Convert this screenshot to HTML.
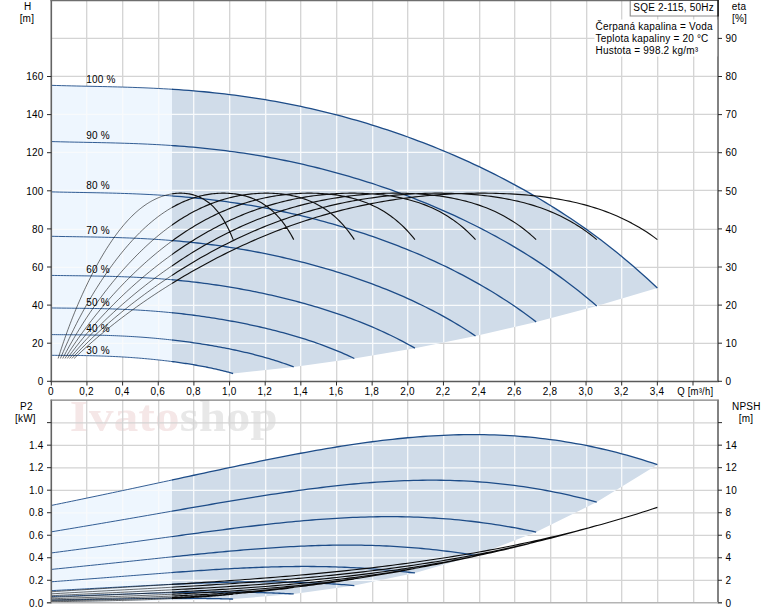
<!DOCTYPE html>
<html><head><meta charset="utf-8"><title>SQE 2-115</title>
<style>html,body{margin:0;padding:0;background:#fff;}body{width:774px;height:611px;overflow:hidden;}svg{display:block;}text{font-family:"Liberation Sans",sans-serif;font-size:10px;letter-spacing:0.2px;fill:#000;}</style>
</head><body>
<svg width="774" height="611" viewBox="0 0 774 611">
<rect x="0" y="0" width="774" height="611" fill="#fff"/>
<defs>
<clipPath id="cl"><rect x="0" y="0" width="172.00" height="611"/></clipPath>
<clipPath id="cr"><rect x="172.00" y="0" width="774" height="611"/></clipPath>
<clipPath id="rh"><path d="M51.30 85.34 L56.39 85.49 L61.49 85.63 L66.58 85.76 L71.67 85.89 L76.76 86.00 L81.86 86.11 L86.95 86.22 L92.04 86.33 L97.14 86.44 L102.23 86.55 L107.32 86.67 L112.41 86.80 L117.51 86.93 L122.60 87.07 L127.69 87.23 L132.79 87.40 L137.88 87.58 L142.97 87.78 L148.06 87.99 L153.16 88.23 L158.25 88.48 L163.34 88.75 L168.44 89.04 L173.53 89.36 L178.62 89.70 L183.71 90.06 L188.81 90.45 L193.90 90.86 L198.99 91.30 L204.09 91.77 L209.18 92.26 L214.27 92.78 L219.36 93.34 L224.46 93.92 L229.55 94.53 L234.64 95.17 L239.74 95.84 L244.83 96.54 L249.92 97.28 L255.01 98.04 L260.11 98.84 L265.20 99.67 L270.29 100.54 L275.39 101.43 L280.48 102.36 L285.57 103.33 L290.66 104.33 L295.76 105.36 L300.85 106.42 L305.94 107.53 L311.04 108.66 L316.13 109.83 L321.22 111.04 L326.31 112.28 L331.41 113.55 L336.50 114.86 L341.59 116.21 L346.69 117.59 L351.78 119.01 L356.87 120.46 L361.96 121.95 L367.06 123.47 L372.15 125.04 L377.24 126.64 L382.34 128.27 L387.43 129.94 L392.52 131.65 L397.61 133.40 L402.71 135.18 L407.80 137.01 L412.89 138.87 L417.99 140.77 L423.08 142.70 L428.17 144.68 L433.26 146.70 L438.36 148.75 L443.45 150.85 L448.54 152.99 L453.64 155.17 L458.73 157.39 L463.82 159.66 L468.91 161.96 L474.01 164.32 L479.10 166.71 L484.19 169.15 L489.29 171.64 L494.38 174.18 L499.47 176.76 L504.56 179.39 L509.66 182.07 L514.75 184.81 L519.84 187.59 L524.94 190.43 L530.03 193.32 L535.12 196.27 L540.21 199.27 L545.31 202.33 L550.40 205.46 L555.49 208.64 L560.59 211.89 L565.68 215.20 L570.77 218.57 L575.86 222.02 L580.96 225.53 L586.05 229.12 L591.14 232.78 L596.24 236.51 L601.33 240.32 L606.42 244.22 L611.51 248.19 L616.61 252.25 L621.70 256.40 L626.79 260.63 L631.89 264.96 L636.98 269.39 L642.07 273.91 L647.16 278.53 L652.26 283.26 L657.35 288.09 L596.75 305.92 L536.14 321.88 L475.53 335.96 L414.93 348.16 L354.32 358.49 L293.72 366.93 L233.12 373.50 L233.12 373.50 L231.59 373.07 L230.06 372.64 L228.53 372.23 L227.00 371.82 L225.48 371.42 L223.95 371.03 L222.42 370.65 L220.89 370.28 L219.36 369.92 L217.84 369.56 L216.31 369.21 L214.78 368.87 L213.25 368.53 L211.73 368.20 L210.20 367.88 L208.67 367.56 L207.14 367.25 L205.61 366.95 L204.09 366.65 L202.56 366.36 L201.03 366.08 L199.50 365.80 L197.97 365.52 L196.45 365.25 L194.92 364.99 L193.39 364.73 L191.86 364.47 L190.33 364.22 L188.81 363.98 L187.28 363.73 L185.75 363.50 L184.22 363.27 L182.70 363.04 L181.17 362.82 L179.64 362.60 L178.11 362.38 L176.58 362.17 L175.06 361.96 L173.53 361.76 L172.00 361.56 L170.47 361.36 L168.94 361.17 L167.42 360.98 L165.89 360.80 L164.36 360.62 L162.83 360.44 L161.31 360.27 L159.78 360.10 L158.25 359.93 L156.72 359.77 L155.19 359.61 L153.67 359.45 L152.14 359.30 L150.61 359.15 L149.08 359.00 L147.56 358.86 L146.03 358.72 L144.50 358.58 L142.97 358.44 L141.44 358.31 L139.92 358.19 L138.39 358.06 L136.86 357.94 L135.33 357.83 L133.80 357.71 L132.28 357.60 L130.75 357.49 L129.22 357.39 L127.69 357.29 L126.17 357.19 L124.64 357.09 L123.11 357.00 L121.58 356.91 L120.05 356.82 L118.53 356.74 L117.00 356.66 L115.47 356.58 L113.94 356.51 L112.41 356.44 L110.89 356.37 L109.36 356.30 L107.83 356.24 L106.30 356.18 L104.78 356.12 L103.25 356.07 L101.72 356.02 L100.19 355.97 L98.66 355.92 L97.14 355.88 L95.61 355.84 L94.08 355.80 L92.55 355.76 L91.02 355.73 L89.50 355.69 L87.97 355.66 L86.44 355.64 L84.91 355.61 L83.38 355.59 L81.86 355.56 L80.33 355.54 L78.80 355.52 L77.27 355.51 L75.75 355.49 L74.22 355.48 L72.69 355.46 L71.16 355.45 L69.63 355.44 L68.11 355.43 L66.58 355.42 L65.05 355.41 L63.52 355.40 L61.99 355.39 L60.47 355.38 L58.94 355.37 L57.41 355.36 L55.88 355.35 L54.36 355.34 L52.83 355.33 L51.30 355.31Z"/></clipPath>
<clipPath id="rp"><path d="M51.30 505.45 L56.39 504.40 L61.49 503.35 L66.58 502.30 L71.67 501.25 L76.76 500.19 L81.86 499.13 L86.95 498.07 L92.04 497.01 L97.14 495.95 L102.23 494.88 L107.32 493.81 L112.41 492.73 L117.51 491.66 L122.60 490.58 L127.69 489.50 L132.79 488.41 L137.88 487.32 L142.97 486.23 L148.06 485.14 L153.16 484.04 L158.25 482.95 L163.34 481.85 L168.44 480.75 L173.53 479.65 L178.62 478.55 L183.71 477.45 L188.81 476.35 L193.90 475.25 L198.99 474.15 L204.09 473.05 L209.18 471.95 L214.27 470.86 L219.36 469.77 L224.46 468.68 L229.55 467.60 L234.64 466.52 L239.74 465.45 L244.83 464.38 L249.92 463.32 L255.01 462.27 L260.11 461.23 L265.20 460.19 L270.29 459.17 L275.39 458.15 L280.48 457.14 L285.57 456.15 L290.66 455.17 L295.76 454.20 L300.85 453.24 L305.94 452.30 L311.04 451.37 L316.13 450.47 L321.22 449.57 L326.31 448.70 L331.41 447.84 L336.50 447.00 L341.59 446.18 L346.69 445.39 L351.78 444.61 L356.87 443.86 L361.96 443.13 L367.06 442.43 L372.15 441.74 L377.24 441.09 L382.34 440.46 L387.43 439.86 L392.52 439.29 L397.61 438.74 L402.71 438.23 L407.80 437.75 L412.89 437.29 L417.99 436.87 L423.08 436.49 L428.17 436.13 L433.26 435.82 L438.36 435.53 L443.45 435.28 L448.54 435.07 L453.64 434.90 L458.73 434.76 L463.82 434.66 L468.91 434.61 L474.01 434.59 L479.10 434.61 L484.19 434.68 L489.29 434.78 L494.38 434.93 L499.47 435.12 L504.56 435.36 L509.66 435.64 L514.75 435.96 L519.84 436.33 L524.94 436.75 L530.03 437.21 L535.12 437.72 L540.21 438.28 L545.31 438.88 L550.40 439.53 L555.49 440.23 L560.59 440.98 L565.68 441.78 L570.77 442.62 L575.86 443.52 L580.96 444.47 L586.05 445.46 L591.14 446.51 L596.24 447.60 L601.33 448.75 L606.42 449.94 L611.51 451.19 L616.61 452.48 L621.70 453.83 L626.79 455.23 L631.89 456.67 L636.98 458.17 L642.07 459.72 L647.16 461.31 L652.26 462.96 L657.35 464.65 L596.75 502.09 L536.14 532.07 L475.53 555.41 L414.93 572.96 L354.32 585.53 L293.72 593.96 L233.12 599.07 L51.30 602.80Z"/></clipPath>
<clipPath id="c0"><rect x="51.30" y="0.50" width="666.70" height="380.90"/></clipPath>
<clipPath id="c1"><rect x="51.30" y="400.30" width="666.70" height="202.50"/></clipPath>
<filter id="bl" x="-5%" y="-20%" width="110%" height="140%"><feGaussianBlur stdDeviation="0.5"/></filter>
</defs>
<g font-family="Liberation Serif,serif" font-weight="bold" opacity="1" filter="url(#bl)"><text x="69.8" y="430.8" textLength="110" lengthAdjust="spacingAndGlyphs" style="font-family:'Liberation Serif',serif;font-weight:bold;font-size:45px;fill:#f5e7e7">Ivato</text><text x="179.8" y="430.8" textLength="98" lengthAdjust="spacingAndGlyphs" style="font-family:'Liberation Serif',serif;font-weight:bold;font-size:45px;fill:#e8e8e8">shop</text></g>
<path d="M86.70 0.50 V381.40 M86.70 400.30 V602.80 M122.70 0.50 V381.40 M122.70 400.30 V602.80 M158.70 0.50 V381.40 M158.70 400.30 V602.80 M193.70 0.50 V381.40 M193.70 400.30 V602.80 M229.70 0.50 V381.40 M229.70 400.30 V602.80 M265.70 0.50 V381.40 M265.70 400.30 V602.80 M300.70 0.50 V381.40 M300.70 400.30 V602.80 M336.70 0.50 V381.40 M336.70 400.30 V602.80 M372.70 0.50 V381.40 M372.70 400.30 V602.80 M407.70 0.50 V381.40 M407.70 400.30 V602.80 M443.70 0.50 V381.40 M443.70 400.30 V602.80 M479.70 0.50 V381.40 M479.70 400.30 V602.80 M514.70 0.50 V381.40 M514.70 400.30 V602.80 M550.70 0.50 V381.40 M550.70 400.30 V602.80 M586.70 0.50 V381.40 M586.70 400.30 V602.80 M621.70 0.50 V381.40 M621.70 400.30 V602.80 M657.70 0.50 V381.40 M657.70 400.30 V602.80 M693.70 0.50 V381.40 M693.70 400.30 V602.80 M51.30 343.30 H718.00 M51.30 305.30 H718.00 M51.30 267.30 H718.00 M51.30 229.30 H718.00 M51.30 190.30 H718.00 M51.30 152.30 H718.00 M51.30 114.30 H718.00 M51.30 76.30 H718.00 M51.30 38.30 H718.00 M51.30 580.30 H718.00 M51.30 557.80 H718.00 M51.30 535.30 H718.00 M51.30 512.80 H718.00 M51.30 490.30 H718.00 M51.30 467.80 H718.00 M51.30 445.30 H718.00 M51.30 422.80 H718.00" fill="none" stroke="#d4d4d4" stroke-width="1.3" />
<g clip-path="url(#cl)"><path d="M51.30 85.34 L56.39 85.49 L61.49 85.63 L66.58 85.76 L71.67 85.89 L76.76 86.00 L81.86 86.11 L86.95 86.22 L92.04 86.33 L97.14 86.44 L102.23 86.55 L107.32 86.67 L112.41 86.80 L117.51 86.93 L122.60 87.07 L127.69 87.23 L132.79 87.40 L137.88 87.58 L142.97 87.78 L148.06 87.99 L153.16 88.23 L158.25 88.48 L163.34 88.75 L168.44 89.04 L173.53 89.36 L178.62 89.70 L183.71 90.06 L188.81 90.45 L193.90 90.86 L198.99 91.30 L204.09 91.77 L209.18 92.26 L214.27 92.78 L219.36 93.34 L224.46 93.92 L229.55 94.53 L234.64 95.17 L239.74 95.84 L244.83 96.54 L249.92 97.28 L255.01 98.04 L260.11 98.84 L265.20 99.67 L270.29 100.54 L275.39 101.43 L280.48 102.36 L285.57 103.33 L290.66 104.33 L295.76 105.36 L300.85 106.42 L305.94 107.53 L311.04 108.66 L316.13 109.83 L321.22 111.04 L326.31 112.28 L331.41 113.55 L336.50 114.86 L341.59 116.21 L346.69 117.59 L351.78 119.01 L356.87 120.46 L361.96 121.95 L367.06 123.47 L372.15 125.04 L377.24 126.64 L382.34 128.27 L387.43 129.94 L392.52 131.65 L397.61 133.40 L402.71 135.18 L407.80 137.01 L412.89 138.87 L417.99 140.77 L423.08 142.70 L428.17 144.68 L433.26 146.70 L438.36 148.75 L443.45 150.85 L448.54 152.99 L453.64 155.17 L458.73 157.39 L463.82 159.66 L468.91 161.96 L474.01 164.32 L479.10 166.71 L484.19 169.15 L489.29 171.64 L494.38 174.18 L499.47 176.76 L504.56 179.39 L509.66 182.07 L514.75 184.81 L519.84 187.59 L524.94 190.43 L530.03 193.32 L535.12 196.27 L540.21 199.27 L545.31 202.33 L550.40 205.46 L555.49 208.64 L560.59 211.89 L565.68 215.20 L570.77 218.57 L575.86 222.02 L580.96 225.53 L586.05 229.12 L591.14 232.78 L596.24 236.51 L601.33 240.32 L606.42 244.22 L611.51 248.19 L616.61 252.25 L621.70 256.40 L626.79 260.63 L631.89 264.96 L636.98 269.39 L642.07 273.91 L647.16 278.53 L652.26 283.26 L657.35 288.09 L596.75 305.92 L536.14 321.88 L475.53 335.96 L414.93 348.16 L354.32 358.49 L293.72 366.93 L233.12 373.50 L233.12 373.50 L231.59 373.07 L230.06 372.64 L228.53 372.23 L227.00 371.82 L225.48 371.42 L223.95 371.03 L222.42 370.65 L220.89 370.28 L219.36 369.92 L217.84 369.56 L216.31 369.21 L214.78 368.87 L213.25 368.53 L211.73 368.20 L210.20 367.88 L208.67 367.56 L207.14 367.25 L205.61 366.95 L204.09 366.65 L202.56 366.36 L201.03 366.08 L199.50 365.80 L197.97 365.52 L196.45 365.25 L194.92 364.99 L193.39 364.73 L191.86 364.47 L190.33 364.22 L188.81 363.98 L187.28 363.73 L185.75 363.50 L184.22 363.27 L182.70 363.04 L181.17 362.82 L179.64 362.60 L178.11 362.38 L176.58 362.17 L175.06 361.96 L173.53 361.76 L172.00 361.56 L170.47 361.36 L168.94 361.17 L167.42 360.98 L165.89 360.80 L164.36 360.62 L162.83 360.44 L161.31 360.27 L159.78 360.10 L158.25 359.93 L156.72 359.77 L155.19 359.61 L153.67 359.45 L152.14 359.30 L150.61 359.15 L149.08 359.00 L147.56 358.86 L146.03 358.72 L144.50 358.58 L142.97 358.44 L141.44 358.31 L139.92 358.19 L138.39 358.06 L136.86 357.94 L135.33 357.83 L133.80 357.71 L132.28 357.60 L130.75 357.49 L129.22 357.39 L127.69 357.29 L126.17 357.19 L124.64 357.09 L123.11 357.00 L121.58 356.91 L120.05 356.82 L118.53 356.74 L117.00 356.66 L115.47 356.58 L113.94 356.51 L112.41 356.44 L110.89 356.37 L109.36 356.30 L107.83 356.24 L106.30 356.18 L104.78 356.12 L103.25 356.07 L101.72 356.02 L100.19 355.97 L98.66 355.92 L97.14 355.88 L95.61 355.84 L94.08 355.80 L92.55 355.76 L91.02 355.73 L89.50 355.69 L87.97 355.66 L86.44 355.64 L84.91 355.61 L83.38 355.59 L81.86 355.56 L80.33 355.54 L78.80 355.52 L77.27 355.51 L75.75 355.49 L74.22 355.48 L72.69 355.46 L71.16 355.45 L69.63 355.44 L68.11 355.43 L66.58 355.42 L65.05 355.41 L63.52 355.40 L61.99 355.39 L60.47 355.38 L58.94 355.37 L57.41 355.36 L55.88 355.35 L54.36 355.34 L52.83 355.33 L51.30 355.31Z" fill="#eef6fe"/><path d="M51.30 505.45 L56.39 504.40 L61.49 503.35 L66.58 502.30 L71.67 501.25 L76.76 500.19 L81.86 499.13 L86.95 498.07 L92.04 497.01 L97.14 495.95 L102.23 494.88 L107.32 493.81 L112.41 492.73 L117.51 491.66 L122.60 490.58 L127.69 489.50 L132.79 488.41 L137.88 487.32 L142.97 486.23 L148.06 485.14 L153.16 484.04 L158.25 482.95 L163.34 481.85 L168.44 480.75 L173.53 479.65 L178.62 478.55 L183.71 477.45 L188.81 476.35 L193.90 475.25 L198.99 474.15 L204.09 473.05 L209.18 471.95 L214.27 470.86 L219.36 469.77 L224.46 468.68 L229.55 467.60 L234.64 466.52 L239.74 465.45 L244.83 464.38 L249.92 463.32 L255.01 462.27 L260.11 461.23 L265.20 460.19 L270.29 459.17 L275.39 458.15 L280.48 457.14 L285.57 456.15 L290.66 455.17 L295.76 454.20 L300.85 453.24 L305.94 452.30 L311.04 451.37 L316.13 450.47 L321.22 449.57 L326.31 448.70 L331.41 447.84 L336.50 447.00 L341.59 446.18 L346.69 445.39 L351.78 444.61 L356.87 443.86 L361.96 443.13 L367.06 442.43 L372.15 441.74 L377.24 441.09 L382.34 440.46 L387.43 439.86 L392.52 439.29 L397.61 438.74 L402.71 438.23 L407.80 437.75 L412.89 437.29 L417.99 436.87 L423.08 436.49 L428.17 436.13 L433.26 435.82 L438.36 435.53 L443.45 435.28 L448.54 435.07 L453.64 434.90 L458.73 434.76 L463.82 434.66 L468.91 434.61 L474.01 434.59 L479.10 434.61 L484.19 434.68 L489.29 434.78 L494.38 434.93 L499.47 435.12 L504.56 435.36 L509.66 435.64 L514.75 435.96 L519.84 436.33 L524.94 436.75 L530.03 437.21 L535.12 437.72 L540.21 438.28 L545.31 438.88 L550.40 439.53 L555.49 440.23 L560.59 440.98 L565.68 441.78 L570.77 442.62 L575.86 443.52 L580.96 444.47 L586.05 445.46 L591.14 446.51 L596.24 447.60 L601.33 448.75 L606.42 449.94 L611.51 451.19 L616.61 452.48 L621.70 453.83 L626.79 455.23 L631.89 456.67 L636.98 458.17 L642.07 459.72 L647.16 461.31 L652.26 462.96 L657.35 464.65 L596.75 502.09 L536.14 532.07 L475.53 555.41 L414.93 572.96 L354.32 585.53 L293.72 593.96 L233.12 599.07 L51.30 602.80Z" fill="#eef6fe"/></g>
<g clip-path="url(#cr)"><path d="M51.30 85.34 L56.39 85.49 L61.49 85.63 L66.58 85.76 L71.67 85.89 L76.76 86.00 L81.86 86.11 L86.95 86.22 L92.04 86.33 L97.14 86.44 L102.23 86.55 L107.32 86.67 L112.41 86.80 L117.51 86.93 L122.60 87.07 L127.69 87.23 L132.79 87.40 L137.88 87.58 L142.97 87.78 L148.06 87.99 L153.16 88.23 L158.25 88.48 L163.34 88.75 L168.44 89.04 L173.53 89.36 L178.62 89.70 L183.71 90.06 L188.81 90.45 L193.90 90.86 L198.99 91.30 L204.09 91.77 L209.18 92.26 L214.27 92.78 L219.36 93.34 L224.46 93.92 L229.55 94.53 L234.64 95.17 L239.74 95.84 L244.83 96.54 L249.92 97.28 L255.01 98.04 L260.11 98.84 L265.20 99.67 L270.29 100.54 L275.39 101.43 L280.48 102.36 L285.57 103.33 L290.66 104.33 L295.76 105.36 L300.85 106.42 L305.94 107.53 L311.04 108.66 L316.13 109.83 L321.22 111.04 L326.31 112.28 L331.41 113.55 L336.50 114.86 L341.59 116.21 L346.69 117.59 L351.78 119.01 L356.87 120.46 L361.96 121.95 L367.06 123.47 L372.15 125.04 L377.24 126.64 L382.34 128.27 L387.43 129.94 L392.52 131.65 L397.61 133.40 L402.71 135.18 L407.80 137.01 L412.89 138.87 L417.99 140.77 L423.08 142.70 L428.17 144.68 L433.26 146.70 L438.36 148.75 L443.45 150.85 L448.54 152.99 L453.64 155.17 L458.73 157.39 L463.82 159.66 L468.91 161.96 L474.01 164.32 L479.10 166.71 L484.19 169.15 L489.29 171.64 L494.38 174.18 L499.47 176.76 L504.56 179.39 L509.66 182.07 L514.75 184.81 L519.84 187.59 L524.94 190.43 L530.03 193.32 L535.12 196.27 L540.21 199.27 L545.31 202.33 L550.40 205.46 L555.49 208.64 L560.59 211.89 L565.68 215.20 L570.77 218.57 L575.86 222.02 L580.96 225.53 L586.05 229.12 L591.14 232.78 L596.24 236.51 L601.33 240.32 L606.42 244.22 L611.51 248.19 L616.61 252.25 L621.70 256.40 L626.79 260.63 L631.89 264.96 L636.98 269.39 L642.07 273.91 L647.16 278.53 L652.26 283.26 L657.35 288.09 L596.75 305.92 L536.14 321.88 L475.53 335.96 L414.93 348.16 L354.32 358.49 L293.72 366.93 L233.12 373.50 L233.12 373.50 L231.59 373.07 L230.06 372.64 L228.53 372.23 L227.00 371.82 L225.48 371.42 L223.95 371.03 L222.42 370.65 L220.89 370.28 L219.36 369.92 L217.84 369.56 L216.31 369.21 L214.78 368.87 L213.25 368.53 L211.73 368.20 L210.20 367.88 L208.67 367.56 L207.14 367.25 L205.61 366.95 L204.09 366.65 L202.56 366.36 L201.03 366.08 L199.50 365.80 L197.97 365.52 L196.45 365.25 L194.92 364.99 L193.39 364.73 L191.86 364.47 L190.33 364.22 L188.81 363.98 L187.28 363.73 L185.75 363.50 L184.22 363.27 L182.70 363.04 L181.17 362.82 L179.64 362.60 L178.11 362.38 L176.58 362.17 L175.06 361.96 L173.53 361.76 L172.00 361.56 L170.47 361.36 L168.94 361.17 L167.42 360.98 L165.89 360.80 L164.36 360.62 L162.83 360.44 L161.31 360.27 L159.78 360.10 L158.25 359.93 L156.72 359.77 L155.19 359.61 L153.67 359.45 L152.14 359.30 L150.61 359.15 L149.08 359.00 L147.56 358.86 L146.03 358.72 L144.50 358.58 L142.97 358.44 L141.44 358.31 L139.92 358.19 L138.39 358.06 L136.86 357.94 L135.33 357.83 L133.80 357.71 L132.28 357.60 L130.75 357.49 L129.22 357.39 L127.69 357.29 L126.17 357.19 L124.64 357.09 L123.11 357.00 L121.58 356.91 L120.05 356.82 L118.53 356.74 L117.00 356.66 L115.47 356.58 L113.94 356.51 L112.41 356.44 L110.89 356.37 L109.36 356.30 L107.83 356.24 L106.30 356.18 L104.78 356.12 L103.25 356.07 L101.72 356.02 L100.19 355.97 L98.66 355.92 L97.14 355.88 L95.61 355.84 L94.08 355.80 L92.55 355.76 L91.02 355.73 L89.50 355.69 L87.97 355.66 L86.44 355.64 L84.91 355.61 L83.38 355.59 L81.86 355.56 L80.33 355.54 L78.80 355.52 L77.27 355.51 L75.75 355.49 L74.22 355.48 L72.69 355.46 L71.16 355.45 L69.63 355.44 L68.11 355.43 L66.58 355.42 L65.05 355.41 L63.52 355.40 L61.99 355.39 L60.47 355.38 L58.94 355.37 L57.41 355.36 L55.88 355.35 L54.36 355.34 L52.83 355.33 L51.30 355.31Z" fill="#d0dce9"/><path d="M51.30 505.45 L56.39 504.40 L61.49 503.35 L66.58 502.30 L71.67 501.25 L76.76 500.19 L81.86 499.13 L86.95 498.07 L92.04 497.01 L97.14 495.95 L102.23 494.88 L107.32 493.81 L112.41 492.73 L117.51 491.66 L122.60 490.58 L127.69 489.50 L132.79 488.41 L137.88 487.32 L142.97 486.23 L148.06 485.14 L153.16 484.04 L158.25 482.95 L163.34 481.85 L168.44 480.75 L173.53 479.65 L178.62 478.55 L183.71 477.45 L188.81 476.35 L193.90 475.25 L198.99 474.15 L204.09 473.05 L209.18 471.95 L214.27 470.86 L219.36 469.77 L224.46 468.68 L229.55 467.60 L234.64 466.52 L239.74 465.45 L244.83 464.38 L249.92 463.32 L255.01 462.27 L260.11 461.23 L265.20 460.19 L270.29 459.17 L275.39 458.15 L280.48 457.14 L285.57 456.15 L290.66 455.17 L295.76 454.20 L300.85 453.24 L305.94 452.30 L311.04 451.37 L316.13 450.47 L321.22 449.57 L326.31 448.70 L331.41 447.84 L336.50 447.00 L341.59 446.18 L346.69 445.39 L351.78 444.61 L356.87 443.86 L361.96 443.13 L367.06 442.43 L372.15 441.74 L377.24 441.09 L382.34 440.46 L387.43 439.86 L392.52 439.29 L397.61 438.74 L402.71 438.23 L407.80 437.75 L412.89 437.29 L417.99 436.87 L423.08 436.49 L428.17 436.13 L433.26 435.82 L438.36 435.53 L443.45 435.28 L448.54 435.07 L453.64 434.90 L458.73 434.76 L463.82 434.66 L468.91 434.61 L474.01 434.59 L479.10 434.61 L484.19 434.68 L489.29 434.78 L494.38 434.93 L499.47 435.12 L504.56 435.36 L509.66 435.64 L514.75 435.96 L519.84 436.33 L524.94 436.75 L530.03 437.21 L535.12 437.72 L540.21 438.28 L545.31 438.88 L550.40 439.53 L555.49 440.23 L560.59 440.98 L565.68 441.78 L570.77 442.62 L575.86 443.52 L580.96 444.47 L586.05 445.46 L591.14 446.51 L596.24 447.60 L601.33 448.75 L606.42 449.94 L611.51 451.19 L616.61 452.48 L621.70 453.83 L626.79 455.23 L631.89 456.67 L636.98 458.17 L642.07 459.72 L647.16 461.31 L652.26 462.96 L657.35 464.65 L596.75 502.09 L536.14 532.07 L475.53 555.41 L414.93 572.96 L354.32 585.53 L293.72 593.96 L233.12 599.07 L51.30 602.80Z" fill="#d0dce9"/></g>
<g clip-path="url(#rh)"><path d="M86.70 0.50 V381.40 M86.70 400.30 V602.80 M122.70 0.50 V381.40 M122.70 400.30 V602.80 M158.70 0.50 V381.40 M158.70 400.30 V602.80 M193.70 0.50 V381.40 M193.70 400.30 V602.80 M229.70 0.50 V381.40 M229.70 400.30 V602.80 M265.70 0.50 V381.40 M265.70 400.30 V602.80 M300.70 0.50 V381.40 M300.70 400.30 V602.80 M336.70 0.50 V381.40 M336.70 400.30 V602.80 M372.70 0.50 V381.40 M372.70 400.30 V602.80 M407.70 0.50 V381.40 M407.70 400.30 V602.80 M443.70 0.50 V381.40 M443.70 400.30 V602.80 M479.70 0.50 V381.40 M479.70 400.30 V602.80 M514.70 0.50 V381.40 M514.70 400.30 V602.80 M550.70 0.50 V381.40 M550.70 400.30 V602.80 M586.70 0.50 V381.40 M586.70 400.30 V602.80 M621.70 0.50 V381.40 M621.70 400.30 V602.80 M657.70 0.50 V381.40 M657.70 400.30 V602.80 M693.70 0.50 V381.40 M693.70 400.30 V602.80 M51.30 343.30 H718.00 M51.30 305.30 H718.00 M51.30 267.30 H718.00 M51.30 229.30 H718.00 M51.30 190.30 H718.00 M51.30 152.30 H718.00 M51.30 114.30 H718.00 M51.30 76.30 H718.00 M51.30 38.30 H718.00 M51.30 580.30 H718.00 M51.30 557.80 H718.00 M51.30 535.30 H718.00 M51.30 512.80 H718.00 M51.30 490.30 H718.00 M51.30 467.80 H718.00 M51.30 445.30 H718.00 M51.30 422.80 H718.00" fill="none" stroke="#f8fafc" stroke-width="1.3" /></g>
<g clip-path="url(#rp)"><path d="M86.70 0.50 V381.40 M86.70 400.30 V602.80 M122.70 0.50 V381.40 M122.70 400.30 V602.80 M158.70 0.50 V381.40 M158.70 400.30 V602.80 M193.70 0.50 V381.40 M193.70 400.30 V602.80 M229.70 0.50 V381.40 M229.70 400.30 V602.80 M265.70 0.50 V381.40 M265.70 400.30 V602.80 M300.70 0.50 V381.40 M300.70 400.30 V602.80 M336.70 0.50 V381.40 M336.70 400.30 V602.80 M372.70 0.50 V381.40 M372.70 400.30 V602.80 M407.70 0.50 V381.40 M407.70 400.30 V602.80 M443.70 0.50 V381.40 M443.70 400.30 V602.80 M479.70 0.50 V381.40 M479.70 400.30 V602.80 M514.70 0.50 V381.40 M514.70 400.30 V602.80 M550.70 0.50 V381.40 M550.70 400.30 V602.80 M586.70 0.50 V381.40 M586.70 400.30 V602.80 M621.70 0.50 V381.40 M621.70 400.30 V602.80 M657.70 0.50 V381.40 M657.70 400.30 V602.80 M693.70 0.50 V381.40 M693.70 400.30 V602.80 M51.30 343.30 H718.00 M51.30 305.30 H718.00 M51.30 267.30 H718.00 M51.30 229.30 H718.00 M51.30 190.30 H718.00 M51.30 152.30 H718.00 M51.30 114.30 H718.00 M51.30 76.30 H718.00 M51.30 38.30 H718.00 M51.30 580.30 H718.00 M51.30 557.80 H718.00 M51.30 535.30 H718.00 M51.30 512.80 H718.00 M51.30 490.30 H718.00 M51.30 467.80 H718.00 M51.30 445.30 H718.00 M51.30 422.80 H718.00" fill="none" stroke="#f8fafc" stroke-width="1.3" /></g>
<g fill="none" stroke="#1d4c88" stroke-linejoin="round">
<path clip-path="url(#cl)" d="M51.30 85.34 L56.39 85.49 L61.49 85.63 L66.58 85.76 L71.67 85.89 L76.76 86.00 L81.86 86.11 L86.95 86.22 L92.04 86.33 L97.14 86.44 L102.23 86.55 L107.32 86.67 L112.41 86.80 L117.51 86.93 L122.60 87.07 L127.69 87.23 L132.79 87.40 L137.88 87.58 L142.97 87.78 L148.06 87.99 L153.16 88.23 L158.25 88.48 L163.34 88.75 L168.44 89.04 L173.53 89.36 L178.62 89.70 L183.71 90.06 L188.81 90.45 L193.90 90.86 L198.99 91.30 L204.09 91.77 L209.18 92.26 L214.27 92.78 L219.36 93.34 L224.46 93.92 L229.55 94.53 L234.64 95.17 L239.74 95.84 L244.83 96.54 L249.92 97.28 L255.01 98.04 L260.11 98.84 L265.20 99.67 L270.29 100.54 L275.39 101.43 L280.48 102.36 L285.57 103.33 L290.66 104.33 L295.76 105.36 L300.85 106.42 L305.94 107.53 L311.04 108.66 L316.13 109.83 L321.22 111.04 L326.31 112.28 L331.41 113.55 L336.50 114.86 L341.59 116.21 L346.69 117.59 L351.78 119.01 L356.87 120.46 L361.96 121.95 L367.06 123.47 L372.15 125.04 L377.24 126.64 L382.34 128.27 L387.43 129.94 L392.52 131.65 L397.61 133.40 L402.71 135.18 L407.80 137.01 L412.89 138.87 L417.99 140.77 L423.08 142.70 L428.17 144.68 L433.26 146.70 L438.36 148.75 L443.45 150.85 L448.54 152.99 L453.64 155.17 L458.73 157.39 L463.82 159.66 L468.91 161.96 L474.01 164.32 L479.10 166.71 L484.19 169.15 L489.29 171.64 L494.38 174.18 L499.47 176.76 L504.56 179.39 L509.66 182.07 L514.75 184.81 L519.84 187.59 L524.94 190.43 L530.03 193.32 L535.12 196.27 L540.21 199.27 L545.31 202.33 L550.40 205.46 L555.49 208.64 L560.59 211.89 L565.68 215.20 L570.77 218.57 L575.86 222.02 L580.96 225.53 L586.05 229.12 L591.14 232.78 L596.24 236.51 L601.33 240.32 L606.42 244.22 L611.51 248.19 L616.61 252.25 L621.70 256.40 L626.79 260.63 L631.89 264.96 L636.98 269.39 L642.07 273.91 L647.16 278.53 L652.26 283.26 L657.35 288.09 M51.30 141.57 L55.88 141.70 L60.47 141.81 L65.05 141.92 L69.63 142.02 L74.22 142.11 L78.80 142.20 L83.38 142.29 L87.97 142.38 L92.55 142.47 L97.14 142.56 L101.72 142.66 L106.30 142.76 L110.89 142.87 L115.47 142.99 L120.05 143.12 L124.64 143.26 L129.22 143.40 L133.80 143.57 L138.39 143.74 L142.97 143.93 L147.56 144.14 L152.14 144.36 L156.72 144.60 L161.31 144.85 L165.89 145.13 L170.47 145.42 L175.06 145.74 L179.64 146.07 L184.22 146.43 L188.81 146.81 L193.39 147.21 L197.97 147.64 L202.56 148.08 L207.14 148.55 L211.73 149.05 L216.31 149.57 L220.89 150.11 L225.48 150.68 L230.06 151.28 L234.64 151.90 L239.23 152.55 L243.81 153.22 L248.39 153.93 L252.98 154.65 L257.56 155.41 L262.14 156.19 L266.73 157.00 L271.31 157.84 L275.89 158.70 L280.48 159.59 L285.06 160.51 L289.65 161.46 L294.23 162.44 L298.81 163.45 L303.40 164.48 L307.98 165.54 L312.56 166.63 L317.15 167.75 L321.73 168.90 L326.31 170.08 L330.90 171.29 L335.48 172.53 L340.06 173.79 L344.65 175.09 L349.23 176.41 L353.82 177.77 L358.40 179.15 L362.98 180.57 L367.57 182.02 L372.15 183.49 L376.73 185.00 L381.32 186.54 L385.90 188.11 L390.48 189.71 L395.07 191.35 L399.65 193.02 L404.24 194.72 L408.82 196.45 L413.40 198.22 L417.99 200.02 L422.57 201.85 L427.15 203.72 L431.74 205.63 L436.32 207.57 L440.90 209.55 L445.49 211.57 L450.07 213.62 L454.65 215.71 L459.24 217.85 L463.82 220.02 L468.40 222.24 L472.99 224.49 L477.57 226.79 L482.16 229.13 L486.74 231.52 L491.32 233.96 L495.91 236.44 L500.49 238.97 L505.07 241.55 L509.66 244.18 L514.24 246.86 L518.82 249.60 L523.41 252.39 L527.99 255.24 L532.57 258.14 L537.16 261.11 L541.74 264.13 L546.33 267.22 L550.91 270.37 L555.49 273.60 L560.08 276.88 L564.66 280.24 L569.24 283.68 L573.83 287.18 L578.41 290.77 L582.99 294.43 L587.58 298.18 L592.16 302.01 L596.75 305.92 M51.30 191.88 L55.37 191.98 L59.45 192.08 L63.52 192.16 L67.60 192.24 L71.67 192.32 L75.75 192.39 L79.82 192.46 L83.89 192.53 L87.97 192.61 L92.04 192.68 L96.12 192.76 L100.19 192.84 L104.27 192.93 L108.34 193.02 L112.41 193.12 L116.49 193.23 L120.56 193.35 L124.64 193.48 L128.71 193.62 L132.79 193.77 L136.86 193.94 L140.93 194.11 L145.01 194.30 L149.08 194.51 L153.16 194.72 L157.23 194.96 L161.31 195.21 L165.38 195.47 L169.45 195.76 L173.53 196.06 L177.60 196.38 L181.68 196.71 L185.75 197.07 L189.83 197.44 L193.90 197.83 L197.97 198.25 L202.05 198.68 L206.12 199.13 L210.20 199.60 L214.27 200.09 L218.35 200.61 L222.42 201.14 L226.49 201.70 L230.57 202.27 L234.64 202.87 L238.72 203.49 L242.79 204.13 L246.87 204.79 L250.94 205.48 L255.01 206.18 L259.09 206.91 L263.16 207.66 L267.24 208.44 L271.31 209.23 L275.39 210.05 L279.46 210.89 L283.53 211.75 L287.61 212.64 L291.68 213.55 L295.76 214.48 L299.83 215.44 L303.91 216.41 L307.98 217.42 L312.05 218.44 L316.13 219.49 L320.20 220.56 L324.28 221.66 L328.35 222.78 L332.43 223.92 L336.50 225.09 L340.57 226.28 L344.65 227.50 L348.72 228.74 L352.80 230.01 L356.87 231.30 L360.95 232.62 L365.02 233.96 L369.09 235.34 L373.17 236.73 L377.24 238.16 L381.32 239.61 L385.39 241.09 L389.47 242.59 L393.54 244.13 L397.61 245.69 L401.69 247.29 L405.76 248.91 L409.84 250.57 L413.91 252.25 L417.99 253.97 L422.06 255.72 L426.13 257.51 L430.21 259.33 L434.28 261.18 L438.36 263.07 L442.43 264.99 L446.51 266.95 L450.58 268.95 L454.65 270.99 L458.73 273.07 L462.80 275.19 L466.88 277.36 L470.95 279.56 L475.03 281.81 L479.10 284.11 L483.17 286.45 L487.25 288.85 L491.32 291.29 L495.40 293.78 L499.47 296.33 L503.55 298.93 L507.62 301.58 L511.69 304.30 L515.77 307.07 L519.84 309.90 L523.92 312.80 L527.99 315.76 L532.07 318.79 L536.14 321.88 M51.30 236.28 L54.86 236.36 L58.43 236.43 L61.99 236.50 L65.56 236.56 L69.12 236.62 L72.69 236.67 L76.25 236.73 L79.82 236.79 L83.38 236.84 L86.95 236.90 L90.52 236.96 L94.08 237.03 L97.64 237.10 L101.21 237.17 L104.78 237.25 L108.34 237.33 L111.91 237.42 L115.47 237.52 L119.03 237.63 L122.60 237.75 L126.16 237.88 L129.73 238.01 L133.30 238.16 L136.86 238.32 L140.43 238.49 L143.99 238.67 L147.56 238.86 L151.12 239.06 L154.69 239.28 L158.25 239.51 L161.81 239.76 L165.38 240.02 L168.94 240.29 L172.51 240.58 L176.07 240.88 L179.64 241.19 L183.20 241.53 L186.77 241.87 L190.33 242.24 L193.90 242.61 L197.47 243.01 L201.03 243.42 L204.59 243.85 L208.16 244.29 L211.73 244.75 L215.29 245.22 L218.86 245.71 L222.42 246.22 L225.99 246.75 L229.55 247.29 L233.12 247.85 L236.68 248.42 L240.25 249.02 L243.81 249.63 L247.38 250.26 L250.94 250.90 L254.50 251.56 L258.07 252.24 L261.63 252.94 L265.20 253.66 L268.76 254.39 L272.33 255.14 L275.89 255.91 L279.46 256.69 L283.02 257.50 L286.59 258.32 L290.16 259.16 L293.72 260.02 L297.29 260.89 L300.85 261.79 L304.41 262.71 L307.98 263.64 L311.55 264.59 L315.11 265.56 L318.68 266.55 L322.24 267.56 L325.81 268.59 L329.37 269.65 L332.94 270.72 L336.50 271.81 L340.07 272.92 L343.63 274.05 L347.20 275.21 L350.76 276.39 L354.32 277.59 L357.89 278.81 L361.45 280.05 L365.02 281.32 L368.59 282.61 L372.15 283.93 L375.72 285.27 L379.28 286.64 L382.85 288.03 L386.41 289.45 L389.98 290.90 L393.54 292.37 L397.11 293.88 L400.67 295.41 L404.24 296.97 L407.80 298.57 L411.37 300.19 L414.93 301.85 L418.50 303.54 L422.06 305.26 L425.62 307.02 L429.19 308.82 L432.76 310.65 L436.32 312.52 L439.89 314.43 L443.45 316.38 L447.02 318.37 L450.58 320.41 L454.15 322.49 L457.71 324.61 L461.28 326.78 L464.84 329.00 L468.40 331.27 L471.97 333.59 L475.53 335.96 M51.30 275.40 L54.36 275.46 L57.41 275.51 L60.47 275.55 L63.52 275.59 L66.58 275.63 L69.63 275.67 L72.69 275.71 L75.75 275.74 L78.80 275.78 L81.86 275.82 L84.91 275.86 L87.97 275.91 L91.02 275.95 L94.08 276.00 L97.14 276.06 L100.19 276.11 L103.25 276.18 L106.30 276.25 L109.36 276.32 L112.41 276.40 L115.47 276.49 L118.53 276.59 L121.58 276.69 L124.64 276.80 L127.69 276.92 L130.75 277.05 L133.80 277.19 L136.86 277.34 L139.92 277.49 L142.97 277.66 L146.03 277.84 L149.08 278.02 L152.14 278.22 L155.19 278.42 L158.25 278.64 L161.31 278.87 L164.36 279.11 L167.42 279.36 L170.47 279.62 L173.53 279.90 L176.58 280.18 L179.64 280.48 L182.70 280.79 L185.75 281.11 L188.81 281.44 L191.86 281.79 L194.92 282.15 L197.97 282.52 L201.03 282.90 L204.09 283.29 L207.14 283.70 L210.20 284.12 L213.25 284.55 L216.31 285.00 L219.36 285.45 L222.42 285.92 L225.48 286.40 L228.53 286.90 L231.59 287.41 L234.64 287.93 L237.70 288.46 L240.75 289.01 L243.81 289.57 L246.87 290.14 L249.92 290.73 L252.98 291.33 L256.03 291.94 L259.09 292.57 L262.14 293.21 L265.20 293.87 L268.26 294.53 L271.31 295.22 L274.37 295.91 L277.42 296.62 L280.48 297.35 L283.53 298.08 L286.59 298.84 L289.65 299.61 L292.70 300.39 L295.76 301.19 L298.81 302.00 L301.87 302.83 L304.92 303.67 L307.98 304.53 L311.04 305.41 L314.09 306.30 L317.15 307.22 L320.20 308.14 L323.26 309.09 L326.31 310.05 L329.37 311.03 L332.43 312.03 L335.48 313.05 L338.54 314.09 L341.59 315.15 L344.65 316.23 L347.70 317.33 L350.76 318.45 L353.82 319.60 L356.87 320.76 L359.93 321.95 L362.98 323.17 L366.04 324.41 L369.09 325.67 L372.15 326.96 L375.21 328.27 L378.26 329.62 L381.32 330.99 L384.37 332.39 L387.43 333.81 L390.48 335.27 L393.54 336.76 L396.60 338.29 L399.65 339.84 L402.71 341.43 L405.76 343.06 L408.82 344.72 L411.87 346.42 L414.93 348.16 M51.30 307.96 L53.85 308.00 L56.39 308.03 L58.94 308.06 L61.49 308.09 L64.03 308.12 L66.58 308.14 L69.12 308.17 L71.67 308.20 L74.22 308.22 L76.76 308.25 L79.31 308.28 L81.86 308.31 L84.40 308.34 L86.95 308.37 L89.50 308.41 L92.04 308.45 L94.59 308.50 L97.14 308.55 L99.68 308.60 L102.23 308.65 L104.78 308.72 L107.32 308.78 L109.87 308.85 L112.41 308.93 L114.96 309.02 L117.51 309.10 L120.05 309.20 L122.60 309.30 L125.15 309.41 L127.69 309.53 L130.24 309.65 L132.79 309.78 L135.33 309.91 L137.88 310.06 L140.43 310.21 L142.97 310.37 L145.52 310.53 L148.06 310.71 L150.61 310.89 L153.16 311.08 L155.70 311.28 L158.25 311.49 L160.80 311.70 L163.34 311.92 L165.89 312.15 L168.44 312.39 L170.98 312.64 L173.53 312.90 L176.07 313.16 L178.62 313.44 L181.17 313.72 L183.71 314.01 L186.26 314.31 L188.81 314.62 L191.35 314.94 L193.90 315.26 L196.45 315.60 L198.99 315.94 L201.54 316.30 L204.09 316.66 L206.63 317.03 L209.18 317.41 L211.73 317.80 L214.27 318.20 L216.82 318.60 L219.36 319.02 L221.91 319.45 L224.46 319.88 L227.00 320.33 L229.55 320.78 L232.10 321.24 L234.64 321.72 L237.19 322.20 L239.74 322.69 L242.28 323.20 L244.83 323.71 L247.38 324.23 L249.92 324.77 L252.47 325.31 L255.01 325.86 L257.56 326.43 L260.11 327.00 L262.65 327.59 L265.20 328.19 L267.75 328.80 L270.29 329.42 L272.84 330.05 L275.39 330.70 L277.93 331.35 L280.48 332.02 L283.02 332.70 L285.57 333.40 L288.12 334.11 L290.66 334.83 L293.21 335.56 L295.76 336.31 L298.30 337.08 L300.85 337.86 L303.40 338.65 L305.94 339.46 L308.49 340.29 L311.04 341.13 L313.58 341.99 L316.13 342.87 L318.68 343.76 L321.22 344.67 L323.77 345.61 L326.31 346.56 L328.86 347.53 L331.41 348.52 L333.95 349.54 L336.50 350.57 L339.05 351.63 L341.59 352.71 L344.14 353.81 L346.69 354.94 L349.23 356.10 L351.78 357.28 L354.32 358.49 M51.30 334.60 L53.34 334.62 L55.37 334.64 L57.41 334.66 L59.45 334.68 L61.49 334.70 L63.52 334.71 L65.56 334.73 L67.60 334.75 L69.63 334.76 L71.67 334.78 L73.71 334.80 L75.75 334.82 L77.78 334.84 L79.82 334.86 L81.86 334.89 L83.89 334.91 L85.93 334.94 L87.97 334.97 L90.01 335.00 L92.04 335.04 L94.08 335.08 L96.12 335.12 L98.15 335.17 L100.19 335.22 L102.23 335.27 L104.27 335.33 L106.30 335.39 L108.34 335.46 L110.38 335.52 L112.41 335.60 L114.45 335.68 L116.49 335.76 L118.53 335.85 L120.56 335.94 L122.60 336.04 L124.64 336.14 L126.67 336.24 L128.71 336.36 L130.75 336.47 L132.79 336.59 L134.82 336.72 L136.86 336.85 L138.90 336.99 L140.93 337.13 L142.97 337.28 L145.01 337.43 L147.05 337.59 L149.08 337.76 L151.12 337.93 L153.16 338.10 L155.19 338.28 L157.23 338.47 L159.27 338.66 L161.31 338.86 L163.34 339.06 L165.38 339.27 L167.42 339.49 L169.45 339.71 L171.49 339.93 L173.53 340.16 L175.57 340.40 L177.60 340.64 L179.64 340.89 L181.68 341.15 L183.71 341.41 L185.75 341.68 L187.79 341.95 L189.83 342.23 L191.86 342.51 L193.90 342.80 L195.94 343.10 L197.97 343.40 L200.01 343.71 L202.05 344.03 L204.09 344.35 L206.12 344.68 L208.16 345.01 L210.20 345.35 L212.23 345.70 L214.27 346.05 L216.31 346.42 L218.35 346.78 L220.38 347.16 L222.42 347.54 L224.46 347.93 L226.49 348.33 L228.53 348.73 L230.57 349.15 L232.61 349.57 L234.64 350.00 L236.68 350.43 L238.72 350.88 L240.75 351.33 L242.79 351.79 L244.83 352.26 L246.87 352.74 L248.90 353.23 L250.94 353.73 L252.98 354.24 L255.01 354.76 L257.05 355.29 L259.09 355.82 L261.13 356.37 L263.16 356.94 L265.20 357.51 L267.24 358.09 L269.27 358.69 L271.31 359.30 L273.35 359.92 L275.39 360.56 L277.42 361.20 L279.46 361.87 L281.50 362.54 L283.53 363.24 L285.57 363.94 L287.61 364.67 L289.65 365.40 L291.68 366.16 L293.72 366.93 M51.30 355.31 L52.83 355.33 L54.36 355.34 L55.88 355.35 L57.41 355.36 L58.94 355.37 L60.47 355.38 L61.99 355.39 L63.52 355.40 L65.05 355.41 L66.58 355.42 L68.11 355.43 L69.63 355.44 L71.16 355.45 L72.69 355.46 L74.22 355.48 L75.75 355.49 L77.27 355.51 L78.80 355.52 L80.33 355.54 L81.86 355.56 L83.38 355.59 L84.91 355.61 L86.44 355.64 L87.97 355.66 L89.50 355.69 L91.02 355.73 L92.55 355.76 L94.08 355.80 L95.61 355.84 L97.14 355.88 L98.66 355.92 L100.19 355.97 L101.72 356.02 L103.25 356.07 L104.78 356.12 L106.30 356.18 L107.83 356.24 L109.36 356.30 L110.89 356.37 L112.41 356.44 L113.94 356.51 L115.47 356.58 L117.00 356.66 L118.53 356.74 L120.05 356.82 L121.58 356.91 L123.11 357.00 L124.64 357.09 L126.17 357.19 L127.69 357.29 L129.22 357.39 L130.75 357.49 L132.28 357.60 L133.80 357.71 L135.33 357.83 L136.86 357.94 L138.39 358.06 L139.92 358.19 L141.44 358.31 L142.97 358.44 L144.50 358.58 L146.03 358.72 L147.56 358.86 L149.08 359.00 L150.61 359.15 L152.14 359.30 L153.67 359.45 L155.19 359.61 L156.72 359.77 L158.25 359.93 L159.78 360.10 L161.31 360.27 L162.83 360.44 L164.36 360.62 L165.89 360.80 L167.42 360.98 L168.94 361.17 L170.47 361.36 L172.00 361.56 L173.53 361.76 L175.06 361.96 L176.58 362.17 L178.11 362.38 L179.64 362.60 L181.17 362.82 L182.70 363.04 L184.22 363.27 L185.75 363.50 L187.28 363.73 L188.81 363.98 L190.33 364.22 L191.86 364.47 L193.39 364.73 L194.92 364.99 L196.45 365.25 L197.97 365.52 L199.50 365.80 L201.03 366.08 L202.56 366.36 L204.09 366.65 L205.61 366.95 L207.14 367.25 L208.67 367.56 L210.20 367.88 L211.73 368.20 L213.25 368.53 L214.78 368.87 L216.31 369.21 L217.84 369.56 L219.36 369.92 L220.89 370.28 L222.42 370.65 L223.95 371.03 L225.48 371.42 L227.00 371.82 L228.53 372.23 L230.06 372.64 L231.59 373.07 L233.12 373.50" stroke-width="0.9"/>
<path clip-path="url(#cr)" d="M51.30 85.34 L56.39 85.49 L61.49 85.63 L66.58 85.76 L71.67 85.89 L76.76 86.00 L81.86 86.11 L86.95 86.22 L92.04 86.33 L97.14 86.44 L102.23 86.55 L107.32 86.67 L112.41 86.80 L117.51 86.93 L122.60 87.07 L127.69 87.23 L132.79 87.40 L137.88 87.58 L142.97 87.78 L148.06 87.99 L153.16 88.23 L158.25 88.48 L163.34 88.75 L168.44 89.04 L173.53 89.36 L178.62 89.70 L183.71 90.06 L188.81 90.45 L193.90 90.86 L198.99 91.30 L204.09 91.77 L209.18 92.26 L214.27 92.78 L219.36 93.34 L224.46 93.92 L229.55 94.53 L234.64 95.17 L239.74 95.84 L244.83 96.54 L249.92 97.28 L255.01 98.04 L260.11 98.84 L265.20 99.67 L270.29 100.54 L275.39 101.43 L280.48 102.36 L285.57 103.33 L290.66 104.33 L295.76 105.36 L300.85 106.42 L305.94 107.53 L311.04 108.66 L316.13 109.83 L321.22 111.04 L326.31 112.28 L331.41 113.55 L336.50 114.86 L341.59 116.21 L346.69 117.59 L351.78 119.01 L356.87 120.46 L361.96 121.95 L367.06 123.47 L372.15 125.04 L377.24 126.64 L382.34 128.27 L387.43 129.94 L392.52 131.65 L397.61 133.40 L402.71 135.18 L407.80 137.01 L412.89 138.87 L417.99 140.77 L423.08 142.70 L428.17 144.68 L433.26 146.70 L438.36 148.75 L443.45 150.85 L448.54 152.99 L453.64 155.17 L458.73 157.39 L463.82 159.66 L468.91 161.96 L474.01 164.32 L479.10 166.71 L484.19 169.15 L489.29 171.64 L494.38 174.18 L499.47 176.76 L504.56 179.39 L509.66 182.07 L514.75 184.81 L519.84 187.59 L524.94 190.43 L530.03 193.32 L535.12 196.27 L540.21 199.27 L545.31 202.33 L550.40 205.46 L555.49 208.64 L560.59 211.89 L565.68 215.20 L570.77 218.57 L575.86 222.02 L580.96 225.53 L586.05 229.12 L591.14 232.78 L596.24 236.51 L601.33 240.32 L606.42 244.22 L611.51 248.19 L616.61 252.25 L621.70 256.40 L626.79 260.63 L631.89 264.96 L636.98 269.39 L642.07 273.91 L647.16 278.53 L652.26 283.26 L657.35 288.09 M51.30 141.57 L55.88 141.70 L60.47 141.81 L65.05 141.92 L69.63 142.02 L74.22 142.11 L78.80 142.20 L83.38 142.29 L87.97 142.38 L92.55 142.47 L97.14 142.56 L101.72 142.66 L106.30 142.76 L110.89 142.87 L115.47 142.99 L120.05 143.12 L124.64 143.26 L129.22 143.40 L133.80 143.57 L138.39 143.74 L142.97 143.93 L147.56 144.14 L152.14 144.36 L156.72 144.60 L161.31 144.85 L165.89 145.13 L170.47 145.42 L175.06 145.74 L179.64 146.07 L184.22 146.43 L188.81 146.81 L193.39 147.21 L197.97 147.64 L202.56 148.08 L207.14 148.55 L211.73 149.05 L216.31 149.57 L220.89 150.11 L225.48 150.68 L230.06 151.28 L234.64 151.90 L239.23 152.55 L243.81 153.22 L248.39 153.93 L252.98 154.65 L257.56 155.41 L262.14 156.19 L266.73 157.00 L271.31 157.84 L275.89 158.70 L280.48 159.59 L285.06 160.51 L289.65 161.46 L294.23 162.44 L298.81 163.45 L303.40 164.48 L307.98 165.54 L312.56 166.63 L317.15 167.75 L321.73 168.90 L326.31 170.08 L330.90 171.29 L335.48 172.53 L340.06 173.79 L344.65 175.09 L349.23 176.41 L353.82 177.77 L358.40 179.15 L362.98 180.57 L367.57 182.02 L372.15 183.49 L376.73 185.00 L381.32 186.54 L385.90 188.11 L390.48 189.71 L395.07 191.35 L399.65 193.02 L404.24 194.72 L408.82 196.45 L413.40 198.22 L417.99 200.02 L422.57 201.85 L427.15 203.72 L431.74 205.63 L436.32 207.57 L440.90 209.55 L445.49 211.57 L450.07 213.62 L454.65 215.71 L459.24 217.85 L463.82 220.02 L468.40 222.24 L472.99 224.49 L477.57 226.79 L482.16 229.13 L486.74 231.52 L491.32 233.96 L495.91 236.44 L500.49 238.97 L505.07 241.55 L509.66 244.18 L514.24 246.86 L518.82 249.60 L523.41 252.39 L527.99 255.24 L532.57 258.14 L537.16 261.11 L541.74 264.13 L546.33 267.22 L550.91 270.37 L555.49 273.60 L560.08 276.88 L564.66 280.24 L569.24 283.68 L573.83 287.18 L578.41 290.77 L582.99 294.43 L587.58 298.18 L592.16 302.01 L596.75 305.92 M51.30 191.88 L55.37 191.98 L59.45 192.08 L63.52 192.16 L67.60 192.24 L71.67 192.32 L75.75 192.39 L79.82 192.46 L83.89 192.53 L87.97 192.61 L92.04 192.68 L96.12 192.76 L100.19 192.84 L104.27 192.93 L108.34 193.02 L112.41 193.12 L116.49 193.23 L120.56 193.35 L124.64 193.48 L128.71 193.62 L132.79 193.77 L136.86 193.94 L140.93 194.11 L145.01 194.30 L149.08 194.51 L153.16 194.72 L157.23 194.96 L161.31 195.21 L165.38 195.47 L169.45 195.76 L173.53 196.06 L177.60 196.38 L181.68 196.71 L185.75 197.07 L189.83 197.44 L193.90 197.83 L197.97 198.25 L202.05 198.68 L206.12 199.13 L210.20 199.60 L214.27 200.09 L218.35 200.61 L222.42 201.14 L226.49 201.70 L230.57 202.27 L234.64 202.87 L238.72 203.49 L242.79 204.13 L246.87 204.79 L250.94 205.48 L255.01 206.18 L259.09 206.91 L263.16 207.66 L267.24 208.44 L271.31 209.23 L275.39 210.05 L279.46 210.89 L283.53 211.75 L287.61 212.64 L291.68 213.55 L295.76 214.48 L299.83 215.44 L303.91 216.41 L307.98 217.42 L312.05 218.44 L316.13 219.49 L320.20 220.56 L324.28 221.66 L328.35 222.78 L332.43 223.92 L336.50 225.09 L340.57 226.28 L344.65 227.50 L348.72 228.74 L352.80 230.01 L356.87 231.30 L360.95 232.62 L365.02 233.96 L369.09 235.34 L373.17 236.73 L377.24 238.16 L381.32 239.61 L385.39 241.09 L389.47 242.59 L393.54 244.13 L397.61 245.69 L401.69 247.29 L405.76 248.91 L409.84 250.57 L413.91 252.25 L417.99 253.97 L422.06 255.72 L426.13 257.51 L430.21 259.33 L434.28 261.18 L438.36 263.07 L442.43 264.99 L446.51 266.95 L450.58 268.95 L454.65 270.99 L458.73 273.07 L462.80 275.19 L466.88 277.36 L470.95 279.56 L475.03 281.81 L479.10 284.11 L483.17 286.45 L487.25 288.85 L491.32 291.29 L495.40 293.78 L499.47 296.33 L503.55 298.93 L507.62 301.58 L511.69 304.30 L515.77 307.07 L519.84 309.90 L523.92 312.80 L527.99 315.76 L532.07 318.79 L536.14 321.88 M51.30 236.28 L54.86 236.36 L58.43 236.43 L61.99 236.50 L65.56 236.56 L69.12 236.62 L72.69 236.67 L76.25 236.73 L79.82 236.79 L83.38 236.84 L86.95 236.90 L90.52 236.96 L94.08 237.03 L97.64 237.10 L101.21 237.17 L104.78 237.25 L108.34 237.33 L111.91 237.42 L115.47 237.52 L119.03 237.63 L122.60 237.75 L126.16 237.88 L129.73 238.01 L133.30 238.16 L136.86 238.32 L140.43 238.49 L143.99 238.67 L147.56 238.86 L151.12 239.06 L154.69 239.28 L158.25 239.51 L161.81 239.76 L165.38 240.02 L168.94 240.29 L172.51 240.58 L176.07 240.88 L179.64 241.19 L183.20 241.53 L186.77 241.87 L190.33 242.24 L193.90 242.61 L197.47 243.01 L201.03 243.42 L204.59 243.85 L208.16 244.29 L211.73 244.75 L215.29 245.22 L218.86 245.71 L222.42 246.22 L225.99 246.75 L229.55 247.29 L233.12 247.85 L236.68 248.42 L240.25 249.02 L243.81 249.63 L247.38 250.26 L250.94 250.90 L254.50 251.56 L258.07 252.24 L261.63 252.94 L265.20 253.66 L268.76 254.39 L272.33 255.14 L275.89 255.91 L279.46 256.69 L283.02 257.50 L286.59 258.32 L290.16 259.16 L293.72 260.02 L297.29 260.89 L300.85 261.79 L304.41 262.71 L307.98 263.64 L311.55 264.59 L315.11 265.56 L318.68 266.55 L322.24 267.56 L325.81 268.59 L329.37 269.65 L332.94 270.72 L336.50 271.81 L340.07 272.92 L343.63 274.05 L347.20 275.21 L350.76 276.39 L354.32 277.59 L357.89 278.81 L361.45 280.05 L365.02 281.32 L368.59 282.61 L372.15 283.93 L375.72 285.27 L379.28 286.64 L382.85 288.03 L386.41 289.45 L389.98 290.90 L393.54 292.37 L397.11 293.88 L400.67 295.41 L404.24 296.97 L407.80 298.57 L411.37 300.19 L414.93 301.85 L418.50 303.54 L422.06 305.26 L425.62 307.02 L429.19 308.82 L432.76 310.65 L436.32 312.52 L439.89 314.43 L443.45 316.38 L447.02 318.37 L450.58 320.41 L454.15 322.49 L457.71 324.61 L461.28 326.78 L464.84 329.00 L468.40 331.27 L471.97 333.59 L475.53 335.96 M51.30 275.40 L54.36 275.46 L57.41 275.51 L60.47 275.55 L63.52 275.59 L66.58 275.63 L69.63 275.67 L72.69 275.71 L75.75 275.74 L78.80 275.78 L81.86 275.82 L84.91 275.86 L87.97 275.91 L91.02 275.95 L94.08 276.00 L97.14 276.06 L100.19 276.11 L103.25 276.18 L106.30 276.25 L109.36 276.32 L112.41 276.40 L115.47 276.49 L118.53 276.59 L121.58 276.69 L124.64 276.80 L127.69 276.92 L130.75 277.05 L133.80 277.19 L136.86 277.34 L139.92 277.49 L142.97 277.66 L146.03 277.84 L149.08 278.02 L152.14 278.22 L155.19 278.42 L158.25 278.64 L161.31 278.87 L164.36 279.11 L167.42 279.36 L170.47 279.62 L173.53 279.90 L176.58 280.18 L179.64 280.48 L182.70 280.79 L185.75 281.11 L188.81 281.44 L191.86 281.79 L194.92 282.15 L197.97 282.52 L201.03 282.90 L204.09 283.29 L207.14 283.70 L210.20 284.12 L213.25 284.55 L216.31 285.00 L219.36 285.45 L222.42 285.92 L225.48 286.40 L228.53 286.90 L231.59 287.41 L234.64 287.93 L237.70 288.46 L240.75 289.01 L243.81 289.57 L246.87 290.14 L249.92 290.73 L252.98 291.33 L256.03 291.94 L259.09 292.57 L262.14 293.21 L265.20 293.87 L268.26 294.53 L271.31 295.22 L274.37 295.91 L277.42 296.62 L280.48 297.35 L283.53 298.08 L286.59 298.84 L289.65 299.61 L292.70 300.39 L295.76 301.19 L298.81 302.00 L301.87 302.83 L304.92 303.67 L307.98 304.53 L311.04 305.41 L314.09 306.30 L317.15 307.22 L320.20 308.14 L323.26 309.09 L326.31 310.05 L329.37 311.03 L332.43 312.03 L335.48 313.05 L338.54 314.09 L341.59 315.15 L344.65 316.23 L347.70 317.33 L350.76 318.45 L353.82 319.60 L356.87 320.76 L359.93 321.95 L362.98 323.17 L366.04 324.41 L369.09 325.67 L372.15 326.96 L375.21 328.27 L378.26 329.62 L381.32 330.99 L384.37 332.39 L387.43 333.81 L390.48 335.27 L393.54 336.76 L396.60 338.29 L399.65 339.84 L402.71 341.43 L405.76 343.06 L408.82 344.72 L411.87 346.42 L414.93 348.16 M51.30 307.96 L53.85 308.00 L56.39 308.03 L58.94 308.06 L61.49 308.09 L64.03 308.12 L66.58 308.14 L69.12 308.17 L71.67 308.20 L74.22 308.22 L76.76 308.25 L79.31 308.28 L81.86 308.31 L84.40 308.34 L86.95 308.37 L89.50 308.41 L92.04 308.45 L94.59 308.50 L97.14 308.55 L99.68 308.60 L102.23 308.65 L104.78 308.72 L107.32 308.78 L109.87 308.85 L112.41 308.93 L114.96 309.02 L117.51 309.10 L120.05 309.20 L122.60 309.30 L125.15 309.41 L127.69 309.53 L130.24 309.65 L132.79 309.78 L135.33 309.91 L137.88 310.06 L140.43 310.21 L142.97 310.37 L145.52 310.53 L148.06 310.71 L150.61 310.89 L153.16 311.08 L155.70 311.28 L158.25 311.49 L160.80 311.70 L163.34 311.92 L165.89 312.15 L168.44 312.39 L170.98 312.64 L173.53 312.90 L176.07 313.16 L178.62 313.44 L181.17 313.72 L183.71 314.01 L186.26 314.31 L188.81 314.62 L191.35 314.94 L193.90 315.26 L196.45 315.60 L198.99 315.94 L201.54 316.30 L204.09 316.66 L206.63 317.03 L209.18 317.41 L211.73 317.80 L214.27 318.20 L216.82 318.60 L219.36 319.02 L221.91 319.45 L224.46 319.88 L227.00 320.33 L229.55 320.78 L232.10 321.24 L234.64 321.72 L237.19 322.20 L239.74 322.69 L242.28 323.20 L244.83 323.71 L247.38 324.23 L249.92 324.77 L252.47 325.31 L255.01 325.86 L257.56 326.43 L260.11 327.00 L262.65 327.59 L265.20 328.19 L267.75 328.80 L270.29 329.42 L272.84 330.05 L275.39 330.70 L277.93 331.35 L280.48 332.02 L283.02 332.70 L285.57 333.40 L288.12 334.11 L290.66 334.83 L293.21 335.56 L295.76 336.31 L298.30 337.08 L300.85 337.86 L303.40 338.65 L305.94 339.46 L308.49 340.29 L311.04 341.13 L313.58 341.99 L316.13 342.87 L318.68 343.76 L321.22 344.67 L323.77 345.61 L326.31 346.56 L328.86 347.53 L331.41 348.52 L333.95 349.54 L336.50 350.57 L339.05 351.63 L341.59 352.71 L344.14 353.81 L346.69 354.94 L349.23 356.10 L351.78 357.28 L354.32 358.49 M51.30 334.60 L53.34 334.62 L55.37 334.64 L57.41 334.66 L59.45 334.68 L61.49 334.70 L63.52 334.71 L65.56 334.73 L67.60 334.75 L69.63 334.76 L71.67 334.78 L73.71 334.80 L75.75 334.82 L77.78 334.84 L79.82 334.86 L81.86 334.89 L83.89 334.91 L85.93 334.94 L87.97 334.97 L90.01 335.00 L92.04 335.04 L94.08 335.08 L96.12 335.12 L98.15 335.17 L100.19 335.22 L102.23 335.27 L104.27 335.33 L106.30 335.39 L108.34 335.46 L110.38 335.52 L112.41 335.60 L114.45 335.68 L116.49 335.76 L118.53 335.85 L120.56 335.94 L122.60 336.04 L124.64 336.14 L126.67 336.24 L128.71 336.36 L130.75 336.47 L132.79 336.59 L134.82 336.72 L136.86 336.85 L138.90 336.99 L140.93 337.13 L142.97 337.28 L145.01 337.43 L147.05 337.59 L149.08 337.76 L151.12 337.93 L153.16 338.10 L155.19 338.28 L157.23 338.47 L159.27 338.66 L161.31 338.86 L163.34 339.06 L165.38 339.27 L167.42 339.49 L169.45 339.71 L171.49 339.93 L173.53 340.16 L175.57 340.40 L177.60 340.64 L179.64 340.89 L181.68 341.15 L183.71 341.41 L185.75 341.68 L187.79 341.95 L189.83 342.23 L191.86 342.51 L193.90 342.80 L195.94 343.10 L197.97 343.40 L200.01 343.71 L202.05 344.03 L204.09 344.35 L206.12 344.68 L208.16 345.01 L210.20 345.35 L212.23 345.70 L214.27 346.05 L216.31 346.42 L218.35 346.78 L220.38 347.16 L222.42 347.54 L224.46 347.93 L226.49 348.33 L228.53 348.73 L230.57 349.15 L232.61 349.57 L234.64 350.00 L236.68 350.43 L238.72 350.88 L240.75 351.33 L242.79 351.79 L244.83 352.26 L246.87 352.74 L248.90 353.23 L250.94 353.73 L252.98 354.24 L255.01 354.76 L257.05 355.29 L259.09 355.82 L261.13 356.37 L263.16 356.94 L265.20 357.51 L267.24 358.09 L269.27 358.69 L271.31 359.30 L273.35 359.92 L275.39 360.56 L277.42 361.20 L279.46 361.87 L281.50 362.54 L283.53 363.24 L285.57 363.94 L287.61 364.67 L289.65 365.40 L291.68 366.16 L293.72 366.93 M51.30 355.31 L52.83 355.33 L54.36 355.34 L55.88 355.35 L57.41 355.36 L58.94 355.37 L60.47 355.38 L61.99 355.39 L63.52 355.40 L65.05 355.41 L66.58 355.42 L68.11 355.43 L69.63 355.44 L71.16 355.45 L72.69 355.46 L74.22 355.48 L75.75 355.49 L77.27 355.51 L78.80 355.52 L80.33 355.54 L81.86 355.56 L83.38 355.59 L84.91 355.61 L86.44 355.64 L87.97 355.66 L89.50 355.69 L91.02 355.73 L92.55 355.76 L94.08 355.80 L95.61 355.84 L97.14 355.88 L98.66 355.92 L100.19 355.97 L101.72 356.02 L103.25 356.07 L104.78 356.12 L106.30 356.18 L107.83 356.24 L109.36 356.30 L110.89 356.37 L112.41 356.44 L113.94 356.51 L115.47 356.58 L117.00 356.66 L118.53 356.74 L120.05 356.82 L121.58 356.91 L123.11 357.00 L124.64 357.09 L126.17 357.19 L127.69 357.29 L129.22 357.39 L130.75 357.49 L132.28 357.60 L133.80 357.71 L135.33 357.83 L136.86 357.94 L138.39 358.06 L139.92 358.19 L141.44 358.31 L142.97 358.44 L144.50 358.58 L146.03 358.72 L147.56 358.86 L149.08 359.00 L150.61 359.15 L152.14 359.30 L153.67 359.45 L155.19 359.61 L156.72 359.77 L158.25 359.93 L159.78 360.10 L161.31 360.27 L162.83 360.44 L164.36 360.62 L165.89 360.80 L167.42 360.98 L168.94 361.17 L170.47 361.36 L172.00 361.56 L173.53 361.76 L175.06 361.96 L176.58 362.17 L178.11 362.38 L179.64 362.60 L181.17 362.82 L182.70 363.04 L184.22 363.27 L185.75 363.50 L187.28 363.73 L188.81 363.98 L190.33 364.22 L191.86 364.47 L193.39 364.73 L194.92 364.99 L196.45 365.25 L197.97 365.52 L199.50 365.80 L201.03 366.08 L202.56 366.36 L204.09 366.65 L205.61 366.95 L207.14 367.25 L208.67 367.56 L210.20 367.88 L211.73 368.20 L213.25 368.53 L214.78 368.87 L216.31 369.21 L217.84 369.56 L219.36 369.92 L220.89 370.28 L222.42 370.65 L223.95 371.03 L225.48 371.42 L227.00 371.82 L228.53 372.23 L230.06 372.64 L231.59 373.07 L233.12 373.50" stroke-width="1.3"/>
</g>
<g fill="none" stroke="#1d4c88" stroke-linejoin="round">
<path clip-path="url(#cl)" d="M51.30 505.45 L56.39 504.40 L61.49 503.35 L66.58 502.30 L71.67 501.25 L76.76 500.19 L81.86 499.13 L86.95 498.07 L92.04 497.01 L97.14 495.95 L102.23 494.88 L107.32 493.81 L112.41 492.73 L117.51 491.66 L122.60 490.58 L127.69 489.50 L132.79 488.41 L137.88 487.32 L142.97 486.23 L148.06 485.14 L153.16 484.04 L158.25 482.95 L163.34 481.85 L168.44 480.75 L173.53 479.65 L178.62 478.55 L183.71 477.45 L188.81 476.35 L193.90 475.25 L198.99 474.15 L204.09 473.05 L209.18 471.95 L214.27 470.86 L219.36 469.77 L224.46 468.68 L229.55 467.60 L234.64 466.52 L239.74 465.45 L244.83 464.38 L249.92 463.32 L255.01 462.27 L260.11 461.23 L265.20 460.19 L270.29 459.17 L275.39 458.15 L280.48 457.14 L285.57 456.15 L290.66 455.17 L295.76 454.20 L300.85 453.24 L305.94 452.30 L311.04 451.37 L316.13 450.47 L321.22 449.57 L326.31 448.70 L331.41 447.84 L336.50 447.00 L341.59 446.18 L346.69 445.39 L351.78 444.61 L356.87 443.86 L361.96 443.13 L367.06 442.43 L372.15 441.74 L377.24 441.09 L382.34 440.46 L387.43 439.86 L392.52 439.29 L397.61 438.74 L402.71 438.23 L407.80 437.75 L412.89 437.29 L417.99 436.87 L423.08 436.49 L428.17 436.13 L433.26 435.82 L438.36 435.53 L443.45 435.28 L448.54 435.07 L453.64 434.90 L458.73 434.76 L463.82 434.66 L468.91 434.61 L474.01 434.59 L479.10 434.61 L484.19 434.68 L489.29 434.78 L494.38 434.93 L499.47 435.12 L504.56 435.36 L509.66 435.64 L514.75 435.96 L519.84 436.33 L524.94 436.75 L530.03 437.21 L535.12 437.72 L540.21 438.28 L545.31 438.88 L550.40 439.53 L555.49 440.23 L560.59 440.98 L565.68 441.78 L570.77 442.62 L575.86 443.52 L580.96 444.47 L586.05 445.46 L591.14 446.51 L596.24 447.60 L601.33 448.75 L606.42 449.94 L611.51 451.19 L616.61 452.48 L621.70 453.83 L626.79 455.23 L631.89 456.67 L636.98 458.17 L642.07 459.72 L647.16 461.31 L652.26 462.96 L657.35 464.65 M51.30 531.83 L55.88 531.07 L60.47 530.30 L65.05 529.53 L69.63 528.77 L74.22 528.00 L78.80 527.23 L83.38 526.45 L87.97 525.68 L92.55 524.90 L97.14 524.13 L101.72 523.35 L106.30 522.56 L110.89 521.78 L115.47 520.99 L120.05 520.20 L124.64 519.41 L129.22 518.62 L133.80 517.82 L138.39 517.03 L142.97 516.23 L147.56 515.43 L152.14 514.63 L156.72 513.83 L161.31 513.02 L165.89 512.22 L170.47 511.42 L175.06 510.62 L179.64 509.81 L184.22 509.01 L188.81 508.21 L193.39 507.41 L197.97 506.62 L202.56 505.82 L207.14 505.03 L211.73 504.24 L216.31 503.45 L220.89 502.67 L225.48 501.90 L230.06 501.12 L234.64 500.36 L239.23 499.59 L243.81 498.84 L248.39 498.09 L252.98 497.35 L257.56 496.62 L262.14 495.89 L266.73 495.18 L271.31 494.47 L275.89 493.77 L280.48 493.09 L285.06 492.41 L289.65 491.75 L294.23 491.10 L298.81 490.46 L303.40 489.83 L307.98 489.22 L312.56 488.63 L317.15 488.05 L321.73 487.48 L326.31 486.93 L330.90 486.40 L335.48 485.89 L340.06 485.39 L344.65 484.91 L349.23 484.46 L353.82 484.02 L358.40 483.60 L362.98 483.20 L367.57 482.83 L372.15 482.48 L376.73 482.15 L381.32 481.84 L385.90 481.56 L390.48 481.30 L395.07 481.07 L399.65 480.86 L404.24 480.68 L408.82 480.53 L413.40 480.40 L417.99 480.30 L422.57 480.23 L427.15 480.19 L431.74 480.17 L436.32 480.19 L440.90 480.24 L445.49 480.32 L450.07 480.42 L454.65 480.56 L459.24 480.74 L463.82 480.94 L468.40 481.18 L472.99 481.45 L477.57 481.75 L482.16 482.09 L486.74 482.46 L491.32 482.86 L495.91 483.30 L500.49 483.78 L505.07 484.29 L509.66 484.83 L514.24 485.42 L518.82 486.03 L523.41 486.69 L527.99 487.37 L532.57 488.10 L537.16 488.86 L541.74 489.66 L546.33 490.50 L550.91 491.37 L555.49 492.28 L560.08 493.22 L564.66 494.20 L569.24 495.22 L573.83 496.27 L578.41 497.36 L582.99 498.49 L587.58 499.65 L592.16 500.85 L596.75 502.09 M51.30 552.96 L55.37 552.42 L59.45 551.88 L63.52 551.34 L67.60 550.80 L71.67 550.26 L75.75 549.72 L79.82 549.18 L83.89 548.64 L87.97 548.09 L92.04 547.54 L96.12 547.00 L100.19 546.45 L104.27 545.90 L108.34 545.34 L112.41 544.79 L116.49 544.23 L120.56 543.68 L124.64 543.12 L128.71 542.56 L132.79 542.00 L136.86 541.44 L140.93 540.87 L145.01 540.31 L149.08 539.75 L153.16 539.18 L157.23 538.62 L161.31 538.06 L165.38 537.49 L169.45 536.93 L173.53 536.37 L177.60 535.81 L181.68 535.25 L185.75 534.69 L189.83 534.13 L193.90 533.58 L197.97 533.03 L202.05 532.48 L206.12 531.93 L210.20 531.39 L214.27 530.85 L218.35 530.32 L222.42 529.78 L226.49 529.26 L230.57 528.74 L234.64 528.22 L238.72 527.71 L242.79 527.21 L246.87 526.72 L250.94 526.23 L255.01 525.74 L259.09 525.27 L263.16 524.80 L267.24 524.35 L271.31 523.90 L275.39 523.46 L279.46 523.03 L283.53 522.61 L287.61 522.20 L291.68 521.81 L295.76 521.42 L299.83 521.05 L303.91 520.69 L307.98 520.34 L312.05 520.00 L316.13 519.68 L320.20 519.38 L324.28 519.08 L328.35 518.80 L332.43 518.54 L336.50 518.29 L340.57 518.06 L344.65 517.85 L348.72 517.65 L352.80 517.47 L356.87 517.30 L360.95 517.16 L365.02 517.03 L369.09 516.92 L373.17 516.83 L377.24 516.76 L381.32 516.71 L385.39 516.68 L389.47 516.68 L393.54 516.69 L397.61 516.72 L401.69 516.77 L405.76 516.85 L409.84 516.95 L413.91 517.07 L417.99 517.21 L422.06 517.38 L426.13 517.57 L430.21 517.78 L434.28 518.02 L438.36 518.28 L442.43 518.56 L446.51 518.87 L450.58 519.21 L454.65 519.57 L458.73 519.95 L462.80 520.36 L466.88 520.79 L470.95 521.25 L475.03 521.73 L479.10 522.24 L483.17 522.78 L487.25 523.34 L491.32 523.92 L495.40 524.54 L499.47 525.17 L503.55 525.84 L507.62 526.53 L511.69 527.24 L515.77 527.98 L519.84 528.75 L523.92 529.54 L527.99 530.36 L532.07 531.20 L536.14 532.07 M51.30 569.41 L54.86 569.05 L58.43 568.69 L61.99 568.33 L65.56 567.97 L69.12 567.61 L72.69 567.24 L76.25 566.88 L79.82 566.51 L83.38 566.15 L86.95 565.78 L90.52 565.42 L94.08 565.05 L97.64 564.68 L101.21 564.31 L104.78 563.94 L108.34 563.56 L111.91 563.19 L115.47 562.82 L119.03 562.44 L122.60 562.07 L126.16 561.69 L129.73 561.31 L133.30 560.94 L136.86 560.56 L140.43 560.18 L143.99 559.80 L147.56 559.43 L151.12 559.05 L154.69 558.67 L158.25 558.30 L161.81 557.92 L165.38 557.54 L168.94 557.17 L172.51 556.80 L176.07 556.43 L179.64 556.06 L183.20 555.69 L186.77 555.32 L190.33 554.96 L193.90 554.60 L197.47 554.24 L201.03 553.89 L204.59 553.53 L208.16 553.18 L211.73 552.84 L215.29 552.50 L218.86 552.16 L222.42 551.83 L225.99 551.50 L229.55 551.18 L233.12 550.86 L236.68 550.55 L240.25 550.24 L243.81 549.94 L247.38 549.65 L250.94 549.36 L254.50 549.08 L258.07 548.81 L261.63 548.54 L265.20 548.28 L268.76 548.03 L272.33 547.79 L275.89 547.56 L279.46 547.33 L283.02 547.12 L286.59 546.91 L290.16 546.72 L293.72 546.53 L297.29 546.35 L300.85 546.19 L304.41 546.03 L307.98 545.89 L311.55 545.75 L315.11 545.63 L318.68 545.52 L322.24 545.43 L325.81 545.34 L329.37 545.27 L332.94 545.21 L336.50 545.16 L340.07 545.13 L343.63 545.11 L347.20 545.10 L350.76 545.11 L354.32 545.13 L357.89 545.17 L361.45 545.22 L365.02 545.29 L368.59 545.37 L372.15 545.46 L375.72 545.58 L379.28 545.70 L382.85 545.84 L386.41 546.00 L389.98 546.18 L393.54 546.37 L397.11 546.58 L400.67 546.80 L404.24 547.04 L407.80 547.30 L411.37 547.57 L414.93 547.86 L418.50 548.17 L422.06 548.49 L425.62 548.83 L429.19 549.19 L432.76 549.57 L436.32 549.96 L439.89 550.37 L443.45 550.80 L447.02 551.24 L450.58 551.70 L454.15 552.18 L457.71 552.68 L461.28 553.19 L464.84 553.72 L468.40 554.27 L471.97 554.83 L475.53 555.41 M51.30 581.77 L54.36 581.55 L57.41 581.32 L60.47 581.09 L63.52 580.86 L66.58 580.64 L69.63 580.41 L72.69 580.18 L75.75 579.95 L78.80 579.72 L81.86 579.49 L84.91 579.26 L87.97 579.03 L91.02 578.79 L94.08 578.56 L97.14 578.33 L100.19 578.09 L103.25 577.86 L106.30 577.62 L109.36 577.39 L112.41 577.15 L115.47 576.91 L118.53 576.67 L121.58 576.44 L124.64 576.20 L127.69 575.96 L130.75 575.72 L133.80 575.49 L136.86 575.25 L139.92 575.01 L142.97 574.77 L146.03 574.54 L149.08 574.30 L152.14 574.07 L155.19 573.83 L158.25 573.60 L161.31 573.36 L164.36 573.13 L167.42 572.90 L170.47 572.67 L173.53 572.45 L176.58 572.22 L179.64 572.00 L182.70 571.77 L185.75 571.56 L188.81 571.34 L191.86 571.12 L194.92 570.91 L197.97 570.70 L201.03 570.50 L204.09 570.29 L207.14 570.09 L210.20 569.90 L213.25 569.70 L216.31 569.51 L219.36 569.33 L222.42 569.15 L225.48 568.97 L228.53 568.80 L231.59 568.63 L234.64 568.47 L237.70 568.31 L240.75 568.16 L243.81 568.01 L246.87 567.87 L249.92 567.73 L252.98 567.61 L256.03 567.48 L259.09 567.36 L262.14 567.25 L265.20 567.15 L268.26 567.05 L271.31 566.96 L274.37 566.88 L277.42 566.80 L280.48 566.73 L283.53 566.67 L286.59 566.62 L289.65 566.57 L292.70 566.53 L295.76 566.50 L298.81 566.48 L301.87 566.47 L304.92 566.47 L307.98 566.47 L311.04 566.49 L314.09 566.51 L317.15 566.54 L320.20 566.58 L323.26 566.63 L326.31 566.69 L329.37 566.76 L332.43 566.84 L335.48 566.93 L338.54 567.03 L341.59 567.14 L344.65 567.26 L347.70 567.39 L350.76 567.53 L353.82 567.69 L356.87 567.85 L359.93 568.02 L362.98 568.20 L366.04 568.40 L369.09 568.60 L372.15 568.81 L375.21 569.04 L378.26 569.28 L381.32 569.52 L384.37 569.78 L387.43 570.05 L390.48 570.33 L393.54 570.62 L396.60 570.92 L399.65 571.24 L402.71 571.56 L405.76 571.89 L408.82 572.24 L411.87 572.59 L414.93 572.96 M51.30 590.63 L53.85 590.50 L56.39 590.37 L58.94 590.24 L61.49 590.11 L64.03 589.97 L66.58 589.84 L69.12 589.71 L71.67 589.58 L74.22 589.44 L76.76 589.31 L79.31 589.18 L81.86 589.04 L84.40 588.91 L86.95 588.77 L89.50 588.64 L92.04 588.50 L94.59 588.37 L97.14 588.23 L99.68 588.09 L102.23 587.96 L104.78 587.82 L107.32 587.68 L109.87 587.54 L112.41 587.41 L114.96 587.27 L117.51 587.13 L120.05 586.99 L122.60 586.86 L125.15 586.72 L127.69 586.58 L130.24 586.44 L132.79 586.31 L135.33 586.17 L137.88 586.04 L140.43 585.90 L142.97 585.77 L145.52 585.63 L148.06 585.50 L150.61 585.37 L153.16 585.23 L155.70 585.10 L158.25 584.97 L160.80 584.85 L163.34 584.72 L165.89 584.59 L168.44 584.47 L170.98 584.35 L173.53 584.22 L176.07 584.11 L178.62 583.99 L181.17 583.87 L183.71 583.76 L186.26 583.65 L188.81 583.54 L191.35 583.43 L193.90 583.33 L196.45 583.22 L198.99 583.12 L201.54 583.03 L204.09 582.93 L206.63 582.84 L209.18 582.75 L211.73 582.67 L214.27 582.59 L216.82 582.51 L219.36 582.43 L221.91 582.36 L224.46 582.29 L227.00 582.23 L229.55 582.17 L232.10 582.11 L234.64 582.06 L237.19 582.01 L239.74 581.97 L242.28 581.93 L244.83 581.89 L247.38 581.86 L249.92 581.83 L252.47 581.81 L255.01 581.80 L257.56 581.78 L260.11 581.78 L262.65 581.77 L265.20 581.78 L267.75 581.78 L270.29 581.80 L272.84 581.82 L275.39 581.84 L277.93 581.87 L280.48 581.90 L283.02 581.95 L285.57 581.99 L288.12 582.04 L290.66 582.10 L293.21 582.17 L295.76 582.23 L298.30 582.31 L300.85 582.39 L303.40 582.48 L305.94 582.57 L308.49 582.67 L311.04 582.78 L313.58 582.89 L316.13 583.01 L318.68 583.13 L321.22 583.26 L323.77 583.40 L326.31 583.54 L328.86 583.69 L331.41 583.85 L333.95 584.01 L336.50 584.18 L339.05 584.35 L341.59 584.53 L344.14 584.72 L346.69 584.91 L349.23 585.11 L351.78 585.32 L354.32 585.53 M51.30 596.57 L53.34 596.50 L55.37 596.44 L57.41 596.37 L59.45 596.30 L61.49 596.23 L63.52 596.17 L65.56 596.10 L67.60 596.03 L69.63 595.96 L71.67 595.89 L73.71 595.82 L75.75 595.76 L77.78 595.69 L79.82 595.62 L81.86 595.55 L83.89 595.48 L85.93 595.41 L87.97 595.34 L90.01 595.27 L92.04 595.20 L94.08 595.13 L96.12 595.06 L98.15 594.99 L100.19 594.92 L102.23 594.85 L104.27 594.78 L106.30 594.71 L108.34 594.64 L110.38 594.57 L112.41 594.50 L114.45 594.43 L116.49 594.36 L118.53 594.29 L120.56 594.22 L122.60 594.15 L124.64 594.08 L126.67 594.01 L128.71 593.94 L130.75 593.87 L132.79 593.81 L134.82 593.74 L136.86 593.67 L138.90 593.61 L140.93 593.54 L142.97 593.48 L145.01 593.41 L147.05 593.35 L149.08 593.29 L151.12 593.23 L153.16 593.17 L155.19 593.11 L157.23 593.05 L159.27 592.99 L161.31 592.94 L163.34 592.88 L165.38 592.83 L167.42 592.78 L169.45 592.73 L171.49 592.68 L173.53 592.63 L175.57 592.58 L177.60 592.54 L179.64 592.49 L181.68 592.45 L183.71 592.41 L185.75 592.37 L187.79 592.34 L189.83 592.30 L191.86 592.27 L193.90 592.24 L195.94 592.21 L197.97 592.18 L200.01 592.16 L202.05 592.13 L204.09 592.11 L206.12 592.09 L208.16 592.08 L210.20 592.07 L212.23 592.05 L214.27 592.05 L216.31 592.04 L218.35 592.04 L220.38 592.03 L222.42 592.04 L224.46 592.04 L226.49 592.05 L228.53 592.06 L230.57 592.07 L232.61 592.08 L234.64 592.10 L236.68 592.12 L238.72 592.15 L240.75 592.17 L242.79 592.20 L244.83 592.23 L246.87 592.27 L248.90 592.31 L250.94 592.35 L252.98 592.40 L255.01 592.44 L257.05 592.49 L259.09 592.55 L261.13 592.61 L263.16 592.67 L265.20 592.73 L267.24 592.80 L269.27 592.87 L271.31 592.94 L273.35 593.02 L275.39 593.10 L277.42 593.18 L279.46 593.27 L281.50 593.36 L283.53 593.45 L285.57 593.54 L287.61 593.64 L289.65 593.74 L291.68 593.85 L293.72 593.96 M51.30 600.17 L52.83 600.14 L54.36 600.11 L55.88 600.09 L57.41 600.06 L58.94 600.03 L60.47 600.00 L61.99 599.97 L63.52 599.94 L65.05 599.91 L66.58 599.89 L68.11 599.86 L69.63 599.83 L71.16 599.80 L72.69 599.77 L74.22 599.74 L75.75 599.71 L77.27 599.68 L78.80 599.65 L80.33 599.62 L81.86 599.59 L83.38 599.56 L84.91 599.53 L86.44 599.50 L87.97 599.47 L89.50 599.45 L91.02 599.42 L92.55 599.39 L94.08 599.36 L95.61 599.33 L97.14 599.30 L98.66 599.27 L100.19 599.24 L101.72 599.21 L103.25 599.18 L104.78 599.15 L106.30 599.12 L107.83 599.09 L109.36 599.06 L110.89 599.03 L112.41 599.01 L113.94 598.98 L115.47 598.95 L117.00 598.92 L118.53 598.89 L120.05 598.87 L121.58 598.84 L123.11 598.81 L124.64 598.79 L126.17 598.76 L127.69 598.74 L129.22 598.71 L130.75 598.69 L132.28 598.66 L133.80 598.64 L135.33 598.62 L136.86 598.59 L138.39 598.57 L139.92 598.55 L141.44 598.53 L142.97 598.51 L144.50 598.49 L146.03 598.47 L147.56 598.45 L149.08 598.43 L150.61 598.42 L152.14 598.40 L153.67 598.39 L155.19 598.37 L156.72 598.36 L158.25 598.34 L159.78 598.33 L161.31 598.32 L162.83 598.31 L164.36 598.30 L165.89 598.29 L167.42 598.28 L168.94 598.28 L170.47 598.27 L172.00 598.27 L173.53 598.26 L175.06 598.26 L176.58 598.26 L178.11 598.26 L179.64 598.26 L181.17 598.26 L182.70 598.26 L184.22 598.27 L185.75 598.27 L187.28 598.28 L188.81 598.29 L190.33 598.30 L191.86 598.31 L193.39 598.32 L194.92 598.33 L196.45 598.34 L197.97 598.36 L199.50 598.37 L201.03 598.39 L202.56 598.41 L204.09 598.43 L205.61 598.45 L207.14 598.48 L208.67 598.50 L210.20 598.52 L211.73 598.55 L213.25 598.58 L214.78 598.61 L216.31 598.64 L217.84 598.67 L219.36 598.71 L220.89 598.74 L222.42 598.78 L223.95 598.82 L225.48 598.85 L227.00 598.89 L228.53 598.94 L230.06 598.98 L231.59 599.02 L233.12 599.07" stroke-width="0.9"/>
<path clip-path="url(#cr)" d="M51.30 505.45 L56.39 504.40 L61.49 503.35 L66.58 502.30 L71.67 501.25 L76.76 500.19 L81.86 499.13 L86.95 498.07 L92.04 497.01 L97.14 495.95 L102.23 494.88 L107.32 493.81 L112.41 492.73 L117.51 491.66 L122.60 490.58 L127.69 489.50 L132.79 488.41 L137.88 487.32 L142.97 486.23 L148.06 485.14 L153.16 484.04 L158.25 482.95 L163.34 481.85 L168.44 480.75 L173.53 479.65 L178.62 478.55 L183.71 477.45 L188.81 476.35 L193.90 475.25 L198.99 474.15 L204.09 473.05 L209.18 471.95 L214.27 470.86 L219.36 469.77 L224.46 468.68 L229.55 467.60 L234.64 466.52 L239.74 465.45 L244.83 464.38 L249.92 463.32 L255.01 462.27 L260.11 461.23 L265.20 460.19 L270.29 459.17 L275.39 458.15 L280.48 457.14 L285.57 456.15 L290.66 455.17 L295.76 454.20 L300.85 453.24 L305.94 452.30 L311.04 451.37 L316.13 450.47 L321.22 449.57 L326.31 448.70 L331.41 447.84 L336.50 447.00 L341.59 446.18 L346.69 445.39 L351.78 444.61 L356.87 443.86 L361.96 443.13 L367.06 442.43 L372.15 441.74 L377.24 441.09 L382.34 440.46 L387.43 439.86 L392.52 439.29 L397.61 438.74 L402.71 438.23 L407.80 437.75 L412.89 437.29 L417.99 436.87 L423.08 436.49 L428.17 436.13 L433.26 435.82 L438.36 435.53 L443.45 435.28 L448.54 435.07 L453.64 434.90 L458.73 434.76 L463.82 434.66 L468.91 434.61 L474.01 434.59 L479.10 434.61 L484.19 434.68 L489.29 434.78 L494.38 434.93 L499.47 435.12 L504.56 435.36 L509.66 435.64 L514.75 435.96 L519.84 436.33 L524.94 436.75 L530.03 437.21 L535.12 437.72 L540.21 438.28 L545.31 438.88 L550.40 439.53 L555.49 440.23 L560.59 440.98 L565.68 441.78 L570.77 442.62 L575.86 443.52 L580.96 444.47 L586.05 445.46 L591.14 446.51 L596.24 447.60 L601.33 448.75 L606.42 449.94 L611.51 451.19 L616.61 452.48 L621.70 453.83 L626.79 455.23 L631.89 456.67 L636.98 458.17 L642.07 459.72 L647.16 461.31 L652.26 462.96 L657.35 464.65 M51.30 531.83 L55.88 531.07 L60.47 530.30 L65.05 529.53 L69.63 528.77 L74.22 528.00 L78.80 527.23 L83.38 526.45 L87.97 525.68 L92.55 524.90 L97.14 524.13 L101.72 523.35 L106.30 522.56 L110.89 521.78 L115.47 520.99 L120.05 520.20 L124.64 519.41 L129.22 518.62 L133.80 517.82 L138.39 517.03 L142.97 516.23 L147.56 515.43 L152.14 514.63 L156.72 513.83 L161.31 513.02 L165.89 512.22 L170.47 511.42 L175.06 510.62 L179.64 509.81 L184.22 509.01 L188.81 508.21 L193.39 507.41 L197.97 506.62 L202.56 505.82 L207.14 505.03 L211.73 504.24 L216.31 503.45 L220.89 502.67 L225.48 501.90 L230.06 501.12 L234.64 500.36 L239.23 499.59 L243.81 498.84 L248.39 498.09 L252.98 497.35 L257.56 496.62 L262.14 495.89 L266.73 495.18 L271.31 494.47 L275.89 493.77 L280.48 493.09 L285.06 492.41 L289.65 491.75 L294.23 491.10 L298.81 490.46 L303.40 489.83 L307.98 489.22 L312.56 488.63 L317.15 488.05 L321.73 487.48 L326.31 486.93 L330.90 486.40 L335.48 485.89 L340.06 485.39 L344.65 484.91 L349.23 484.46 L353.82 484.02 L358.40 483.60 L362.98 483.20 L367.57 482.83 L372.15 482.48 L376.73 482.15 L381.32 481.84 L385.90 481.56 L390.48 481.30 L395.07 481.07 L399.65 480.86 L404.24 480.68 L408.82 480.53 L413.40 480.40 L417.99 480.30 L422.57 480.23 L427.15 480.19 L431.74 480.17 L436.32 480.19 L440.90 480.24 L445.49 480.32 L450.07 480.42 L454.65 480.56 L459.24 480.74 L463.82 480.94 L468.40 481.18 L472.99 481.45 L477.57 481.75 L482.16 482.09 L486.74 482.46 L491.32 482.86 L495.91 483.30 L500.49 483.78 L505.07 484.29 L509.66 484.83 L514.24 485.42 L518.82 486.03 L523.41 486.69 L527.99 487.37 L532.57 488.10 L537.16 488.86 L541.74 489.66 L546.33 490.50 L550.91 491.37 L555.49 492.28 L560.08 493.22 L564.66 494.20 L569.24 495.22 L573.83 496.27 L578.41 497.36 L582.99 498.49 L587.58 499.65 L592.16 500.85 L596.75 502.09 M51.30 552.96 L55.37 552.42 L59.45 551.88 L63.52 551.34 L67.60 550.80 L71.67 550.26 L75.75 549.72 L79.82 549.18 L83.89 548.64 L87.97 548.09 L92.04 547.54 L96.12 547.00 L100.19 546.45 L104.27 545.90 L108.34 545.34 L112.41 544.79 L116.49 544.23 L120.56 543.68 L124.64 543.12 L128.71 542.56 L132.79 542.00 L136.86 541.44 L140.93 540.87 L145.01 540.31 L149.08 539.75 L153.16 539.18 L157.23 538.62 L161.31 538.06 L165.38 537.49 L169.45 536.93 L173.53 536.37 L177.60 535.81 L181.68 535.25 L185.75 534.69 L189.83 534.13 L193.90 533.58 L197.97 533.03 L202.05 532.48 L206.12 531.93 L210.20 531.39 L214.27 530.85 L218.35 530.32 L222.42 529.78 L226.49 529.26 L230.57 528.74 L234.64 528.22 L238.72 527.71 L242.79 527.21 L246.87 526.72 L250.94 526.23 L255.01 525.74 L259.09 525.27 L263.16 524.80 L267.24 524.35 L271.31 523.90 L275.39 523.46 L279.46 523.03 L283.53 522.61 L287.61 522.20 L291.68 521.81 L295.76 521.42 L299.83 521.05 L303.91 520.69 L307.98 520.34 L312.05 520.00 L316.13 519.68 L320.20 519.38 L324.28 519.08 L328.35 518.80 L332.43 518.54 L336.50 518.29 L340.57 518.06 L344.65 517.85 L348.72 517.65 L352.80 517.47 L356.87 517.30 L360.95 517.16 L365.02 517.03 L369.09 516.92 L373.17 516.83 L377.24 516.76 L381.32 516.71 L385.39 516.68 L389.47 516.68 L393.54 516.69 L397.61 516.72 L401.69 516.77 L405.76 516.85 L409.84 516.95 L413.91 517.07 L417.99 517.21 L422.06 517.38 L426.13 517.57 L430.21 517.78 L434.28 518.02 L438.36 518.28 L442.43 518.56 L446.51 518.87 L450.58 519.21 L454.65 519.57 L458.73 519.95 L462.80 520.36 L466.88 520.79 L470.95 521.25 L475.03 521.73 L479.10 522.24 L483.17 522.78 L487.25 523.34 L491.32 523.92 L495.40 524.54 L499.47 525.17 L503.55 525.84 L507.62 526.53 L511.69 527.24 L515.77 527.98 L519.84 528.75 L523.92 529.54 L527.99 530.36 L532.07 531.20 L536.14 532.07 M51.30 569.41 L54.86 569.05 L58.43 568.69 L61.99 568.33 L65.56 567.97 L69.12 567.61 L72.69 567.24 L76.25 566.88 L79.82 566.51 L83.38 566.15 L86.95 565.78 L90.52 565.42 L94.08 565.05 L97.64 564.68 L101.21 564.31 L104.78 563.94 L108.34 563.56 L111.91 563.19 L115.47 562.82 L119.03 562.44 L122.60 562.07 L126.16 561.69 L129.73 561.31 L133.30 560.94 L136.86 560.56 L140.43 560.18 L143.99 559.80 L147.56 559.43 L151.12 559.05 L154.69 558.67 L158.25 558.30 L161.81 557.92 L165.38 557.54 L168.94 557.17 L172.51 556.80 L176.07 556.43 L179.64 556.06 L183.20 555.69 L186.77 555.32 L190.33 554.96 L193.90 554.60 L197.47 554.24 L201.03 553.89 L204.59 553.53 L208.16 553.18 L211.73 552.84 L215.29 552.50 L218.86 552.16 L222.42 551.83 L225.99 551.50 L229.55 551.18 L233.12 550.86 L236.68 550.55 L240.25 550.24 L243.81 549.94 L247.38 549.65 L250.94 549.36 L254.50 549.08 L258.07 548.81 L261.63 548.54 L265.20 548.28 L268.76 548.03 L272.33 547.79 L275.89 547.56 L279.46 547.33 L283.02 547.12 L286.59 546.91 L290.16 546.72 L293.72 546.53 L297.29 546.35 L300.85 546.19 L304.41 546.03 L307.98 545.89 L311.55 545.75 L315.11 545.63 L318.68 545.52 L322.24 545.43 L325.81 545.34 L329.37 545.27 L332.94 545.21 L336.50 545.16 L340.07 545.13 L343.63 545.11 L347.20 545.10 L350.76 545.11 L354.32 545.13 L357.89 545.17 L361.45 545.22 L365.02 545.29 L368.59 545.37 L372.15 545.46 L375.72 545.58 L379.28 545.70 L382.85 545.84 L386.41 546.00 L389.98 546.18 L393.54 546.37 L397.11 546.58 L400.67 546.80 L404.24 547.04 L407.80 547.30 L411.37 547.57 L414.93 547.86 L418.50 548.17 L422.06 548.49 L425.62 548.83 L429.19 549.19 L432.76 549.57 L436.32 549.96 L439.89 550.37 L443.45 550.80 L447.02 551.24 L450.58 551.70 L454.15 552.18 L457.71 552.68 L461.28 553.19 L464.84 553.72 L468.40 554.27 L471.97 554.83 L475.53 555.41 M51.30 581.77 L54.36 581.55 L57.41 581.32 L60.47 581.09 L63.52 580.86 L66.58 580.64 L69.63 580.41 L72.69 580.18 L75.75 579.95 L78.80 579.72 L81.86 579.49 L84.91 579.26 L87.97 579.03 L91.02 578.79 L94.08 578.56 L97.14 578.33 L100.19 578.09 L103.25 577.86 L106.30 577.62 L109.36 577.39 L112.41 577.15 L115.47 576.91 L118.53 576.67 L121.58 576.44 L124.64 576.20 L127.69 575.96 L130.75 575.72 L133.80 575.49 L136.86 575.25 L139.92 575.01 L142.97 574.77 L146.03 574.54 L149.08 574.30 L152.14 574.07 L155.19 573.83 L158.25 573.60 L161.31 573.36 L164.36 573.13 L167.42 572.90 L170.47 572.67 L173.53 572.45 L176.58 572.22 L179.64 572.00 L182.70 571.77 L185.75 571.56 L188.81 571.34 L191.86 571.12 L194.92 570.91 L197.97 570.70 L201.03 570.50 L204.09 570.29 L207.14 570.09 L210.20 569.90 L213.25 569.70 L216.31 569.51 L219.36 569.33 L222.42 569.15 L225.48 568.97 L228.53 568.80 L231.59 568.63 L234.64 568.47 L237.70 568.31 L240.75 568.16 L243.81 568.01 L246.87 567.87 L249.92 567.73 L252.98 567.61 L256.03 567.48 L259.09 567.36 L262.14 567.25 L265.20 567.15 L268.26 567.05 L271.31 566.96 L274.37 566.88 L277.42 566.80 L280.48 566.73 L283.53 566.67 L286.59 566.62 L289.65 566.57 L292.70 566.53 L295.76 566.50 L298.81 566.48 L301.87 566.47 L304.92 566.47 L307.98 566.47 L311.04 566.49 L314.09 566.51 L317.15 566.54 L320.20 566.58 L323.26 566.63 L326.31 566.69 L329.37 566.76 L332.43 566.84 L335.48 566.93 L338.54 567.03 L341.59 567.14 L344.65 567.26 L347.70 567.39 L350.76 567.53 L353.82 567.69 L356.87 567.85 L359.93 568.02 L362.98 568.20 L366.04 568.40 L369.09 568.60 L372.15 568.81 L375.21 569.04 L378.26 569.28 L381.32 569.52 L384.37 569.78 L387.43 570.05 L390.48 570.33 L393.54 570.62 L396.60 570.92 L399.65 571.24 L402.71 571.56 L405.76 571.89 L408.82 572.24 L411.87 572.59 L414.93 572.96 M51.30 590.63 L53.85 590.50 L56.39 590.37 L58.94 590.24 L61.49 590.11 L64.03 589.97 L66.58 589.84 L69.12 589.71 L71.67 589.58 L74.22 589.44 L76.76 589.31 L79.31 589.18 L81.86 589.04 L84.40 588.91 L86.95 588.77 L89.50 588.64 L92.04 588.50 L94.59 588.37 L97.14 588.23 L99.68 588.09 L102.23 587.96 L104.78 587.82 L107.32 587.68 L109.87 587.54 L112.41 587.41 L114.96 587.27 L117.51 587.13 L120.05 586.99 L122.60 586.86 L125.15 586.72 L127.69 586.58 L130.24 586.44 L132.79 586.31 L135.33 586.17 L137.88 586.04 L140.43 585.90 L142.97 585.77 L145.52 585.63 L148.06 585.50 L150.61 585.37 L153.16 585.23 L155.70 585.10 L158.25 584.97 L160.80 584.85 L163.34 584.72 L165.89 584.59 L168.44 584.47 L170.98 584.35 L173.53 584.22 L176.07 584.11 L178.62 583.99 L181.17 583.87 L183.71 583.76 L186.26 583.65 L188.81 583.54 L191.35 583.43 L193.90 583.33 L196.45 583.22 L198.99 583.12 L201.54 583.03 L204.09 582.93 L206.63 582.84 L209.18 582.75 L211.73 582.67 L214.27 582.59 L216.82 582.51 L219.36 582.43 L221.91 582.36 L224.46 582.29 L227.00 582.23 L229.55 582.17 L232.10 582.11 L234.64 582.06 L237.19 582.01 L239.74 581.97 L242.28 581.93 L244.83 581.89 L247.38 581.86 L249.92 581.83 L252.47 581.81 L255.01 581.80 L257.56 581.78 L260.11 581.78 L262.65 581.77 L265.20 581.78 L267.75 581.78 L270.29 581.80 L272.84 581.82 L275.39 581.84 L277.93 581.87 L280.48 581.90 L283.02 581.95 L285.57 581.99 L288.12 582.04 L290.66 582.10 L293.21 582.17 L295.76 582.23 L298.30 582.31 L300.85 582.39 L303.40 582.48 L305.94 582.57 L308.49 582.67 L311.04 582.78 L313.58 582.89 L316.13 583.01 L318.68 583.13 L321.22 583.26 L323.77 583.40 L326.31 583.54 L328.86 583.69 L331.41 583.85 L333.95 584.01 L336.50 584.18 L339.05 584.35 L341.59 584.53 L344.14 584.72 L346.69 584.91 L349.23 585.11 L351.78 585.32 L354.32 585.53 M51.30 596.57 L53.34 596.50 L55.37 596.44 L57.41 596.37 L59.45 596.30 L61.49 596.23 L63.52 596.17 L65.56 596.10 L67.60 596.03 L69.63 595.96 L71.67 595.89 L73.71 595.82 L75.75 595.76 L77.78 595.69 L79.82 595.62 L81.86 595.55 L83.89 595.48 L85.93 595.41 L87.97 595.34 L90.01 595.27 L92.04 595.20 L94.08 595.13 L96.12 595.06 L98.15 594.99 L100.19 594.92 L102.23 594.85 L104.27 594.78 L106.30 594.71 L108.34 594.64 L110.38 594.57 L112.41 594.50 L114.45 594.43 L116.49 594.36 L118.53 594.29 L120.56 594.22 L122.60 594.15 L124.64 594.08 L126.67 594.01 L128.71 593.94 L130.75 593.87 L132.79 593.81 L134.82 593.74 L136.86 593.67 L138.90 593.61 L140.93 593.54 L142.97 593.48 L145.01 593.41 L147.05 593.35 L149.08 593.29 L151.12 593.23 L153.16 593.17 L155.19 593.11 L157.23 593.05 L159.27 592.99 L161.31 592.94 L163.34 592.88 L165.38 592.83 L167.42 592.78 L169.45 592.73 L171.49 592.68 L173.53 592.63 L175.57 592.58 L177.60 592.54 L179.64 592.49 L181.68 592.45 L183.71 592.41 L185.75 592.37 L187.79 592.34 L189.83 592.30 L191.86 592.27 L193.90 592.24 L195.94 592.21 L197.97 592.18 L200.01 592.16 L202.05 592.13 L204.09 592.11 L206.12 592.09 L208.16 592.08 L210.20 592.07 L212.23 592.05 L214.27 592.05 L216.31 592.04 L218.35 592.04 L220.38 592.03 L222.42 592.04 L224.46 592.04 L226.49 592.05 L228.53 592.06 L230.57 592.07 L232.61 592.08 L234.64 592.10 L236.68 592.12 L238.72 592.15 L240.75 592.17 L242.79 592.20 L244.83 592.23 L246.87 592.27 L248.90 592.31 L250.94 592.35 L252.98 592.40 L255.01 592.44 L257.05 592.49 L259.09 592.55 L261.13 592.61 L263.16 592.67 L265.20 592.73 L267.24 592.80 L269.27 592.87 L271.31 592.94 L273.35 593.02 L275.39 593.10 L277.42 593.18 L279.46 593.27 L281.50 593.36 L283.53 593.45 L285.57 593.54 L287.61 593.64 L289.65 593.74 L291.68 593.85 L293.72 593.96 M51.30 600.17 L52.83 600.14 L54.36 600.11 L55.88 600.09 L57.41 600.06 L58.94 600.03 L60.47 600.00 L61.99 599.97 L63.52 599.94 L65.05 599.91 L66.58 599.89 L68.11 599.86 L69.63 599.83 L71.16 599.80 L72.69 599.77 L74.22 599.74 L75.75 599.71 L77.27 599.68 L78.80 599.65 L80.33 599.62 L81.86 599.59 L83.38 599.56 L84.91 599.53 L86.44 599.50 L87.97 599.47 L89.50 599.45 L91.02 599.42 L92.55 599.39 L94.08 599.36 L95.61 599.33 L97.14 599.30 L98.66 599.27 L100.19 599.24 L101.72 599.21 L103.25 599.18 L104.78 599.15 L106.30 599.12 L107.83 599.09 L109.36 599.06 L110.89 599.03 L112.41 599.01 L113.94 598.98 L115.47 598.95 L117.00 598.92 L118.53 598.89 L120.05 598.87 L121.58 598.84 L123.11 598.81 L124.64 598.79 L126.17 598.76 L127.69 598.74 L129.22 598.71 L130.75 598.69 L132.28 598.66 L133.80 598.64 L135.33 598.62 L136.86 598.59 L138.39 598.57 L139.92 598.55 L141.44 598.53 L142.97 598.51 L144.50 598.49 L146.03 598.47 L147.56 598.45 L149.08 598.43 L150.61 598.42 L152.14 598.40 L153.67 598.39 L155.19 598.37 L156.72 598.36 L158.25 598.34 L159.78 598.33 L161.31 598.32 L162.83 598.31 L164.36 598.30 L165.89 598.29 L167.42 598.28 L168.94 598.28 L170.47 598.27 L172.00 598.27 L173.53 598.26 L175.06 598.26 L176.58 598.26 L178.11 598.26 L179.64 598.26 L181.17 598.26 L182.70 598.26 L184.22 598.27 L185.75 598.27 L187.28 598.28 L188.81 598.29 L190.33 598.30 L191.86 598.31 L193.39 598.32 L194.92 598.33 L196.45 598.34 L197.97 598.36 L199.50 598.37 L201.03 598.39 L202.56 598.41 L204.09 598.43 L205.61 598.45 L207.14 598.48 L208.67 598.50 L210.20 598.52 L211.73 598.55 L213.25 598.58 L214.78 598.61 L216.31 598.64 L217.84 598.67 L219.36 598.71 L220.89 598.74 L222.42 598.78 L223.95 598.82 L225.48 598.85 L227.00 598.89 L228.53 598.94 L230.06 598.98 L231.59 599.02 L233.12 599.07" stroke-width="1.3"/>
</g>
<g fill="none" stroke="#0a0a0a" stroke-linejoin="round">
<path clip-path="url(#cl)" d="M51.30 591.75 L56.39 591.42 L61.49 591.10 L66.58 590.78 L71.67 590.46 L76.76 590.14 L81.86 589.83 L86.95 589.52 L92.04 589.21 L97.14 588.90 L102.23 588.59 L107.32 588.29 L112.41 587.98 L117.51 587.68 L122.60 587.38 L127.69 587.07 L132.79 586.77 L137.88 586.47 L142.97 586.16 L148.06 585.86 L153.16 585.55 L158.25 585.25 L163.34 584.94 L168.44 584.63 L173.53 584.31 L178.62 584.00 L183.71 583.68 L188.81 583.36 L193.90 583.03 L198.99 582.71 L204.09 582.38 L209.18 582.04 L214.27 581.70 L219.36 581.36 L224.46 581.01 L229.55 580.66 L234.64 580.30 L239.74 579.93 L244.83 579.57 L249.92 579.19 L255.01 578.81 L260.11 578.42 L265.20 578.02 L270.29 577.62 L275.39 577.21 L280.48 576.80 L285.57 576.37 L290.66 575.94 L295.76 575.50 L300.85 575.05 L305.94 574.59 L311.04 574.13 L316.13 573.65 L321.22 573.17 L326.31 572.67 L331.41 572.17 L336.50 571.65 L341.59 571.12 L346.69 570.59 L351.78 570.04 L356.87 569.48 L361.96 568.91 L367.06 568.33 L372.15 567.73 L377.24 567.13 L382.34 566.51 L387.43 565.88 L392.52 565.23 L397.61 564.57 L402.71 563.90 L407.80 563.21 L412.89 562.51 L417.99 561.80 L423.08 561.07 L428.17 560.33 L433.26 559.57 L438.36 558.80 L443.45 558.01 L448.54 557.20 L453.64 556.38 L458.73 555.54 L463.82 554.69 L468.91 553.81 L474.01 552.93 L479.10 552.02 L484.19 551.10 L489.29 550.16 L494.38 549.20 L499.47 548.22 L504.56 547.22 L509.66 546.21 L514.75 545.17 L519.84 544.12 L524.94 543.04 L530.03 541.95 L535.12 540.84 L540.21 539.70 L545.31 538.55 L550.40 537.37 L555.49 536.17 L560.59 534.96 L565.68 533.72 L570.77 532.45 L575.86 531.17 L580.96 529.86 L586.05 528.53 L591.14 527.18 L596.24 525.80 L601.33 524.41 L606.42 522.98 L611.51 521.54 L616.61 520.06 L621.70 518.57 L626.79 517.05 L631.89 515.50 L636.98 513.93 L642.07 512.34 L647.16 510.71 L652.26 509.07 L657.35 507.39 M51.30 593.85 L55.88 593.58 L60.47 593.32 L65.05 593.06 L69.63 592.80 L74.22 592.55 L78.80 592.29 L83.38 592.04 L87.97 591.79 L92.55 591.54 L97.14 591.29 L101.72 591.05 L106.30 590.80 L110.89 590.55 L115.47 590.31 L120.05 590.06 L124.64 589.82 L129.22 589.57 L133.80 589.32 L138.39 589.08 L142.97 588.83 L147.56 588.58 L152.14 588.33 L156.72 588.08 L161.31 587.83 L165.89 587.57 L170.47 587.31 L175.06 587.05 L179.64 586.79 L184.22 586.53 L188.81 586.26 L193.39 585.99 L197.97 585.71 L202.56 585.43 L207.14 585.15 L211.73 584.86 L216.31 584.57 L220.89 584.28 L225.48 583.98 L230.06 583.68 L234.64 583.37 L239.23 583.05 L243.81 582.73 L248.39 582.41 L252.98 582.08 L257.56 581.74 L262.14 581.39 L266.73 581.04 L271.31 580.69 L275.89 580.32 L280.48 579.95 L285.06 579.58 L289.65 579.19 L294.23 578.80 L298.81 578.40 L303.40 577.99 L307.98 577.57 L312.56 577.14 L317.15 576.71 L321.73 576.26 L326.31 575.81 L330.90 575.35 L335.48 574.88 L340.06 574.40 L344.65 573.90 L349.23 573.40 L353.82 572.89 L358.40 572.37 L362.98 571.84 L367.57 571.29 L372.15 570.74 L376.73 570.17 L381.32 569.59 L385.90 569.00 L390.48 568.40 L395.07 567.78 L399.65 567.16 L404.24 566.52 L408.82 565.86 L413.40 565.20 L417.99 564.52 L422.57 563.83 L427.15 563.12 L431.74 562.40 L436.32 561.67 L440.90 560.92 L445.49 560.16 L450.07 559.38 L454.65 558.59 L459.24 557.78 L463.82 556.96 L468.40 556.12 L472.99 555.27 L477.57 554.40 L482.16 553.51 L486.74 552.61 L491.32 551.69 L495.91 550.75 L500.49 549.80 L505.07 548.83 L509.66 547.85 L514.24 546.84 L518.82 545.82 L523.41 544.78 L527.99 543.72 L532.57 542.64 L537.16 541.55 L541.74 540.43 L546.33 539.30 L550.91 538.15 L555.49 536.98 L560.08 535.78 L564.66 534.57 L569.24 533.34 L573.83 532.09 L578.41 530.82 L582.99 529.52 L587.58 528.21 L592.16 526.88 L596.75 525.52 M51.30 595.73 L55.37 595.52 L59.45 595.31 L63.52 595.10 L67.60 594.90 L71.67 594.70 L75.75 594.50 L79.82 594.30 L83.89 594.10 L87.97 593.90 L92.04 593.71 L96.12 593.51 L100.19 593.32 L104.27 593.12 L108.34 592.93 L112.41 592.74 L116.49 592.54 L120.56 592.35 L124.64 592.15 L128.71 591.96 L132.79 591.76 L136.86 591.57 L140.93 591.37 L145.01 591.17 L149.08 590.97 L153.16 590.77 L157.23 590.56 L161.31 590.36 L165.38 590.15 L169.45 589.94 L173.53 589.73 L177.60 589.51 L181.68 589.30 L185.75 589.08 L189.83 588.85 L193.90 588.63 L197.97 588.40 L202.05 588.17 L206.12 587.93 L210.20 587.69 L214.27 587.45 L218.35 587.20 L222.42 586.94 L226.49 586.69 L230.57 586.42 L234.64 586.16 L238.72 585.89 L242.79 585.61 L246.87 585.33 L250.94 585.04 L255.01 584.75 L259.09 584.45 L263.16 584.15 L267.24 583.83 L271.31 583.52 L275.39 583.19 L279.46 582.86 L283.53 582.53 L287.61 582.18 L291.68 581.83 L295.76 581.48 L299.83 581.11 L303.91 580.74 L307.98 580.36 L312.05 579.97 L316.13 579.57 L320.20 579.17 L324.28 578.76 L328.35 578.33 L332.43 577.90 L336.50 577.47 L340.57 577.02 L344.65 576.56 L348.72 576.09 L352.80 575.62 L356.87 575.13 L360.95 574.64 L365.02 574.13 L369.09 573.62 L373.17 573.09 L377.24 572.55 L381.32 572.01 L385.39 571.45 L389.47 570.88 L393.54 570.30 L397.61 569.71 L401.69 569.11 L405.76 568.49 L409.84 567.87 L413.91 567.23 L417.99 566.58 L422.06 565.92 L426.13 565.24 L430.21 564.56 L434.28 563.86 L438.36 563.14 L442.43 562.42 L446.51 561.68 L450.58 560.93 L454.65 560.16 L458.73 559.38 L462.80 558.59 L466.88 557.78 L470.95 556.96 L475.03 556.12 L479.10 555.27 L483.17 554.40 L487.25 553.52 L491.32 552.63 L495.40 551.72 L499.47 550.79 L503.55 549.85 L507.62 548.89 L511.69 547.92 L515.77 546.93 L519.84 545.92 L523.92 544.90 L527.99 543.87 L532.07 542.81 L536.14 541.74 M51.30 597.39 L54.86 597.22 L58.43 597.07 L61.99 596.91 L65.56 596.75 L69.12 596.60 L72.69 596.44 L76.25 596.29 L79.82 596.14 L83.38 595.99 L86.95 595.84 L90.52 595.69 L94.08 595.54 L97.64 595.39 L101.21 595.24 L104.78 595.09 L108.34 594.95 L111.91 594.80 L115.47 594.65 L119.03 594.50 L122.60 594.35 L126.16 594.20 L129.73 594.05 L133.30 593.89 L136.86 593.74 L140.43 593.59 L143.99 593.43 L147.56 593.27 L151.12 593.12 L154.69 592.95 L158.25 592.79 L161.81 592.63 L165.38 592.46 L168.94 592.29 L172.51 592.12 L176.07 591.95 L179.64 591.77 L183.20 591.60 L186.77 591.41 L190.33 591.23 L193.90 591.04 L197.47 590.85 L201.03 590.66 L204.59 590.46 L208.16 590.26 L211.73 590.06 L215.29 589.85 L218.86 589.64 L222.42 589.42 L225.99 589.20 L229.55 588.98 L233.12 588.75 L236.68 588.52 L240.25 588.28 L243.81 588.04 L247.38 587.79 L250.94 587.54 L254.50 587.28 L258.07 587.02 L261.63 586.75 L265.20 586.47 L268.76 586.19 L272.33 585.91 L275.89 585.62 L279.46 585.32 L283.02 585.02 L286.59 584.71 L290.16 584.39 L293.72 584.07 L297.29 583.74 L300.85 583.40 L304.41 583.06 L307.98 582.71 L311.55 582.35 L315.11 581.99 L318.68 581.62 L322.24 581.24 L325.81 580.85 L329.37 580.46 L332.94 580.05 L336.50 579.64 L340.07 579.22 L343.63 578.80 L347.20 578.36 L350.76 577.92 L354.32 577.47 L357.89 577.00 L361.45 576.53 L365.02 576.05 L368.59 575.57 L372.15 575.07 L375.72 574.56 L379.28 574.05 L382.85 573.52 L386.41 572.98 L389.98 572.44 L393.54 571.88 L397.11 571.32 L400.67 570.74 L404.24 570.15 L407.80 569.56 L411.37 568.95 L414.93 568.33 L418.50 567.70 L422.06 567.06 L425.62 566.41 L429.19 565.75 L432.76 565.07 L436.32 564.39 L439.89 563.69 L443.45 562.98 L447.02 562.26 L450.58 561.53 L454.15 560.78 L457.71 560.02 L461.28 559.26 L464.84 558.47 L468.40 557.68 L471.97 556.87 L475.53 556.05 M51.30 598.82 L54.36 598.70 L57.41 598.59 L60.47 598.47 L63.52 598.36 L66.58 598.24 L69.63 598.13 L72.69 598.02 L75.75 597.91 L78.80 597.80 L81.86 597.69 L84.91 597.58 L87.97 597.47 L91.02 597.36 L94.08 597.25 L97.14 597.14 L100.19 597.03 L103.25 596.92 L106.30 596.81 L109.36 596.70 L112.41 596.59 L115.47 596.48 L118.53 596.37 L121.58 596.26 L124.64 596.14 L127.69 596.03 L130.75 595.92 L133.80 595.80 L136.86 595.68 L139.92 595.57 L142.97 595.45 L146.03 595.33 L149.08 595.20 L152.14 595.08 L155.19 594.96 L158.25 594.83 L161.31 594.70 L164.36 594.57 L167.42 594.44 L170.47 594.30 L173.53 594.16 L176.58 594.02 L179.64 593.88 L182.70 593.74 L185.75 593.59 L188.81 593.44 L191.86 593.29 L194.92 593.13 L197.97 592.97 L201.03 592.81 L204.09 592.65 L207.14 592.48 L210.20 592.31 L213.25 592.13 L216.31 591.95 L219.36 591.77 L222.42 591.59 L225.48 591.40 L228.53 591.20 L231.59 591.01 L234.64 590.81 L237.70 590.60 L240.75 590.39 L243.81 590.18 L246.87 589.96 L249.92 589.73 L252.98 589.51 L256.03 589.28 L259.09 589.04 L262.14 588.80 L265.20 588.55 L268.26 588.30 L271.31 588.04 L274.37 587.78 L277.42 587.51 L280.48 587.24 L283.53 586.96 L286.59 586.67 L289.65 586.38 L292.70 586.09 L295.76 585.79 L298.81 585.48 L301.87 585.17 L304.92 584.85 L307.98 584.52 L311.04 584.19 L314.09 583.85 L317.15 583.50 L320.20 583.15 L323.26 582.79 L326.31 582.43 L329.37 582.05 L332.43 581.67 L335.48 581.29 L338.54 580.89 L341.59 580.49 L344.65 580.08 L347.70 579.67 L350.76 579.25 L353.82 578.81 L356.87 578.38 L359.93 577.93 L362.98 577.48 L366.04 577.01 L369.09 576.54 L372.15 576.06 L375.21 575.58 L378.26 575.08 L381.32 574.58 L384.37 574.07 L387.43 573.54 L390.48 573.02 L393.54 572.48 L396.60 571.93 L399.65 571.37 L402.71 570.81 L405.76 570.23 L408.82 569.65 L411.87 569.06 L414.93 568.45 M51.30 600.04 L53.85 599.96 L56.39 599.87 L58.94 599.79 L61.49 599.71 L64.03 599.64 L66.58 599.56 L69.12 599.48 L71.67 599.40 L74.22 599.32 L76.76 599.25 L79.31 599.17 L81.86 599.10 L84.40 599.02 L86.95 598.94 L89.50 598.87 L92.04 598.79 L94.59 598.72 L97.14 598.64 L99.68 598.56 L102.23 598.49 L104.78 598.41 L107.32 598.33 L109.87 598.26 L112.41 598.18 L114.96 598.10 L117.51 598.02 L120.05 597.94 L122.60 597.86 L125.15 597.78 L127.69 597.69 L130.24 597.61 L132.79 597.53 L135.33 597.44 L137.88 597.35 L140.43 597.26 L142.97 597.17 L145.52 597.08 L148.06 596.99 L150.61 596.90 L153.16 596.80 L155.70 596.70 L158.25 596.61 L160.80 596.51 L163.34 596.40 L165.89 596.30 L168.44 596.19 L170.98 596.09 L173.53 595.98 L176.07 595.86 L178.62 595.75 L181.17 595.63 L183.71 595.51 L186.26 595.39 L188.81 595.27 L191.35 595.14 L193.90 595.01 L196.45 594.88 L198.99 594.75 L201.54 594.61 L204.09 594.47 L206.63 594.33 L209.18 594.18 L211.73 594.03 L214.27 593.88 L216.82 593.73 L219.36 593.57 L221.91 593.41 L224.46 593.24 L227.00 593.08 L229.55 592.90 L232.10 592.73 L234.64 592.55 L237.19 592.37 L239.74 592.18 L242.28 591.99 L244.83 591.80 L247.38 591.60 L249.92 591.40 L252.47 591.19 L255.01 590.99 L257.56 590.77 L260.11 590.55 L262.65 590.33 L265.20 590.11 L267.75 589.87 L270.29 589.64 L272.84 589.40 L275.39 589.15 L277.93 588.91 L280.48 588.65 L283.02 588.39 L285.57 588.13 L288.12 587.86 L290.66 587.59 L293.21 587.31 L295.76 587.03 L298.30 586.74 L300.85 586.44 L303.40 586.14 L305.94 585.84 L308.49 585.53 L311.04 585.21 L313.58 584.89 L316.13 584.57 L318.68 584.23 L321.22 583.90 L323.77 583.55 L326.31 583.20 L328.86 582.85 L331.41 582.48 L333.95 582.12 L336.50 581.74 L339.05 581.36 L341.59 580.98 L344.14 580.58 L346.69 580.18 L349.23 579.78 L351.78 579.37 L354.32 578.95 M51.30 601.03 L53.34 600.98 L55.37 600.93 L57.41 600.88 L59.45 600.83 L61.49 600.77 L63.52 600.72 L65.56 600.67 L67.60 600.63 L69.63 600.58 L71.67 600.53 L73.71 600.48 L75.75 600.43 L77.78 600.38 L79.82 600.33 L81.86 600.28 L83.89 600.24 L85.93 600.19 L87.97 600.14 L90.01 600.09 L92.04 600.04 L94.08 599.99 L96.12 599.94 L98.15 599.89 L100.19 599.84 L102.23 599.79 L104.27 599.74 L106.30 599.69 L108.34 599.64 L110.38 599.59 L112.41 599.53 L114.45 599.48 L116.49 599.42 L118.53 599.37 L120.56 599.31 L122.60 599.26 L124.64 599.20 L126.67 599.14 L128.71 599.08 L130.75 599.02 L132.79 598.96 L134.82 598.90 L136.86 598.84 L138.90 598.77 L140.93 598.71 L142.97 598.64 L145.01 598.57 L147.05 598.50 L149.08 598.43 L151.12 598.36 L153.16 598.29 L155.19 598.21 L157.23 598.14 L159.27 598.06 L161.31 597.98 L163.34 597.90 L165.38 597.82 L167.42 597.73 L169.45 597.65 L171.49 597.56 L173.53 597.47 L175.57 597.38 L177.60 597.28 L179.64 597.19 L181.68 597.09 L183.71 596.99 L185.75 596.89 L187.79 596.79 L189.83 596.68 L191.86 596.58 L193.90 596.47 L195.94 596.35 L197.97 596.24 L200.01 596.12 L202.05 596.00 L204.09 595.88 L206.12 595.76 L208.16 595.63 L210.20 595.50 L212.23 595.37 L214.27 595.24 L216.31 595.10 L218.35 594.96 L220.38 594.82 L222.42 594.68 L224.46 594.53 L226.49 594.38 L228.53 594.22 L230.57 594.07 L232.61 593.91 L234.64 593.74 L236.68 593.58 L238.72 593.41 L240.75 593.24 L242.79 593.06 L244.83 592.89 L246.87 592.70 L248.90 592.52 L250.94 592.33 L252.98 592.14 L255.01 591.94 L257.05 591.75 L259.09 591.54 L261.13 591.34 L263.16 591.13 L265.20 590.92 L267.24 590.70 L269.27 590.48 L271.31 590.26 L273.35 590.03 L275.39 589.80 L277.42 589.56 L279.46 589.32 L281.50 589.08 L283.53 588.83 L285.57 588.58 L287.61 588.33 L289.65 588.07 L291.68 587.80 L293.72 587.53 M51.30 601.81 L52.83 601.78 L54.36 601.75 L55.88 601.72 L57.41 601.69 L58.94 601.66 L60.47 601.63 L61.99 601.60 L63.52 601.58 L65.05 601.55 L66.58 601.52 L68.11 601.49 L69.63 601.47 L71.16 601.44 L72.69 601.41 L74.22 601.38 L75.75 601.36 L77.27 601.33 L78.80 601.30 L80.33 601.28 L81.86 601.25 L83.38 601.22 L84.91 601.19 L86.44 601.16 L87.97 601.14 L89.50 601.11 L91.02 601.08 L92.55 601.05 L94.08 601.02 L95.61 600.99 L97.14 600.96 L98.66 600.93 L100.19 600.90 L101.72 600.87 L103.25 600.84 L104.78 600.81 L106.30 600.77 L107.83 600.74 L109.36 600.71 L110.89 600.68 L112.41 600.64 L113.94 600.61 L115.47 600.57 L117.00 600.53 L118.53 600.50 L120.05 600.46 L121.58 600.42 L123.11 600.38 L124.64 600.34 L126.17 600.30 L127.69 600.26 L129.22 600.22 L130.75 600.18 L132.28 600.13 L133.80 600.09 L135.33 600.04 L136.86 600.00 L138.39 599.95 L139.92 599.90 L141.44 599.85 L142.97 599.80 L144.50 599.75 L146.03 599.70 L147.56 599.64 L149.08 599.59 L150.61 599.53 L152.14 599.48 L153.67 599.42 L155.19 599.36 L156.72 599.30 L158.25 599.24 L159.78 599.17 L161.31 599.11 L162.83 599.04 L164.36 598.98 L165.89 598.91 L167.42 598.84 L168.94 598.77 L170.47 598.70 L172.00 598.62 L173.53 598.55 L175.06 598.47 L176.58 598.39 L178.11 598.31 L179.64 598.23 L181.17 598.15 L182.70 598.06 L184.22 597.98 L185.75 597.89 L187.28 597.80 L188.81 597.71 L190.33 597.61 L191.86 597.52 L193.39 597.42 L194.92 597.32 L196.45 597.22 L197.97 597.12 L199.50 597.02 L201.03 596.91 L202.56 596.80 L204.09 596.69 L205.61 596.58 L207.14 596.47 L208.67 596.35 L210.20 596.24 L211.73 596.12 L213.25 595.99 L214.78 595.87 L216.31 595.74 L217.84 595.62 L219.36 595.49 L220.89 595.35 L222.42 595.22 L223.95 595.08 L225.48 594.94 L227.00 594.80 L228.53 594.66 L230.06 594.51 L231.59 594.36 L233.12 594.21" stroke-width="0.6"/>
<path clip-path="url(#cr)" d="M51.30 591.75 L56.39 591.42 L61.49 591.10 L66.58 590.78 L71.67 590.46 L76.76 590.14 L81.86 589.83 L86.95 589.52 L92.04 589.21 L97.14 588.90 L102.23 588.59 L107.32 588.29 L112.41 587.98 L117.51 587.68 L122.60 587.38 L127.69 587.07 L132.79 586.77 L137.88 586.47 L142.97 586.16 L148.06 585.86 L153.16 585.55 L158.25 585.25 L163.34 584.94 L168.44 584.63 L173.53 584.31 L178.62 584.00 L183.71 583.68 L188.81 583.36 L193.90 583.03 L198.99 582.71 L204.09 582.38 L209.18 582.04 L214.27 581.70 L219.36 581.36 L224.46 581.01 L229.55 580.66 L234.64 580.30 L239.74 579.93 L244.83 579.57 L249.92 579.19 L255.01 578.81 L260.11 578.42 L265.20 578.02 L270.29 577.62 L275.39 577.21 L280.48 576.80 L285.57 576.37 L290.66 575.94 L295.76 575.50 L300.85 575.05 L305.94 574.59 L311.04 574.13 L316.13 573.65 L321.22 573.17 L326.31 572.67 L331.41 572.17 L336.50 571.65 L341.59 571.12 L346.69 570.59 L351.78 570.04 L356.87 569.48 L361.96 568.91 L367.06 568.33 L372.15 567.73 L377.24 567.13 L382.34 566.51 L387.43 565.88 L392.52 565.23 L397.61 564.57 L402.71 563.90 L407.80 563.21 L412.89 562.51 L417.99 561.80 L423.08 561.07 L428.17 560.33 L433.26 559.57 L438.36 558.80 L443.45 558.01 L448.54 557.20 L453.64 556.38 L458.73 555.54 L463.82 554.69 L468.91 553.81 L474.01 552.93 L479.10 552.02 L484.19 551.10 L489.29 550.16 L494.38 549.20 L499.47 548.22 L504.56 547.22 L509.66 546.21 L514.75 545.17 L519.84 544.12 L524.94 543.04 L530.03 541.95 L535.12 540.84 L540.21 539.70 L545.31 538.55 L550.40 537.37 L555.49 536.17 L560.59 534.96 L565.68 533.72 L570.77 532.45 L575.86 531.17 L580.96 529.86 L586.05 528.53 L591.14 527.18 L596.24 525.80 L601.33 524.41 L606.42 522.98 L611.51 521.54 L616.61 520.06 L621.70 518.57 L626.79 517.05 L631.89 515.50 L636.98 513.93 L642.07 512.34 L647.16 510.71 L652.26 509.07 L657.35 507.39 M51.30 593.85 L55.88 593.58 L60.47 593.32 L65.05 593.06 L69.63 592.80 L74.22 592.55 L78.80 592.29 L83.38 592.04 L87.97 591.79 L92.55 591.54 L97.14 591.29 L101.72 591.05 L106.30 590.80 L110.89 590.55 L115.47 590.31 L120.05 590.06 L124.64 589.82 L129.22 589.57 L133.80 589.32 L138.39 589.08 L142.97 588.83 L147.56 588.58 L152.14 588.33 L156.72 588.08 L161.31 587.83 L165.89 587.57 L170.47 587.31 L175.06 587.05 L179.64 586.79 L184.22 586.53 L188.81 586.26 L193.39 585.99 L197.97 585.71 L202.56 585.43 L207.14 585.15 L211.73 584.86 L216.31 584.57 L220.89 584.28 L225.48 583.98 L230.06 583.68 L234.64 583.37 L239.23 583.05 L243.81 582.73 L248.39 582.41 L252.98 582.08 L257.56 581.74 L262.14 581.39 L266.73 581.04 L271.31 580.69 L275.89 580.32 L280.48 579.95 L285.06 579.58 L289.65 579.19 L294.23 578.80 L298.81 578.40 L303.40 577.99 L307.98 577.57 L312.56 577.14 L317.15 576.71 L321.73 576.26 L326.31 575.81 L330.90 575.35 L335.48 574.88 L340.06 574.40 L344.65 573.90 L349.23 573.40 L353.82 572.89 L358.40 572.37 L362.98 571.84 L367.57 571.29 L372.15 570.74 L376.73 570.17 L381.32 569.59 L385.90 569.00 L390.48 568.40 L395.07 567.78 L399.65 567.16 L404.24 566.52 L408.82 565.86 L413.40 565.20 L417.99 564.52 L422.57 563.83 L427.15 563.12 L431.74 562.40 L436.32 561.67 L440.90 560.92 L445.49 560.16 L450.07 559.38 L454.65 558.59 L459.24 557.78 L463.82 556.96 L468.40 556.12 L472.99 555.27 L477.57 554.40 L482.16 553.51 L486.74 552.61 L491.32 551.69 L495.91 550.75 L500.49 549.80 L505.07 548.83 L509.66 547.85 L514.24 546.84 L518.82 545.82 L523.41 544.78 L527.99 543.72 L532.57 542.64 L537.16 541.55 L541.74 540.43 L546.33 539.30 L550.91 538.15 L555.49 536.98 L560.08 535.78 L564.66 534.57 L569.24 533.34 L573.83 532.09 L578.41 530.82 L582.99 529.52 L587.58 528.21 L592.16 526.88 L596.75 525.52 M51.30 595.73 L55.37 595.52 L59.45 595.31 L63.52 595.10 L67.60 594.90 L71.67 594.70 L75.75 594.50 L79.82 594.30 L83.89 594.10 L87.97 593.90 L92.04 593.71 L96.12 593.51 L100.19 593.32 L104.27 593.12 L108.34 592.93 L112.41 592.74 L116.49 592.54 L120.56 592.35 L124.64 592.15 L128.71 591.96 L132.79 591.76 L136.86 591.57 L140.93 591.37 L145.01 591.17 L149.08 590.97 L153.16 590.77 L157.23 590.56 L161.31 590.36 L165.38 590.15 L169.45 589.94 L173.53 589.73 L177.60 589.51 L181.68 589.30 L185.75 589.08 L189.83 588.85 L193.90 588.63 L197.97 588.40 L202.05 588.17 L206.12 587.93 L210.20 587.69 L214.27 587.45 L218.35 587.20 L222.42 586.94 L226.49 586.69 L230.57 586.42 L234.64 586.16 L238.72 585.89 L242.79 585.61 L246.87 585.33 L250.94 585.04 L255.01 584.75 L259.09 584.45 L263.16 584.15 L267.24 583.83 L271.31 583.52 L275.39 583.19 L279.46 582.86 L283.53 582.53 L287.61 582.18 L291.68 581.83 L295.76 581.48 L299.83 581.11 L303.91 580.74 L307.98 580.36 L312.05 579.97 L316.13 579.57 L320.20 579.17 L324.28 578.76 L328.35 578.33 L332.43 577.90 L336.50 577.47 L340.57 577.02 L344.65 576.56 L348.72 576.09 L352.80 575.62 L356.87 575.13 L360.95 574.64 L365.02 574.13 L369.09 573.62 L373.17 573.09 L377.24 572.55 L381.32 572.01 L385.39 571.45 L389.47 570.88 L393.54 570.30 L397.61 569.71 L401.69 569.11 L405.76 568.49 L409.84 567.87 L413.91 567.23 L417.99 566.58 L422.06 565.92 L426.13 565.24 L430.21 564.56 L434.28 563.86 L438.36 563.14 L442.43 562.42 L446.51 561.68 L450.58 560.93 L454.65 560.16 L458.73 559.38 L462.80 558.59 L466.88 557.78 L470.95 556.96 L475.03 556.12 L479.10 555.27 L483.17 554.40 L487.25 553.52 L491.32 552.63 L495.40 551.72 L499.47 550.79 L503.55 549.85 L507.62 548.89 L511.69 547.92 L515.77 546.93 L519.84 545.92 L523.92 544.90 L527.99 543.87 L532.07 542.81 L536.14 541.74 M51.30 597.39 L54.86 597.22 L58.43 597.07 L61.99 596.91 L65.56 596.75 L69.12 596.60 L72.69 596.44 L76.25 596.29 L79.82 596.14 L83.38 595.99 L86.95 595.84 L90.52 595.69 L94.08 595.54 L97.64 595.39 L101.21 595.24 L104.78 595.09 L108.34 594.95 L111.91 594.80 L115.47 594.65 L119.03 594.50 L122.60 594.35 L126.16 594.20 L129.73 594.05 L133.30 593.89 L136.86 593.74 L140.43 593.59 L143.99 593.43 L147.56 593.27 L151.12 593.12 L154.69 592.95 L158.25 592.79 L161.81 592.63 L165.38 592.46 L168.94 592.29 L172.51 592.12 L176.07 591.95 L179.64 591.77 L183.20 591.60 L186.77 591.41 L190.33 591.23 L193.90 591.04 L197.47 590.85 L201.03 590.66 L204.59 590.46 L208.16 590.26 L211.73 590.06 L215.29 589.85 L218.86 589.64 L222.42 589.42 L225.99 589.20 L229.55 588.98 L233.12 588.75 L236.68 588.52 L240.25 588.28 L243.81 588.04 L247.38 587.79 L250.94 587.54 L254.50 587.28 L258.07 587.02 L261.63 586.75 L265.20 586.47 L268.76 586.19 L272.33 585.91 L275.89 585.62 L279.46 585.32 L283.02 585.02 L286.59 584.71 L290.16 584.39 L293.72 584.07 L297.29 583.74 L300.85 583.40 L304.41 583.06 L307.98 582.71 L311.55 582.35 L315.11 581.99 L318.68 581.62 L322.24 581.24 L325.81 580.85 L329.37 580.46 L332.94 580.05 L336.50 579.64 L340.07 579.22 L343.63 578.80 L347.20 578.36 L350.76 577.92 L354.32 577.47 L357.89 577.00 L361.45 576.53 L365.02 576.05 L368.59 575.57 L372.15 575.07 L375.72 574.56 L379.28 574.05 L382.85 573.52 L386.41 572.98 L389.98 572.44 L393.54 571.88 L397.11 571.32 L400.67 570.74 L404.24 570.15 L407.80 569.56 L411.37 568.95 L414.93 568.33 L418.50 567.70 L422.06 567.06 L425.62 566.41 L429.19 565.75 L432.76 565.07 L436.32 564.39 L439.89 563.69 L443.45 562.98 L447.02 562.26 L450.58 561.53 L454.15 560.78 L457.71 560.02 L461.28 559.26 L464.84 558.47 L468.40 557.68 L471.97 556.87 L475.53 556.05 M51.30 598.82 L54.36 598.70 L57.41 598.59 L60.47 598.47 L63.52 598.36 L66.58 598.24 L69.63 598.13 L72.69 598.02 L75.75 597.91 L78.80 597.80 L81.86 597.69 L84.91 597.58 L87.97 597.47 L91.02 597.36 L94.08 597.25 L97.14 597.14 L100.19 597.03 L103.25 596.92 L106.30 596.81 L109.36 596.70 L112.41 596.59 L115.47 596.48 L118.53 596.37 L121.58 596.26 L124.64 596.14 L127.69 596.03 L130.75 595.92 L133.80 595.80 L136.86 595.68 L139.92 595.57 L142.97 595.45 L146.03 595.33 L149.08 595.20 L152.14 595.08 L155.19 594.96 L158.25 594.83 L161.31 594.70 L164.36 594.57 L167.42 594.44 L170.47 594.30 L173.53 594.16 L176.58 594.02 L179.64 593.88 L182.70 593.74 L185.75 593.59 L188.81 593.44 L191.86 593.29 L194.92 593.13 L197.97 592.97 L201.03 592.81 L204.09 592.65 L207.14 592.48 L210.20 592.31 L213.25 592.13 L216.31 591.95 L219.36 591.77 L222.42 591.59 L225.48 591.40 L228.53 591.20 L231.59 591.01 L234.64 590.81 L237.70 590.60 L240.75 590.39 L243.81 590.18 L246.87 589.96 L249.92 589.73 L252.98 589.51 L256.03 589.28 L259.09 589.04 L262.14 588.80 L265.20 588.55 L268.26 588.30 L271.31 588.04 L274.37 587.78 L277.42 587.51 L280.48 587.24 L283.53 586.96 L286.59 586.67 L289.65 586.38 L292.70 586.09 L295.76 585.79 L298.81 585.48 L301.87 585.17 L304.92 584.85 L307.98 584.52 L311.04 584.19 L314.09 583.85 L317.15 583.50 L320.20 583.15 L323.26 582.79 L326.31 582.43 L329.37 582.05 L332.43 581.67 L335.48 581.29 L338.54 580.89 L341.59 580.49 L344.65 580.08 L347.70 579.67 L350.76 579.25 L353.82 578.81 L356.87 578.38 L359.93 577.93 L362.98 577.48 L366.04 577.01 L369.09 576.54 L372.15 576.06 L375.21 575.58 L378.26 575.08 L381.32 574.58 L384.37 574.07 L387.43 573.54 L390.48 573.02 L393.54 572.48 L396.60 571.93 L399.65 571.37 L402.71 570.81 L405.76 570.23 L408.82 569.65 L411.87 569.06 L414.93 568.45 M51.30 600.04 L53.85 599.96 L56.39 599.87 L58.94 599.79 L61.49 599.71 L64.03 599.64 L66.58 599.56 L69.12 599.48 L71.67 599.40 L74.22 599.32 L76.76 599.25 L79.31 599.17 L81.86 599.10 L84.40 599.02 L86.95 598.94 L89.50 598.87 L92.04 598.79 L94.59 598.72 L97.14 598.64 L99.68 598.56 L102.23 598.49 L104.78 598.41 L107.32 598.33 L109.87 598.26 L112.41 598.18 L114.96 598.10 L117.51 598.02 L120.05 597.94 L122.60 597.86 L125.15 597.78 L127.69 597.69 L130.24 597.61 L132.79 597.53 L135.33 597.44 L137.88 597.35 L140.43 597.26 L142.97 597.17 L145.52 597.08 L148.06 596.99 L150.61 596.90 L153.16 596.80 L155.70 596.70 L158.25 596.61 L160.80 596.51 L163.34 596.40 L165.89 596.30 L168.44 596.19 L170.98 596.09 L173.53 595.98 L176.07 595.86 L178.62 595.75 L181.17 595.63 L183.71 595.51 L186.26 595.39 L188.81 595.27 L191.35 595.14 L193.90 595.01 L196.45 594.88 L198.99 594.75 L201.54 594.61 L204.09 594.47 L206.63 594.33 L209.18 594.18 L211.73 594.03 L214.27 593.88 L216.82 593.73 L219.36 593.57 L221.91 593.41 L224.46 593.24 L227.00 593.08 L229.55 592.90 L232.10 592.73 L234.64 592.55 L237.19 592.37 L239.74 592.18 L242.28 591.99 L244.83 591.80 L247.38 591.60 L249.92 591.40 L252.47 591.19 L255.01 590.99 L257.56 590.77 L260.11 590.55 L262.65 590.33 L265.20 590.11 L267.75 589.87 L270.29 589.64 L272.84 589.40 L275.39 589.15 L277.93 588.91 L280.48 588.65 L283.02 588.39 L285.57 588.13 L288.12 587.86 L290.66 587.59 L293.21 587.31 L295.76 587.03 L298.30 586.74 L300.85 586.44 L303.40 586.14 L305.94 585.84 L308.49 585.53 L311.04 585.21 L313.58 584.89 L316.13 584.57 L318.68 584.23 L321.22 583.90 L323.77 583.55 L326.31 583.20 L328.86 582.85 L331.41 582.48 L333.95 582.12 L336.50 581.74 L339.05 581.36 L341.59 580.98 L344.14 580.58 L346.69 580.18 L349.23 579.78 L351.78 579.37 L354.32 578.95 M51.30 601.03 L53.34 600.98 L55.37 600.93 L57.41 600.88 L59.45 600.83 L61.49 600.77 L63.52 600.72 L65.56 600.67 L67.60 600.63 L69.63 600.58 L71.67 600.53 L73.71 600.48 L75.75 600.43 L77.78 600.38 L79.82 600.33 L81.86 600.28 L83.89 600.24 L85.93 600.19 L87.97 600.14 L90.01 600.09 L92.04 600.04 L94.08 599.99 L96.12 599.94 L98.15 599.89 L100.19 599.84 L102.23 599.79 L104.27 599.74 L106.30 599.69 L108.34 599.64 L110.38 599.59 L112.41 599.53 L114.45 599.48 L116.49 599.42 L118.53 599.37 L120.56 599.31 L122.60 599.26 L124.64 599.20 L126.67 599.14 L128.71 599.08 L130.75 599.02 L132.79 598.96 L134.82 598.90 L136.86 598.84 L138.90 598.77 L140.93 598.71 L142.97 598.64 L145.01 598.57 L147.05 598.50 L149.08 598.43 L151.12 598.36 L153.16 598.29 L155.19 598.21 L157.23 598.14 L159.27 598.06 L161.31 597.98 L163.34 597.90 L165.38 597.82 L167.42 597.73 L169.45 597.65 L171.49 597.56 L173.53 597.47 L175.57 597.38 L177.60 597.28 L179.64 597.19 L181.68 597.09 L183.71 596.99 L185.75 596.89 L187.79 596.79 L189.83 596.68 L191.86 596.58 L193.90 596.47 L195.94 596.35 L197.97 596.24 L200.01 596.12 L202.05 596.00 L204.09 595.88 L206.12 595.76 L208.16 595.63 L210.20 595.50 L212.23 595.37 L214.27 595.24 L216.31 595.10 L218.35 594.96 L220.38 594.82 L222.42 594.68 L224.46 594.53 L226.49 594.38 L228.53 594.22 L230.57 594.07 L232.61 593.91 L234.64 593.74 L236.68 593.58 L238.72 593.41 L240.75 593.24 L242.79 593.06 L244.83 592.89 L246.87 592.70 L248.90 592.52 L250.94 592.33 L252.98 592.14 L255.01 591.94 L257.05 591.75 L259.09 591.54 L261.13 591.34 L263.16 591.13 L265.20 590.92 L267.24 590.70 L269.27 590.48 L271.31 590.26 L273.35 590.03 L275.39 589.80 L277.42 589.56 L279.46 589.32 L281.50 589.08 L283.53 588.83 L285.57 588.58 L287.61 588.33 L289.65 588.07 L291.68 587.80 L293.72 587.53 M51.30 601.81 L52.83 601.78 L54.36 601.75 L55.88 601.72 L57.41 601.69 L58.94 601.66 L60.47 601.63 L61.99 601.60 L63.52 601.58 L65.05 601.55 L66.58 601.52 L68.11 601.49 L69.63 601.47 L71.16 601.44 L72.69 601.41 L74.22 601.38 L75.75 601.36 L77.27 601.33 L78.80 601.30 L80.33 601.28 L81.86 601.25 L83.38 601.22 L84.91 601.19 L86.44 601.16 L87.97 601.14 L89.50 601.11 L91.02 601.08 L92.55 601.05 L94.08 601.02 L95.61 600.99 L97.14 600.96 L98.66 600.93 L100.19 600.90 L101.72 600.87 L103.25 600.84 L104.78 600.81 L106.30 600.77 L107.83 600.74 L109.36 600.71 L110.89 600.68 L112.41 600.64 L113.94 600.61 L115.47 600.57 L117.00 600.53 L118.53 600.50 L120.05 600.46 L121.58 600.42 L123.11 600.38 L124.64 600.34 L126.17 600.30 L127.69 600.26 L129.22 600.22 L130.75 600.18 L132.28 600.13 L133.80 600.09 L135.33 600.04 L136.86 600.00 L138.39 599.95 L139.92 599.90 L141.44 599.85 L142.97 599.80 L144.50 599.75 L146.03 599.70 L147.56 599.64 L149.08 599.59 L150.61 599.53 L152.14 599.48 L153.67 599.42 L155.19 599.36 L156.72 599.30 L158.25 599.24 L159.78 599.17 L161.31 599.11 L162.83 599.04 L164.36 598.98 L165.89 598.91 L167.42 598.84 L168.94 598.77 L170.47 598.70 L172.00 598.62 L173.53 598.55 L175.06 598.47 L176.58 598.39 L178.11 598.31 L179.64 598.23 L181.17 598.15 L182.70 598.06 L184.22 597.98 L185.75 597.89 L187.28 597.80 L188.81 597.71 L190.33 597.61 L191.86 597.52 L193.39 597.42 L194.92 597.32 L196.45 597.22 L197.97 597.12 L199.50 597.02 L201.03 596.91 L202.56 596.80 L204.09 596.69 L205.61 596.58 L207.14 596.47 L208.67 596.35 L210.20 596.24 L211.73 596.12 L213.25 595.99 L214.78 595.87 L216.31 595.74 L217.84 595.62 L219.36 595.49 L220.89 595.35 L222.42 595.22 L223.95 595.08 L225.48 594.94 L227.00 594.80 L228.53 594.66 L230.06 594.51 L231.59 594.36 L233.12 594.21" stroke-width="1.1"/>
</g>
<g fill="none" stroke="#111" stroke-linejoin="round">
<path clip-path="url(#cl)" d="M74.12 358.47 L77.78 354.97 L81.45 351.55 L85.12 348.20 L88.79 344.90 L92.46 341.68 L96.12 338.51 L99.79 335.39 L103.46 332.34 L107.13 329.33 L110.80 326.38 L114.47 323.48 L118.13 320.62 L121.80 317.81 L125.47 315.05 L129.14 312.33 L132.81 309.65 L136.47 307.02 L140.14 304.42 L143.81 301.87 L147.48 299.35 L151.15 296.87 L154.82 294.42 L158.48 292.01 L162.15 289.64 L165.82 287.30 L169.49 284.99 L173.16 282.71 L176.82 280.47 L180.49 278.26 L184.16 276.09 L187.83 273.94 L191.50 271.82 L195.16 269.74 L198.83 267.68 L202.50 265.66 L206.17 263.66 L209.84 261.70 L213.51 259.76 L217.17 257.86 L220.84 255.98 L224.51 254.13 L228.18 252.31 L231.85 250.52 L235.51 248.76 L239.18 247.03 L242.85 245.33 L246.52 243.66 L250.19 242.01 L253.85 240.39 L257.52 238.81 L261.19 237.25 L264.86 235.72 L268.53 234.22 L272.20 232.74 L275.86 231.30 L279.53 229.89 L283.20 228.50 L286.87 227.14 L290.54 225.81 L294.20 224.51 L297.87 223.24 L301.54 222.00 L305.21 220.78 L308.88 219.59 L312.54 218.43 L316.21 217.30 L319.88 216.20 L323.55 215.13 L327.22 214.08 L330.89 213.06 L334.55 212.07 L338.22 211.11 L341.89 210.17 L345.56 209.26 L349.23 208.38 L352.89 207.53 L356.56 206.70 L360.23 205.90 L363.90 205.12 L367.57 204.37 L371.24 203.65 L374.90 202.95 L378.57 202.28 L382.24 201.64 L385.91 201.01 L389.58 200.42 L393.24 199.85 L396.91 199.30 L400.58 198.78 L404.25 198.28 L407.92 197.81 L411.58 197.36 L415.25 196.93 L418.92 196.53 L422.59 196.15 L426.26 195.80 L429.93 195.46 L433.59 195.15 L437.26 194.87 L440.93 194.60 L444.60 194.36 L448.27 194.14 L451.93 193.94 L455.60 193.77 L459.27 193.61 L462.94 193.48 L466.61 193.38 L470.27 193.29 L473.94 193.23 L477.61 193.19 L481.28 193.18 L484.95 193.18 L488.62 193.22 L492.28 193.27 L495.95 193.35 L499.62 193.46 L503.29 193.59 L506.96 193.74 L510.62 193.93 L514.29 194.13 L517.96 194.37 L521.63 194.64 L525.30 194.93 L528.97 195.26 L532.63 195.62 L536.30 196.01 L539.97 196.43 L543.64 196.89 L547.31 197.38 L550.97 197.91 L554.64 198.48 L558.31 199.09 L561.98 199.74 L565.65 200.44 L569.31 201.18 L572.98 201.97 L576.65 202.81 L580.32 203.70 L583.99 204.65 L587.66 205.65 L591.32 206.71 L594.99 207.83 L598.66 209.02 L602.33 210.27 L606.00 211.60 L609.66 213.00 L613.33 214.47 L617.00 216.03 L620.67 217.67 L624.34 219.40 L628.00 221.22 L631.67 223.13 L635.34 225.15 L639.01 227.27 L642.68 229.50 L646.35 231.85 L650.01 234.31 L653.68 236.90 L657.35 239.61 M71.83 358.47 L75.14 354.97 L78.44 351.55 L81.74 348.20 L85.04 344.90 L88.34 341.68 L91.64 338.51 L94.94 335.39 L98.24 332.34 L101.55 329.33 L104.85 326.38 L108.15 323.48 L111.45 320.62 L114.75 317.81 L118.05 315.05 L121.35 312.33 L124.66 309.65 L127.96 307.02 L131.26 304.42 L134.56 301.87 L137.86 299.35 L141.16 296.87 L144.46 294.42 L147.76 292.01 L151.07 289.64 L154.37 287.30 L157.67 284.99 L160.97 282.71 L164.27 280.47 L167.57 278.26 L170.87 276.09 L174.18 273.94 L177.48 271.82 L180.78 269.74 L184.08 267.68 L187.38 265.66 L190.68 263.66 L193.98 261.70 L197.28 259.76 L200.59 257.86 L203.89 255.98 L207.19 254.13 L210.49 252.31 L213.79 250.52 L217.09 248.76 L220.39 247.03 L223.70 245.33 L227.00 243.66 L230.30 242.01 L233.60 240.39 L236.90 238.81 L240.20 237.25 L243.50 235.72 L246.80 234.22 L250.11 232.74 L253.41 231.30 L256.71 229.89 L260.01 228.50 L263.31 227.14 L266.61 225.81 L269.91 224.51 L273.22 223.24 L276.52 222.00 L279.82 220.78 L283.12 219.59 L286.42 218.43 L289.72 217.30 L293.02 216.20 L296.32 215.13 L299.63 214.08 L302.93 213.06 L306.23 212.07 L309.53 211.11 L312.83 210.17 L316.13 209.26 L319.43 208.38 L322.74 207.53 L326.04 206.70 L329.34 205.90 L332.64 205.12 L335.94 204.37 L339.24 203.65 L342.54 202.95 L345.84 202.28 L349.15 201.64 L352.45 201.01 L355.75 200.42 L359.05 199.85 L362.35 199.30 L365.65 198.78 L368.95 198.28 L372.25 197.81 L375.56 197.36 L378.86 196.93 L382.16 196.53 L385.46 196.15 L388.76 195.80 L392.06 195.46 L395.36 195.15 L398.67 194.87 L401.97 194.60 L405.27 194.36 L408.57 194.14 L411.87 193.94 L415.17 193.77 L418.47 193.61 L421.77 193.48 L425.08 193.38 L428.38 193.29 L431.68 193.23 L434.98 193.19 L438.28 193.18 L441.58 193.18 L444.88 193.22 L448.19 193.27 L451.49 193.35 L454.79 193.46 L458.09 193.59 L461.39 193.74 L464.69 193.93 L467.99 194.13 L471.29 194.37 L474.60 194.64 L477.90 194.93 L481.20 195.26 L484.50 195.62 L487.80 196.01 L491.10 196.43 L494.40 196.89 L497.71 197.38 L501.01 197.91 L504.31 198.48 L507.61 199.09 L510.91 199.74 L514.21 200.44 L517.51 201.18 L520.81 201.97 L524.12 202.81 L527.42 203.70 L530.72 204.65 L534.02 205.65 L537.32 206.71 L540.62 207.83 L543.92 209.02 L547.23 210.27 L550.53 211.60 L553.83 213.00 L557.13 214.47 L560.43 216.03 L563.73 217.67 L567.03 219.40 L570.33 221.22 L573.64 223.13 L576.94 225.15 L580.24 227.27 L583.54 229.50 L586.84 231.85 L590.14 234.31 L593.44 236.90 L596.75 239.61 M69.55 358.47 L72.49 354.97 L75.42 351.55 L78.36 348.20 L81.29 344.90 L84.23 341.68 L87.16 338.51 L90.09 335.39 L93.03 332.34 L95.96 329.33 L98.90 326.38 L101.83 323.48 L104.77 320.62 L107.70 317.81 L110.64 315.05 L113.57 312.33 L116.50 309.65 L119.44 307.02 L122.37 304.42 L125.31 301.87 L128.24 299.35 L131.18 296.87 L134.11 294.42 L137.05 292.01 L139.98 289.64 L142.92 287.30 L145.85 284.99 L148.78 282.71 L151.72 280.47 L154.65 278.26 L157.59 276.09 L160.52 273.94 L163.46 271.82 L166.39 269.74 L169.33 267.68 L172.26 265.66 L175.20 263.66 L178.13 261.70 L181.06 259.76 L184.00 257.86 L186.93 255.98 L189.87 254.13 L192.80 252.31 L195.74 250.52 L198.67 248.76 L201.61 247.03 L204.54 245.33 L207.47 243.66 L210.41 242.01 L213.34 240.39 L216.28 238.81 L219.21 237.25 L222.15 235.72 L225.08 234.22 L228.02 232.74 L230.95 231.30 L233.89 229.89 L236.82 228.50 L239.75 227.14 L242.69 225.81 L245.62 224.51 L248.56 223.24 L251.49 222.00 L254.43 220.78 L257.36 219.59 L260.30 218.43 L263.23 217.30 L266.17 216.20 L269.10 215.13 L272.03 214.08 L274.97 213.06 L277.90 212.07 L280.84 211.11 L283.77 210.17 L286.71 209.26 L289.64 208.38 L292.58 207.53 L295.51 206.70 L298.44 205.90 L301.38 205.12 L304.31 204.37 L307.25 203.65 L310.18 202.95 L313.12 202.28 L316.05 201.64 L318.99 201.01 L321.92 200.42 L324.86 199.85 L327.79 199.30 L330.72 198.78 L333.66 198.28 L336.59 197.81 L339.53 197.36 L342.46 196.93 L345.40 196.53 L348.33 196.15 L351.27 195.80 L354.20 195.46 L357.13 195.15 L360.07 194.87 L363.00 194.60 L365.94 194.36 L368.87 194.14 L371.81 193.94 L374.74 193.77 L377.68 193.61 L380.61 193.48 L383.55 193.38 L386.48 193.29 L389.41 193.23 L392.35 193.19 L395.28 193.18 L398.22 193.18 L401.15 193.22 L404.09 193.27 L407.02 193.35 L409.96 193.46 L412.89 193.59 L415.83 193.74 L418.76 193.93 L421.69 194.13 L424.63 194.37 L427.56 194.64 L430.50 194.93 L433.43 195.26 L436.37 195.62 L439.30 196.01 L442.24 196.43 L445.17 196.89 L448.10 197.38 L451.04 197.91 L453.97 198.48 L456.91 199.09 L459.84 199.74 L462.78 200.44 L465.71 201.18 L468.65 201.97 L471.58 202.81 L474.52 203.70 L477.45 204.65 L480.38 205.65 L483.32 206.71 L486.25 207.83 L489.19 209.02 L492.12 210.27 L495.06 211.60 L497.99 213.00 L500.93 214.47 L503.86 216.03 L506.79 217.67 L509.73 219.40 L512.66 221.22 L515.60 223.13 L518.53 225.15 L521.47 227.27 L524.40 229.50 L527.34 231.85 L530.27 234.31 L533.21 236.90 L536.14 239.61 M67.27 358.47 L69.84 354.97 L72.41 351.55 L74.97 348.20 L77.54 344.90 L80.11 341.68 L82.68 338.51 L85.25 335.39 L87.81 332.34 L90.38 329.33 L92.95 326.38 L95.52 323.48 L98.08 320.62 L100.65 317.81 L103.22 315.05 L105.79 312.33 L108.35 309.65 L110.92 307.02 L113.49 304.42 L116.06 301.87 L118.63 299.35 L121.19 296.87 L123.76 294.42 L126.33 292.01 L128.90 289.64 L131.46 287.30 L134.03 284.99 L136.60 282.71 L139.17 280.47 L141.73 278.26 L144.30 276.09 L146.87 273.94 L149.44 271.82 L152.01 269.74 L154.57 267.68 L157.14 265.66 L159.71 263.66 L162.28 261.70 L164.84 259.76 L167.41 257.86 L169.98 255.98 L172.55 254.13 L175.11 252.31 L177.68 250.52 L180.25 248.76 L182.82 247.03 L185.39 245.33 L187.95 243.66 L190.52 242.01 L193.09 240.39 L195.66 238.81 L198.22 237.25 L200.79 235.72 L203.36 234.22 L205.93 232.74 L208.49 231.30 L211.06 229.89 L213.63 228.50 L216.20 227.14 L218.77 225.81 L221.33 224.51 L223.90 223.24 L226.47 222.00 L229.04 220.78 L231.60 219.59 L234.17 218.43 L236.74 217.30 L239.31 216.20 L241.87 215.13 L244.44 214.08 L247.01 213.06 L249.58 212.07 L252.15 211.11 L254.71 210.17 L257.28 209.26 L259.85 208.38 L262.42 207.53 L264.98 206.70 L267.55 205.90 L270.12 205.12 L272.69 204.37 L275.25 203.65 L277.82 202.95 L280.39 202.28 L282.96 201.64 L285.53 201.01 L288.09 200.42 L290.66 199.85 L293.23 199.30 L295.80 198.78 L298.36 198.28 L300.93 197.81 L303.50 197.36 L306.07 196.93 L308.63 196.53 L311.20 196.15 L313.77 195.80 L316.34 195.46 L318.91 195.15 L321.47 194.87 L324.04 194.60 L326.61 194.36 L329.18 194.14 L331.74 193.94 L334.31 193.77 L336.88 193.61 L339.45 193.48 L342.01 193.38 L344.58 193.29 L347.15 193.23 L349.72 193.19 L352.29 193.18 L354.85 193.18 L357.42 193.22 L359.99 193.27 L362.56 193.35 L365.12 193.46 L367.69 193.59 L370.26 193.74 L372.83 193.93 L375.39 194.13 L377.96 194.37 L380.53 194.64 L383.10 194.93 L385.67 195.26 L388.23 195.62 L390.80 196.01 L393.37 196.43 L395.94 196.89 L398.50 197.38 L401.07 197.91 L403.64 198.48 L406.21 199.09 L408.77 199.74 L411.34 200.44 L413.91 201.18 L416.48 201.97 L419.05 202.81 L421.61 203.70 L424.18 204.65 L426.75 205.65 L429.32 206.71 L431.88 207.83 L434.45 209.02 L437.02 210.27 L439.59 211.60 L442.15 213.00 L444.72 214.47 L447.29 216.03 L449.86 217.67 L452.43 219.40 L454.99 221.22 L457.56 223.13 L460.13 225.15 L462.70 227.27 L465.26 229.50 L467.83 231.85 L470.40 234.31 L472.97 236.90 L475.53 239.61 M64.99 358.47 L67.19 354.97 L69.39 351.55 L71.59 348.20 L73.79 344.90 L75.99 341.68 L78.19 338.51 L80.40 335.39 L82.60 332.34 L84.80 329.33 L87.00 326.38 L89.20 323.48 L91.40 320.62 L93.60 317.81 L95.80 315.05 L98.00 312.33 L100.20 309.65 L102.40 307.02 L104.61 304.42 L106.81 301.87 L109.01 299.35 L111.21 296.87 L113.41 294.42 L115.61 292.01 L117.81 289.64 L120.01 287.30 L122.21 284.99 L124.41 282.71 L126.61 280.47 L128.82 278.26 L131.02 276.09 L133.22 273.94 L135.42 271.82 L137.62 269.74 L139.82 267.68 L142.02 265.66 L144.22 263.66 L146.42 261.70 L148.62 259.76 L150.82 257.86 L153.02 255.98 L155.23 254.13 L157.43 252.31 L159.63 250.52 L161.83 248.76 L164.03 247.03 L166.23 245.33 L168.43 243.66 L170.63 242.01 L172.83 240.39 L175.03 238.81 L177.23 237.25 L179.44 235.72 L181.64 234.22 L183.84 232.74 L186.04 231.30 L188.24 229.89 L190.44 228.50 L192.64 227.14 L194.84 225.81 L197.04 224.51 L199.24 223.24 L201.44 222.00 L203.65 220.78 L205.85 219.59 L208.05 218.43 L210.25 217.30 L212.45 216.20 L214.65 215.13 L216.85 214.08 L219.05 213.06 L221.25 212.07 L223.45 211.11 L225.65 210.17 L227.85 209.26 L230.06 208.38 L232.26 207.53 L234.46 206.70 L236.66 205.90 L238.86 205.12 L241.06 204.37 L243.26 203.65 L245.46 202.95 L247.66 202.28 L249.86 201.64 L252.06 201.01 L254.27 200.42 L256.47 199.85 L258.67 199.30 L260.87 198.78 L263.07 198.28 L265.27 197.81 L267.47 197.36 L269.67 196.93 L271.87 196.53 L274.07 196.15 L276.27 195.80 L278.48 195.46 L280.68 195.15 L282.88 194.87 L285.08 194.60 L287.28 194.36 L289.48 194.14 L291.68 193.94 L293.88 193.77 L296.08 193.61 L298.28 193.48 L300.48 193.38 L302.68 193.29 L304.89 193.23 L307.09 193.19 L309.29 193.18 L311.49 193.18 L313.69 193.22 L315.89 193.27 L318.09 193.35 L320.29 193.46 L322.49 193.59 L324.69 193.74 L326.89 193.93 L329.10 194.13 L331.30 194.37 L333.50 194.64 L335.70 194.93 L337.90 195.26 L340.10 195.62 L342.30 196.01 L344.50 196.43 L346.70 196.89 L348.90 197.38 L351.10 197.91 L353.31 198.48 L355.51 199.09 L357.71 199.74 L359.91 200.44 L362.11 201.18 L364.31 201.97 L366.51 202.81 L368.71 203.70 L370.91 204.65 L373.11 205.65 L375.31 206.71 L377.51 207.83 L379.72 209.02 L381.92 210.27 L384.12 211.60 L386.32 213.00 L388.52 214.47 L390.72 216.03 L392.92 217.67 L395.12 219.40 L397.32 221.22 L399.52 223.13 L401.72 225.15 L403.93 227.27 L406.13 229.50 L408.33 231.85 L410.53 234.31 L412.73 236.90 L414.93 239.61 M62.71 358.47 L64.54 354.97 L66.38 351.55 L68.21 348.20 L70.04 344.90 L71.88 341.68 L73.71 338.51 L75.55 335.39 L77.38 332.34 L79.21 329.33 L81.05 326.38 L82.88 323.48 L84.72 320.62 L86.55 317.81 L88.38 315.05 L90.22 312.33 L92.05 309.65 L93.89 307.02 L95.72 304.42 L97.56 301.87 L99.39 299.35 L101.22 296.87 L103.06 294.42 L104.89 292.01 L106.73 289.64 L108.56 287.30 L110.39 284.99 L112.23 282.71 L114.06 280.47 L115.90 278.26 L117.73 276.09 L119.56 273.94 L121.40 271.82 L123.23 269.74 L125.07 267.68 L126.90 265.66 L128.73 263.66 L130.57 261.70 L132.40 259.76 L134.24 257.86 L136.07 255.98 L137.90 254.13 L139.74 252.31 L141.57 250.52 L143.41 248.76 L145.24 247.03 L147.08 245.33 L148.91 243.66 L150.74 242.01 L152.58 240.39 L154.41 238.81 L156.25 237.25 L158.08 235.72 L159.91 234.22 L161.75 232.74 L163.58 231.30 L165.42 229.89 L167.25 228.50 L169.08 227.14 L170.92 225.81 L172.75 224.51 L174.59 223.24 L176.42 222.00 L178.25 220.78 L180.09 219.59 L181.92 218.43 L183.76 217.30 L185.59 216.20 L187.42 215.13 L189.26 214.08 L191.09 213.06 L192.93 212.07 L194.76 211.11 L196.60 210.17 L198.43 209.26 L200.26 208.38 L202.10 207.53 L203.93 206.70 L205.77 205.90 L207.60 205.12 L209.43 204.37 L211.27 203.65 L213.10 202.95 L214.94 202.28 L216.77 201.64 L218.60 201.01 L220.44 200.42 L222.27 199.85 L224.11 199.30 L225.94 198.78 L227.77 198.28 L229.61 197.81 L231.44 197.36 L233.28 196.93 L235.11 196.53 L236.94 196.15 L238.78 195.80 L240.61 195.46 L242.45 195.15 L244.28 194.87 L246.11 194.60 L247.95 194.36 L249.78 194.14 L251.62 193.94 L253.45 193.77 L255.29 193.61 L257.12 193.48 L258.95 193.38 L260.79 193.29 L262.62 193.23 L264.46 193.19 L266.29 193.18 L268.12 193.18 L269.96 193.22 L271.79 193.27 L273.63 193.35 L275.46 193.46 L277.29 193.59 L279.13 193.74 L280.96 193.93 L282.80 194.13 L284.63 194.37 L286.46 194.64 L288.30 194.93 L290.13 195.26 L291.97 195.62 L293.80 196.01 L295.63 196.43 L297.47 196.89 L299.30 197.38 L301.14 197.91 L302.97 198.48 L304.81 199.09 L306.64 199.74 L308.47 200.44 L310.31 201.18 L312.14 201.97 L313.98 202.81 L315.81 203.70 L317.64 204.65 L319.48 205.65 L321.31 206.71 L323.15 207.83 L324.98 209.02 L326.81 210.27 L328.65 211.60 L330.48 213.00 L332.32 214.47 L334.15 216.03 L335.98 217.67 L337.82 219.40 L339.65 221.22 L341.49 223.13 L343.32 225.15 L345.15 227.27 L346.99 229.50 L348.82 231.85 L350.66 234.31 L352.49 236.90 L354.32 239.61 M60.43 358.47 L61.89 354.97 L63.36 351.55 L64.83 348.20 L66.30 344.90 L67.76 341.68 L69.23 338.51 L70.70 335.39 L72.16 332.34 L73.63 329.33 L75.10 326.38 L76.57 323.48 L78.03 320.62 L79.50 317.81 L80.97 315.05 L82.44 312.33 L83.90 309.65 L85.37 307.02 L86.84 304.42 L88.30 301.87 L89.77 299.35 L91.24 296.87 L92.71 294.42 L94.17 292.01 L95.64 289.64 L97.11 287.30 L98.58 284.99 L100.04 282.71 L101.51 280.47 L102.98 278.26 L104.44 276.09 L105.91 273.94 L107.38 271.82 L108.85 269.74 L110.31 267.68 L111.78 265.66 L113.25 263.66 L114.71 261.70 L116.18 259.76 L117.65 257.86 L119.12 255.98 L120.58 254.13 L122.05 252.31 L123.52 250.52 L124.99 248.76 L126.45 247.03 L127.92 245.33 L129.39 243.66 L130.85 242.01 L132.32 240.39 L133.79 238.81 L135.26 237.25 L136.72 235.72 L138.19 234.22 L139.66 232.74 L141.13 231.30 L142.59 229.89 L144.06 228.50 L145.53 227.14 L146.99 225.81 L148.46 224.51 L149.93 223.24 L151.40 222.00 L152.86 220.78 L154.33 219.59 L155.80 218.43 L157.27 217.30 L158.73 216.20 L160.20 215.13 L161.67 214.08 L163.13 213.06 L164.60 212.07 L166.07 211.11 L167.54 210.17 L169.00 209.26 L170.47 208.38 L171.94 207.53 L173.41 206.70 L174.87 205.90 L176.34 205.12 L177.81 204.37 L179.27 203.65 L180.74 202.95 L182.21 202.28 L183.68 201.64 L185.14 201.01 L186.61 200.42 L188.08 199.85 L189.54 199.30 L191.01 198.78 L192.48 198.28 L193.95 197.81 L195.41 197.36 L196.88 196.93 L198.35 196.53 L199.82 196.15 L201.28 195.80 L202.75 195.46 L204.22 195.15 L205.68 194.87 L207.15 194.60 L208.62 194.36 L210.09 194.14 L211.55 193.94 L213.02 193.77 L214.49 193.61 L215.96 193.48 L217.42 193.38 L218.89 193.29 L220.36 193.23 L221.82 193.19 L223.29 193.18 L224.76 193.18 L226.23 193.22 L227.69 193.27 L229.16 193.35 L230.63 193.46 L232.10 193.59 L233.56 193.74 L235.03 193.93 L236.50 194.13 L237.96 194.37 L239.43 194.64 L240.90 194.93 L242.37 195.26 L243.83 195.62 L245.30 196.01 L246.77 196.43 L248.24 196.89 L249.70 197.38 L251.17 197.91 L252.64 198.48 L254.10 199.09 L255.57 199.74 L257.04 200.44 L258.51 201.18 L259.97 201.97 L261.44 202.81 L262.91 203.70 L264.37 204.65 L265.84 205.65 L267.31 206.71 L268.78 207.83 L270.24 209.02 L271.71 210.27 L273.18 211.60 L274.65 213.00 L276.11 214.47 L277.58 216.03 L279.05 217.67 L280.51 219.40 L281.98 221.22 L283.45 223.13 L284.92 225.15 L286.38 227.27 L287.85 229.50 L289.32 231.85 L290.79 234.31 L292.25 236.90 L293.72 239.61 M58.14 358.47 L59.25 354.97 L60.35 351.55 L61.45 348.20 L62.55 344.90 L63.65 341.68 L64.75 338.51 L65.85 335.39 L66.95 332.34 L68.05 329.33 L69.15 326.38 L70.25 323.48 L71.35 320.62 L72.45 317.81 L73.55 315.05 L74.65 312.33 L75.75 309.65 L76.85 307.02 L77.95 304.42 L79.05 301.87 L80.15 299.35 L81.25 296.87 L82.35 294.42 L83.45 292.01 L84.56 289.64 L85.66 287.30 L86.76 284.99 L87.86 282.71 L88.96 280.47 L90.06 278.26 L91.16 276.09 L92.26 273.94 L93.36 271.82 L94.46 269.74 L95.56 267.68 L96.66 265.66 L97.76 263.66 L98.86 261.70 L99.96 259.76 L101.06 257.86 L102.16 255.98 L103.26 254.13 L104.36 252.31 L105.46 250.52 L106.56 248.76 L107.66 247.03 L108.77 245.33 L109.87 243.66 L110.97 242.01 L112.07 240.39 L113.17 238.81 L114.27 237.25 L115.37 235.72 L116.47 234.22 L117.57 232.74 L118.67 231.30 L119.77 229.89 L120.87 228.50 L121.97 227.14 L123.07 225.81 L124.17 224.51 L125.27 223.24 L126.37 222.00 L127.47 220.78 L128.57 219.59 L129.67 218.43 L130.77 217.30 L131.87 216.20 L132.97 215.13 L134.08 214.08 L135.18 213.06 L136.28 212.07 L137.38 211.11 L138.48 210.17 L139.58 209.26 L140.68 208.38 L141.78 207.53 L142.88 206.70 L143.98 205.90 L145.08 205.12 L146.18 204.37 L147.28 203.65 L148.38 202.95 L149.48 202.28 L150.58 201.64 L151.68 201.01 L152.78 200.42 L153.88 199.85 L154.98 199.30 L156.08 198.78 L157.18 198.28 L158.28 197.81 L159.39 197.36 L160.49 196.93 L161.59 196.53 L162.69 196.15 L163.79 195.80 L164.89 195.46 L165.99 195.15 L167.09 194.87 L168.19 194.60 L169.29 194.36 L170.39 194.14 L171.49 193.94 L172.59 193.77 L173.69 193.61 L174.79 193.48 L175.89 193.38 L176.99 193.29 L178.09 193.23 L179.19 193.19 L180.29 193.18 L181.39 193.18 L182.49 193.22 L183.60 193.27 L184.70 193.35 L185.80 193.46 L186.90 193.59 L188.00 193.74 L189.10 193.93 L190.20 194.13 L191.30 194.37 L192.40 194.64 L193.50 194.93 L194.60 195.26 L195.70 195.62 L196.80 196.01 L197.90 196.43 L199.00 196.89 L200.10 197.38 L201.20 197.91 L202.30 198.48 L203.40 199.09 L204.50 199.74 L205.60 200.44 L206.70 201.18 L207.80 201.97 L208.91 202.81 L210.01 203.70 L211.11 204.65 L212.21 205.65 L213.31 206.71 L214.41 207.83 L215.51 209.02 L216.61 210.27 L217.71 211.60 L218.81 213.00 L219.91 214.47 L221.01 216.03 L222.11 217.67 L223.21 219.40 L224.31 221.22 L225.41 223.13 L226.51 225.15 L227.61 227.27 L228.71 229.50 L229.81 231.85 L230.91 234.31 L232.01 236.90 L233.12 239.61" stroke-width="0.6"/>
<path clip-path="url(#cr)" d="M74.12 358.47 L77.78 354.97 L81.45 351.55 L85.12 348.20 L88.79 344.90 L92.46 341.68 L96.12 338.51 L99.79 335.39 L103.46 332.34 L107.13 329.33 L110.80 326.38 L114.47 323.48 L118.13 320.62 L121.80 317.81 L125.47 315.05 L129.14 312.33 L132.81 309.65 L136.47 307.02 L140.14 304.42 L143.81 301.87 L147.48 299.35 L151.15 296.87 L154.82 294.42 L158.48 292.01 L162.15 289.64 L165.82 287.30 L169.49 284.99 L173.16 282.71 L176.82 280.47 L180.49 278.26 L184.16 276.09 L187.83 273.94 L191.50 271.82 L195.16 269.74 L198.83 267.68 L202.50 265.66 L206.17 263.66 L209.84 261.70 L213.51 259.76 L217.17 257.86 L220.84 255.98 L224.51 254.13 L228.18 252.31 L231.85 250.52 L235.51 248.76 L239.18 247.03 L242.85 245.33 L246.52 243.66 L250.19 242.01 L253.85 240.39 L257.52 238.81 L261.19 237.25 L264.86 235.72 L268.53 234.22 L272.20 232.74 L275.86 231.30 L279.53 229.89 L283.20 228.50 L286.87 227.14 L290.54 225.81 L294.20 224.51 L297.87 223.24 L301.54 222.00 L305.21 220.78 L308.88 219.59 L312.54 218.43 L316.21 217.30 L319.88 216.20 L323.55 215.13 L327.22 214.08 L330.89 213.06 L334.55 212.07 L338.22 211.11 L341.89 210.17 L345.56 209.26 L349.23 208.38 L352.89 207.53 L356.56 206.70 L360.23 205.90 L363.90 205.12 L367.57 204.37 L371.24 203.65 L374.90 202.95 L378.57 202.28 L382.24 201.64 L385.91 201.01 L389.58 200.42 L393.24 199.85 L396.91 199.30 L400.58 198.78 L404.25 198.28 L407.92 197.81 L411.58 197.36 L415.25 196.93 L418.92 196.53 L422.59 196.15 L426.26 195.80 L429.93 195.46 L433.59 195.15 L437.26 194.87 L440.93 194.60 L444.60 194.36 L448.27 194.14 L451.93 193.94 L455.60 193.77 L459.27 193.61 L462.94 193.48 L466.61 193.38 L470.27 193.29 L473.94 193.23 L477.61 193.19 L481.28 193.18 L484.95 193.18 L488.62 193.22 L492.28 193.27 L495.95 193.35 L499.62 193.46 L503.29 193.59 L506.96 193.74 L510.62 193.93 L514.29 194.13 L517.96 194.37 L521.63 194.64 L525.30 194.93 L528.97 195.26 L532.63 195.62 L536.30 196.01 L539.97 196.43 L543.64 196.89 L547.31 197.38 L550.97 197.91 L554.64 198.48 L558.31 199.09 L561.98 199.74 L565.65 200.44 L569.31 201.18 L572.98 201.97 L576.65 202.81 L580.32 203.70 L583.99 204.65 L587.66 205.65 L591.32 206.71 L594.99 207.83 L598.66 209.02 L602.33 210.27 L606.00 211.60 L609.66 213.00 L613.33 214.47 L617.00 216.03 L620.67 217.67 L624.34 219.40 L628.00 221.22 L631.67 223.13 L635.34 225.15 L639.01 227.27 L642.68 229.50 L646.35 231.85 L650.01 234.31 L653.68 236.90 L657.35 239.61 M71.83 358.47 L75.14 354.97 L78.44 351.55 L81.74 348.20 L85.04 344.90 L88.34 341.68 L91.64 338.51 L94.94 335.39 L98.24 332.34 L101.55 329.33 L104.85 326.38 L108.15 323.48 L111.45 320.62 L114.75 317.81 L118.05 315.05 L121.35 312.33 L124.66 309.65 L127.96 307.02 L131.26 304.42 L134.56 301.87 L137.86 299.35 L141.16 296.87 L144.46 294.42 L147.76 292.01 L151.07 289.64 L154.37 287.30 L157.67 284.99 L160.97 282.71 L164.27 280.47 L167.57 278.26 L170.87 276.09 L174.18 273.94 L177.48 271.82 L180.78 269.74 L184.08 267.68 L187.38 265.66 L190.68 263.66 L193.98 261.70 L197.28 259.76 L200.59 257.86 L203.89 255.98 L207.19 254.13 L210.49 252.31 L213.79 250.52 L217.09 248.76 L220.39 247.03 L223.70 245.33 L227.00 243.66 L230.30 242.01 L233.60 240.39 L236.90 238.81 L240.20 237.25 L243.50 235.72 L246.80 234.22 L250.11 232.74 L253.41 231.30 L256.71 229.89 L260.01 228.50 L263.31 227.14 L266.61 225.81 L269.91 224.51 L273.22 223.24 L276.52 222.00 L279.82 220.78 L283.12 219.59 L286.42 218.43 L289.72 217.30 L293.02 216.20 L296.32 215.13 L299.63 214.08 L302.93 213.06 L306.23 212.07 L309.53 211.11 L312.83 210.17 L316.13 209.26 L319.43 208.38 L322.74 207.53 L326.04 206.70 L329.34 205.90 L332.64 205.12 L335.94 204.37 L339.24 203.65 L342.54 202.95 L345.84 202.28 L349.15 201.64 L352.45 201.01 L355.75 200.42 L359.05 199.85 L362.35 199.30 L365.65 198.78 L368.95 198.28 L372.25 197.81 L375.56 197.36 L378.86 196.93 L382.16 196.53 L385.46 196.15 L388.76 195.80 L392.06 195.46 L395.36 195.15 L398.67 194.87 L401.97 194.60 L405.27 194.36 L408.57 194.14 L411.87 193.94 L415.17 193.77 L418.47 193.61 L421.77 193.48 L425.08 193.38 L428.38 193.29 L431.68 193.23 L434.98 193.19 L438.28 193.18 L441.58 193.18 L444.88 193.22 L448.19 193.27 L451.49 193.35 L454.79 193.46 L458.09 193.59 L461.39 193.74 L464.69 193.93 L467.99 194.13 L471.29 194.37 L474.60 194.64 L477.90 194.93 L481.20 195.26 L484.50 195.62 L487.80 196.01 L491.10 196.43 L494.40 196.89 L497.71 197.38 L501.01 197.91 L504.31 198.48 L507.61 199.09 L510.91 199.74 L514.21 200.44 L517.51 201.18 L520.81 201.97 L524.12 202.81 L527.42 203.70 L530.72 204.65 L534.02 205.65 L537.32 206.71 L540.62 207.83 L543.92 209.02 L547.23 210.27 L550.53 211.60 L553.83 213.00 L557.13 214.47 L560.43 216.03 L563.73 217.67 L567.03 219.40 L570.33 221.22 L573.64 223.13 L576.94 225.15 L580.24 227.27 L583.54 229.50 L586.84 231.85 L590.14 234.31 L593.44 236.90 L596.75 239.61 M69.55 358.47 L72.49 354.97 L75.42 351.55 L78.36 348.20 L81.29 344.90 L84.23 341.68 L87.16 338.51 L90.09 335.39 L93.03 332.34 L95.96 329.33 L98.90 326.38 L101.83 323.48 L104.77 320.62 L107.70 317.81 L110.64 315.05 L113.57 312.33 L116.50 309.65 L119.44 307.02 L122.37 304.42 L125.31 301.87 L128.24 299.35 L131.18 296.87 L134.11 294.42 L137.05 292.01 L139.98 289.64 L142.92 287.30 L145.85 284.99 L148.78 282.71 L151.72 280.47 L154.65 278.26 L157.59 276.09 L160.52 273.94 L163.46 271.82 L166.39 269.74 L169.33 267.68 L172.26 265.66 L175.20 263.66 L178.13 261.70 L181.06 259.76 L184.00 257.86 L186.93 255.98 L189.87 254.13 L192.80 252.31 L195.74 250.52 L198.67 248.76 L201.61 247.03 L204.54 245.33 L207.47 243.66 L210.41 242.01 L213.34 240.39 L216.28 238.81 L219.21 237.25 L222.15 235.72 L225.08 234.22 L228.02 232.74 L230.95 231.30 L233.89 229.89 L236.82 228.50 L239.75 227.14 L242.69 225.81 L245.62 224.51 L248.56 223.24 L251.49 222.00 L254.43 220.78 L257.36 219.59 L260.30 218.43 L263.23 217.30 L266.17 216.20 L269.10 215.13 L272.03 214.08 L274.97 213.06 L277.90 212.07 L280.84 211.11 L283.77 210.17 L286.71 209.26 L289.64 208.38 L292.58 207.53 L295.51 206.70 L298.44 205.90 L301.38 205.12 L304.31 204.37 L307.25 203.65 L310.18 202.95 L313.12 202.28 L316.05 201.64 L318.99 201.01 L321.92 200.42 L324.86 199.85 L327.79 199.30 L330.72 198.78 L333.66 198.28 L336.59 197.81 L339.53 197.36 L342.46 196.93 L345.40 196.53 L348.33 196.15 L351.27 195.80 L354.20 195.46 L357.13 195.15 L360.07 194.87 L363.00 194.60 L365.94 194.36 L368.87 194.14 L371.81 193.94 L374.74 193.77 L377.68 193.61 L380.61 193.48 L383.55 193.38 L386.48 193.29 L389.41 193.23 L392.35 193.19 L395.28 193.18 L398.22 193.18 L401.15 193.22 L404.09 193.27 L407.02 193.35 L409.96 193.46 L412.89 193.59 L415.83 193.74 L418.76 193.93 L421.69 194.13 L424.63 194.37 L427.56 194.64 L430.50 194.93 L433.43 195.26 L436.37 195.62 L439.30 196.01 L442.24 196.43 L445.17 196.89 L448.10 197.38 L451.04 197.91 L453.97 198.48 L456.91 199.09 L459.84 199.74 L462.78 200.44 L465.71 201.18 L468.65 201.97 L471.58 202.81 L474.52 203.70 L477.45 204.65 L480.38 205.65 L483.32 206.71 L486.25 207.83 L489.19 209.02 L492.12 210.27 L495.06 211.60 L497.99 213.00 L500.93 214.47 L503.86 216.03 L506.79 217.67 L509.73 219.40 L512.66 221.22 L515.60 223.13 L518.53 225.15 L521.47 227.27 L524.40 229.50 L527.34 231.85 L530.27 234.31 L533.21 236.90 L536.14 239.61 M67.27 358.47 L69.84 354.97 L72.41 351.55 L74.97 348.20 L77.54 344.90 L80.11 341.68 L82.68 338.51 L85.25 335.39 L87.81 332.34 L90.38 329.33 L92.95 326.38 L95.52 323.48 L98.08 320.62 L100.65 317.81 L103.22 315.05 L105.79 312.33 L108.35 309.65 L110.92 307.02 L113.49 304.42 L116.06 301.87 L118.63 299.35 L121.19 296.87 L123.76 294.42 L126.33 292.01 L128.90 289.64 L131.46 287.30 L134.03 284.99 L136.60 282.71 L139.17 280.47 L141.73 278.26 L144.30 276.09 L146.87 273.94 L149.44 271.82 L152.01 269.74 L154.57 267.68 L157.14 265.66 L159.71 263.66 L162.28 261.70 L164.84 259.76 L167.41 257.86 L169.98 255.98 L172.55 254.13 L175.11 252.31 L177.68 250.52 L180.25 248.76 L182.82 247.03 L185.39 245.33 L187.95 243.66 L190.52 242.01 L193.09 240.39 L195.66 238.81 L198.22 237.25 L200.79 235.72 L203.36 234.22 L205.93 232.74 L208.49 231.30 L211.06 229.89 L213.63 228.50 L216.20 227.14 L218.77 225.81 L221.33 224.51 L223.90 223.24 L226.47 222.00 L229.04 220.78 L231.60 219.59 L234.17 218.43 L236.74 217.30 L239.31 216.20 L241.87 215.13 L244.44 214.08 L247.01 213.06 L249.58 212.07 L252.15 211.11 L254.71 210.17 L257.28 209.26 L259.85 208.38 L262.42 207.53 L264.98 206.70 L267.55 205.90 L270.12 205.12 L272.69 204.37 L275.25 203.65 L277.82 202.95 L280.39 202.28 L282.96 201.64 L285.53 201.01 L288.09 200.42 L290.66 199.85 L293.23 199.30 L295.80 198.78 L298.36 198.28 L300.93 197.81 L303.50 197.36 L306.07 196.93 L308.63 196.53 L311.20 196.15 L313.77 195.80 L316.34 195.46 L318.91 195.15 L321.47 194.87 L324.04 194.60 L326.61 194.36 L329.18 194.14 L331.74 193.94 L334.31 193.77 L336.88 193.61 L339.45 193.48 L342.01 193.38 L344.58 193.29 L347.15 193.23 L349.72 193.19 L352.29 193.18 L354.85 193.18 L357.42 193.22 L359.99 193.27 L362.56 193.35 L365.12 193.46 L367.69 193.59 L370.26 193.74 L372.83 193.93 L375.39 194.13 L377.96 194.37 L380.53 194.64 L383.10 194.93 L385.67 195.26 L388.23 195.62 L390.80 196.01 L393.37 196.43 L395.94 196.89 L398.50 197.38 L401.07 197.91 L403.64 198.48 L406.21 199.09 L408.77 199.74 L411.34 200.44 L413.91 201.18 L416.48 201.97 L419.05 202.81 L421.61 203.70 L424.18 204.65 L426.75 205.65 L429.32 206.71 L431.88 207.83 L434.45 209.02 L437.02 210.27 L439.59 211.60 L442.15 213.00 L444.72 214.47 L447.29 216.03 L449.86 217.67 L452.43 219.40 L454.99 221.22 L457.56 223.13 L460.13 225.15 L462.70 227.27 L465.26 229.50 L467.83 231.85 L470.40 234.31 L472.97 236.90 L475.53 239.61 M64.99 358.47 L67.19 354.97 L69.39 351.55 L71.59 348.20 L73.79 344.90 L75.99 341.68 L78.19 338.51 L80.40 335.39 L82.60 332.34 L84.80 329.33 L87.00 326.38 L89.20 323.48 L91.40 320.62 L93.60 317.81 L95.80 315.05 L98.00 312.33 L100.20 309.65 L102.40 307.02 L104.61 304.42 L106.81 301.87 L109.01 299.35 L111.21 296.87 L113.41 294.42 L115.61 292.01 L117.81 289.64 L120.01 287.30 L122.21 284.99 L124.41 282.71 L126.61 280.47 L128.82 278.26 L131.02 276.09 L133.22 273.94 L135.42 271.82 L137.62 269.74 L139.82 267.68 L142.02 265.66 L144.22 263.66 L146.42 261.70 L148.62 259.76 L150.82 257.86 L153.02 255.98 L155.23 254.13 L157.43 252.31 L159.63 250.52 L161.83 248.76 L164.03 247.03 L166.23 245.33 L168.43 243.66 L170.63 242.01 L172.83 240.39 L175.03 238.81 L177.23 237.25 L179.44 235.72 L181.64 234.22 L183.84 232.74 L186.04 231.30 L188.24 229.89 L190.44 228.50 L192.64 227.14 L194.84 225.81 L197.04 224.51 L199.24 223.24 L201.44 222.00 L203.65 220.78 L205.85 219.59 L208.05 218.43 L210.25 217.30 L212.45 216.20 L214.65 215.13 L216.85 214.08 L219.05 213.06 L221.25 212.07 L223.45 211.11 L225.65 210.17 L227.85 209.26 L230.06 208.38 L232.26 207.53 L234.46 206.70 L236.66 205.90 L238.86 205.12 L241.06 204.37 L243.26 203.65 L245.46 202.95 L247.66 202.28 L249.86 201.64 L252.06 201.01 L254.27 200.42 L256.47 199.85 L258.67 199.30 L260.87 198.78 L263.07 198.28 L265.27 197.81 L267.47 197.36 L269.67 196.93 L271.87 196.53 L274.07 196.15 L276.27 195.80 L278.48 195.46 L280.68 195.15 L282.88 194.87 L285.08 194.60 L287.28 194.36 L289.48 194.14 L291.68 193.94 L293.88 193.77 L296.08 193.61 L298.28 193.48 L300.48 193.38 L302.68 193.29 L304.89 193.23 L307.09 193.19 L309.29 193.18 L311.49 193.18 L313.69 193.22 L315.89 193.27 L318.09 193.35 L320.29 193.46 L322.49 193.59 L324.69 193.74 L326.89 193.93 L329.10 194.13 L331.30 194.37 L333.50 194.64 L335.70 194.93 L337.90 195.26 L340.10 195.62 L342.30 196.01 L344.50 196.43 L346.70 196.89 L348.90 197.38 L351.10 197.91 L353.31 198.48 L355.51 199.09 L357.71 199.74 L359.91 200.44 L362.11 201.18 L364.31 201.97 L366.51 202.81 L368.71 203.70 L370.91 204.65 L373.11 205.65 L375.31 206.71 L377.51 207.83 L379.72 209.02 L381.92 210.27 L384.12 211.60 L386.32 213.00 L388.52 214.47 L390.72 216.03 L392.92 217.67 L395.12 219.40 L397.32 221.22 L399.52 223.13 L401.72 225.15 L403.93 227.27 L406.13 229.50 L408.33 231.85 L410.53 234.31 L412.73 236.90 L414.93 239.61 M62.71 358.47 L64.54 354.97 L66.38 351.55 L68.21 348.20 L70.04 344.90 L71.88 341.68 L73.71 338.51 L75.55 335.39 L77.38 332.34 L79.21 329.33 L81.05 326.38 L82.88 323.48 L84.72 320.62 L86.55 317.81 L88.38 315.05 L90.22 312.33 L92.05 309.65 L93.89 307.02 L95.72 304.42 L97.56 301.87 L99.39 299.35 L101.22 296.87 L103.06 294.42 L104.89 292.01 L106.73 289.64 L108.56 287.30 L110.39 284.99 L112.23 282.71 L114.06 280.47 L115.90 278.26 L117.73 276.09 L119.56 273.94 L121.40 271.82 L123.23 269.74 L125.07 267.68 L126.90 265.66 L128.73 263.66 L130.57 261.70 L132.40 259.76 L134.24 257.86 L136.07 255.98 L137.90 254.13 L139.74 252.31 L141.57 250.52 L143.41 248.76 L145.24 247.03 L147.08 245.33 L148.91 243.66 L150.74 242.01 L152.58 240.39 L154.41 238.81 L156.25 237.25 L158.08 235.72 L159.91 234.22 L161.75 232.74 L163.58 231.30 L165.42 229.89 L167.25 228.50 L169.08 227.14 L170.92 225.81 L172.75 224.51 L174.59 223.24 L176.42 222.00 L178.25 220.78 L180.09 219.59 L181.92 218.43 L183.76 217.30 L185.59 216.20 L187.42 215.13 L189.26 214.08 L191.09 213.06 L192.93 212.07 L194.76 211.11 L196.60 210.17 L198.43 209.26 L200.26 208.38 L202.10 207.53 L203.93 206.70 L205.77 205.90 L207.60 205.12 L209.43 204.37 L211.27 203.65 L213.10 202.95 L214.94 202.28 L216.77 201.64 L218.60 201.01 L220.44 200.42 L222.27 199.85 L224.11 199.30 L225.94 198.78 L227.77 198.28 L229.61 197.81 L231.44 197.36 L233.28 196.93 L235.11 196.53 L236.94 196.15 L238.78 195.80 L240.61 195.46 L242.45 195.15 L244.28 194.87 L246.11 194.60 L247.95 194.36 L249.78 194.14 L251.62 193.94 L253.45 193.77 L255.29 193.61 L257.12 193.48 L258.95 193.38 L260.79 193.29 L262.62 193.23 L264.46 193.19 L266.29 193.18 L268.12 193.18 L269.96 193.22 L271.79 193.27 L273.63 193.35 L275.46 193.46 L277.29 193.59 L279.13 193.74 L280.96 193.93 L282.80 194.13 L284.63 194.37 L286.46 194.64 L288.30 194.93 L290.13 195.26 L291.97 195.62 L293.80 196.01 L295.63 196.43 L297.47 196.89 L299.30 197.38 L301.14 197.91 L302.97 198.48 L304.81 199.09 L306.64 199.74 L308.47 200.44 L310.31 201.18 L312.14 201.97 L313.98 202.81 L315.81 203.70 L317.64 204.65 L319.48 205.65 L321.31 206.71 L323.15 207.83 L324.98 209.02 L326.81 210.27 L328.65 211.60 L330.48 213.00 L332.32 214.47 L334.15 216.03 L335.98 217.67 L337.82 219.40 L339.65 221.22 L341.49 223.13 L343.32 225.15 L345.15 227.27 L346.99 229.50 L348.82 231.85 L350.66 234.31 L352.49 236.90 L354.32 239.61 M60.43 358.47 L61.89 354.97 L63.36 351.55 L64.83 348.20 L66.30 344.90 L67.76 341.68 L69.23 338.51 L70.70 335.39 L72.16 332.34 L73.63 329.33 L75.10 326.38 L76.57 323.48 L78.03 320.62 L79.50 317.81 L80.97 315.05 L82.44 312.33 L83.90 309.65 L85.37 307.02 L86.84 304.42 L88.30 301.87 L89.77 299.35 L91.24 296.87 L92.71 294.42 L94.17 292.01 L95.64 289.64 L97.11 287.30 L98.58 284.99 L100.04 282.71 L101.51 280.47 L102.98 278.26 L104.44 276.09 L105.91 273.94 L107.38 271.82 L108.85 269.74 L110.31 267.68 L111.78 265.66 L113.25 263.66 L114.71 261.70 L116.18 259.76 L117.65 257.86 L119.12 255.98 L120.58 254.13 L122.05 252.31 L123.52 250.52 L124.99 248.76 L126.45 247.03 L127.92 245.33 L129.39 243.66 L130.85 242.01 L132.32 240.39 L133.79 238.81 L135.26 237.25 L136.72 235.72 L138.19 234.22 L139.66 232.74 L141.13 231.30 L142.59 229.89 L144.06 228.50 L145.53 227.14 L146.99 225.81 L148.46 224.51 L149.93 223.24 L151.40 222.00 L152.86 220.78 L154.33 219.59 L155.80 218.43 L157.27 217.30 L158.73 216.20 L160.20 215.13 L161.67 214.08 L163.13 213.06 L164.60 212.07 L166.07 211.11 L167.54 210.17 L169.00 209.26 L170.47 208.38 L171.94 207.53 L173.41 206.70 L174.87 205.90 L176.34 205.12 L177.81 204.37 L179.27 203.65 L180.74 202.95 L182.21 202.28 L183.68 201.64 L185.14 201.01 L186.61 200.42 L188.08 199.85 L189.54 199.30 L191.01 198.78 L192.48 198.28 L193.95 197.81 L195.41 197.36 L196.88 196.93 L198.35 196.53 L199.82 196.15 L201.28 195.80 L202.75 195.46 L204.22 195.15 L205.68 194.87 L207.15 194.60 L208.62 194.36 L210.09 194.14 L211.55 193.94 L213.02 193.77 L214.49 193.61 L215.96 193.48 L217.42 193.38 L218.89 193.29 L220.36 193.23 L221.82 193.19 L223.29 193.18 L224.76 193.18 L226.23 193.22 L227.69 193.27 L229.16 193.35 L230.63 193.46 L232.10 193.59 L233.56 193.74 L235.03 193.93 L236.50 194.13 L237.96 194.37 L239.43 194.64 L240.90 194.93 L242.37 195.26 L243.83 195.62 L245.30 196.01 L246.77 196.43 L248.24 196.89 L249.70 197.38 L251.17 197.91 L252.64 198.48 L254.10 199.09 L255.57 199.74 L257.04 200.44 L258.51 201.18 L259.97 201.97 L261.44 202.81 L262.91 203.70 L264.37 204.65 L265.84 205.65 L267.31 206.71 L268.78 207.83 L270.24 209.02 L271.71 210.27 L273.18 211.60 L274.65 213.00 L276.11 214.47 L277.58 216.03 L279.05 217.67 L280.51 219.40 L281.98 221.22 L283.45 223.13 L284.92 225.15 L286.38 227.27 L287.85 229.50 L289.32 231.85 L290.79 234.31 L292.25 236.90 L293.72 239.61 M58.14 358.47 L59.25 354.97 L60.35 351.55 L61.45 348.20 L62.55 344.90 L63.65 341.68 L64.75 338.51 L65.85 335.39 L66.95 332.34 L68.05 329.33 L69.15 326.38 L70.25 323.48 L71.35 320.62 L72.45 317.81 L73.55 315.05 L74.65 312.33 L75.75 309.65 L76.85 307.02 L77.95 304.42 L79.05 301.87 L80.15 299.35 L81.25 296.87 L82.35 294.42 L83.45 292.01 L84.56 289.64 L85.66 287.30 L86.76 284.99 L87.86 282.71 L88.96 280.47 L90.06 278.26 L91.16 276.09 L92.26 273.94 L93.36 271.82 L94.46 269.74 L95.56 267.68 L96.66 265.66 L97.76 263.66 L98.86 261.70 L99.96 259.76 L101.06 257.86 L102.16 255.98 L103.26 254.13 L104.36 252.31 L105.46 250.52 L106.56 248.76 L107.66 247.03 L108.77 245.33 L109.87 243.66 L110.97 242.01 L112.07 240.39 L113.17 238.81 L114.27 237.25 L115.37 235.72 L116.47 234.22 L117.57 232.74 L118.67 231.30 L119.77 229.89 L120.87 228.50 L121.97 227.14 L123.07 225.81 L124.17 224.51 L125.27 223.24 L126.37 222.00 L127.47 220.78 L128.57 219.59 L129.67 218.43 L130.77 217.30 L131.87 216.20 L132.97 215.13 L134.08 214.08 L135.18 213.06 L136.28 212.07 L137.38 211.11 L138.48 210.17 L139.58 209.26 L140.68 208.38 L141.78 207.53 L142.88 206.70 L143.98 205.90 L145.08 205.12 L146.18 204.37 L147.28 203.65 L148.38 202.95 L149.48 202.28 L150.58 201.64 L151.68 201.01 L152.78 200.42 L153.88 199.85 L154.98 199.30 L156.08 198.78 L157.18 198.28 L158.28 197.81 L159.39 197.36 L160.49 196.93 L161.59 196.53 L162.69 196.15 L163.79 195.80 L164.89 195.46 L165.99 195.15 L167.09 194.87 L168.19 194.60 L169.29 194.36 L170.39 194.14 L171.49 193.94 L172.59 193.77 L173.69 193.61 L174.79 193.48 L175.89 193.38 L176.99 193.29 L178.09 193.23 L179.19 193.19 L180.29 193.18 L181.39 193.18 L182.49 193.22 L183.60 193.27 L184.70 193.35 L185.80 193.46 L186.90 193.59 L188.00 193.74 L189.10 193.93 L190.20 194.13 L191.30 194.37 L192.40 194.64 L193.50 194.93 L194.60 195.26 L195.70 195.62 L196.80 196.01 L197.90 196.43 L199.00 196.89 L200.10 197.38 L201.20 197.91 L202.30 198.48 L203.40 199.09 L204.50 199.74 L205.60 200.44 L206.70 201.18 L207.80 201.97 L208.91 202.81 L210.01 203.70 L211.11 204.65 L212.21 205.65 L213.31 206.71 L214.41 207.83 L215.51 209.02 L216.61 210.27 L217.71 211.60 L218.81 213.00 L219.91 214.47 L221.01 216.03 L222.11 217.67 L223.21 219.40 L224.31 221.22 L225.41 223.13 L226.51 225.15 L227.61 227.27 L228.71 229.50 L229.81 231.85 L230.91 234.31 L232.01 236.90 L233.12 239.61" stroke-width="1.15"/>
</g>
<g fill="none" stroke="#636363" stroke-width="1.6">
<path d="M51.30 0.00 V382.00"/>
<path d="M718.00 0.00 V382.00"/>
<path d="M51.30 399.70 V603.20"/>
<path d="M718.00 399.70 V603.20"/>
</g>
<path d="M50.50 0.50 H718.80" fill="none" stroke="#6e6e6e" stroke-width="1.4"/>
<path d="M50.50 381.50 H718.80" fill="none" stroke="#5a5a5a" stroke-width="1.4"/>
<path d="M50.50 400.10 H718.80" fill="none" stroke="#808080" stroke-width="1.4"/>
<path d="M46.80 602.80 H722.00" fill="none" stroke="#b4b4b4" stroke-width="1.6"/>
<path d="M51.30 381.30 h-4.3 M51.30 343.20 h-4.3 M51.30 305.10 h-4.3 M51.30 267.00 h-4.3 M51.30 228.90 h-4.3 M51.30 190.80 h-4.3 M51.30 152.70 h-4.3 M51.30 114.60 h-4.3 M51.30 76.50 h-4.3 M718.00 381.30 h4 M718.00 343.20 h4 M718.00 305.10 h4 M718.00 267.00 h4 M718.00 228.90 h4 M718.00 190.80 h4 M718.00 152.70 h4 M718.00 114.60 h4 M718.00 76.50 h4 M718.00 38.40 h4 M51.30 602.80 h-4.3 M718.00 602.80 h4 M51.30 580.28 h-4.3 M718.00 580.28 h4 M51.30 557.76 h-4.3 M718.00 557.76 h4 M51.30 535.24 h-4.3 M718.00 535.24 h4 M51.30 512.72 h-4.3 M718.00 512.72 h4 M51.30 490.20 h-4.3 M718.00 490.20 h4 M51.30 467.68 h-4.3 M718.00 467.68 h4 M51.30 445.16 h-4.3 M718.00 445.16 h4 M51.30 422.64 h-4.3 M718.00 422.64 h4 M51.30 381.50 v4 M86.95 381.50 v4 M122.60 381.50 v4 M158.25 381.50 v4 M193.90 381.50 v4 M229.55 381.50 v4 M265.20 381.50 v4 M300.85 381.50 v4 M336.50 381.50 v4 M372.15 381.50 v4 M407.80 381.50 v4 M443.45 381.50 v4 M479.10 381.50 v4 M514.75 381.50 v4 M550.40 381.50 v4 M586.05 381.50 v4 M621.70 381.50 v4 M657.35 381.50 v4 M693.00 381.50 v4" fill="none" stroke="#2a2a2a" stroke-width="1"/>
<g text-anchor="end">
<text x="43.5" y="385.00">0</text>
<text x="43.5" y="346.90">20</text>
<text x="43.5" y="308.80">40</text>
<text x="43.5" y="270.70">60</text>
<text x="43.5" y="232.60">80</text>
<text x="43.5" y="194.50">100</text>
<text x="43.5" y="156.40">120</text>
<text x="43.5" y="118.30">140</text>
<text x="43.5" y="80.20">160</text>
<text x="43.5" y="606.50">0.0</text>
<text x="43.5" y="583.98">0.2</text>
<text x="43.5" y="561.46">0.4</text>
<text x="43.5" y="538.94">0.6</text>
<text x="43.5" y="516.42">0.8</text>
<text x="43.5" y="493.90">1.0</text>
<text x="43.5" y="471.38">1.2</text>
<text x="43.5" y="448.86">1.4</text>
</g>
<g text-anchor="start">
<text x="725.5" y="385.00">0</text>
<text x="725.5" y="346.90">10</text>
<text x="725.5" y="308.80">20</text>
<text x="725.5" y="270.70">30</text>
<text x="725.5" y="232.60">40</text>
<text x="725.5" y="194.50">50</text>
<text x="725.5" y="156.40">60</text>
<text x="725.5" y="118.30">70</text>
<text x="725.5" y="80.20">80</text>
<text x="725.5" y="42.10">90</text>
<text x="725.5" y="606.50">0</text>
<text x="725.5" y="583.98">2</text>
<text x="725.5" y="561.46">4</text>
<text x="725.5" y="538.94">6</text>
<text x="725.5" y="516.42">8</text>
<text x="725.5" y="493.90">10</text>
<text x="725.5" y="471.38">12</text>
<text x="725.5" y="448.86">14</text>
</g>
<g text-anchor="middle">
<text x="50.90" y="394.9">0</text>
<text x="86.55" y="394.9">0,2</text>
<text x="122.20" y="394.9">0,4</text>
<text x="157.85" y="394.9">0,6</text>
<text x="193.50" y="394.9">0,8</text>
<text x="229.15" y="394.9">1,0</text>
<text x="264.80" y="394.9">1,2</text>
<text x="300.45" y="394.9">1,4</text>
<text x="336.10" y="394.9">1,6</text>
<text x="371.75" y="394.9">1,8</text>
<text x="407.40" y="394.9">2,0</text>
<text x="443.05" y="394.9">2,2</text>
<text x="478.70" y="394.9">2,4</text>
<text x="514.35" y="394.9">2,6</text>
<text x="550.00" y="394.9">2,8</text>
<text x="585.65" y="394.9">3,0</text>
<text x="621.30" y="394.9">3,2</text>
<text x="656.95" y="394.9">3,4</text>
<text x="27.7" y="9.9">H</text><text x="26.9" y="21.7">[m]</text>
<text x="739.1" y="9.8">eta</text><text x="739.5" y="21.7">[%]</text>
<text x="26.4" y="409.8">P2</text><text x="25.4" y="421.8">[kW]</text>
<text x="746.3" y="410">NPSH</text><text x="746" y="421.8">[m]</text>
</g>
<text x="677.3" y="394.9" textLength="36" lengthAdjust="spacingAndGlyphs">Q [m³/h]</text>
<text x="86.3" y="83.20">100 %</text>
<text x="86.3" y="138.70">90 %</text>
<text x="86.3" y="188.70">80 %</text>
<text x="86.3" y="234.20">70 %</text>
<text x="86.3" y="273.20">60 %</text>
<text x="86.3" y="306.00">50 %</text>
<text x="86.3" y="332.40">40 %</text>
<text x="86.3" y="353.60">30 %</text>
<rect x="630.2" y="0" width="87.8" height="16" fill="#fff"/>
<path d="M630.2 0 V16 H718" fill="none" stroke="#8a8a8a" stroke-width="1.1"/>
<path d="M629.7 0.5 H718" fill="none" stroke="#555" stroke-width="1.2"/>
<path d="M718 0 V16.5" fill="none" stroke="#1a1a1a" stroke-width="1.6"/>
<text x="633.3" y="11.2">SQE 2-115, 50Hz</text>
<rect x="594.5" y="19.5" width="122.7" height="37" fill="#fff"/>
<text x="595.5" y="29.7">Čerpaná kapalina = Voda</text>
<text x="595.5" y="41.6">Teplota kapaliny = 20 °C</text>
<text x="595.5" y="53.6">Hustota = 998.2 kg/m³</text>
</svg>
</body></html>
